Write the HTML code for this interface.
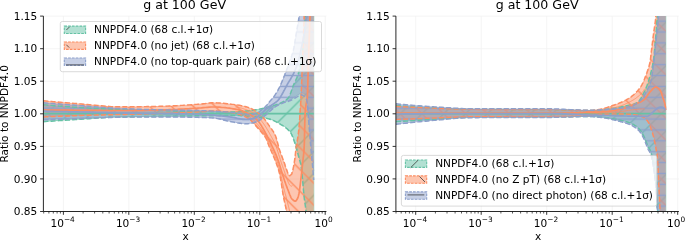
<!DOCTYPE html>
<html><head><meta charset="utf-8"><title>g at 100 GeV</title>
<style>html,body{margin:0;padding:0;background:#fff;}body{width:685px;height:240px;overflow:hidden;}svg{display:block;}text{font-family:"DejaVu Sans","Liberation Sans",sans-serif;fill:#000;}.t{font-size:10.55px;}.s{font-size:7.4px;}.ttl{font-size:12.6px;}</style></head><body>
<svg width="685" height="240" viewBox="0 0 685 240">
<defs>
<pattern id="hgL" patternUnits="userSpaceOnUse" x="0" y="8.52" width="21.76" height="21.76"><path d="M0,21.76 L21.76,0 M-1,1 L1,-1 M20.76,22.76 L22.76,20.76" stroke="#66c2a5" stroke-width="1.4" stroke-opacity="0.95" fill="none"/></pattern>
<pattern id="hoL" patternUnits="userSpaceOnUse" x="0" y="0.10" width="21.76" height="21.76"><path d="M0,0 L21.76,21.76 M20.76,-1 L22.76,1 M-1,20.76 L1,22.76" stroke="#fc8d62" stroke-width="1.4" stroke-opacity="0.95" fill="none"/></pattern>
<pattern id="hgR" patternUnits="userSpaceOnUse" x="0" y="13.56" width="21.76" height="21.76"><path d="M0,21.76 L21.76,0 M-1,1 L1,-1 M20.76,22.76 L22.76,20.76" stroke="#66c2a5" stroke-width="1.4" stroke-opacity="0.95" fill="none"/></pattern>
<pattern id="hoR" patternUnits="userSpaceOnUse" x="0" y="18.26" width="21.76" height="21.76"><path d="M0,0 L21.76,21.76 M20.76,-1 L22.76,1 M-1,20.76 L1,22.76" stroke="#fc8d62" stroke-width="1.4" stroke-opacity="0.95" fill="none"/></pattern>
<pattern id="hb" patternUnits="userSpaceOnUse" x="0" y="91.86" width="10.88" height="10.88"><path d="M0,5.44 L10.88,5.44" stroke="#8da0cb" stroke-width="1.4" stroke-opacity="0.95" fill="none"/></pattern>
<clipPath id="cl"><rect x="43.4" y="16.1" width="283.0" height="195.4"/></clipPath>
<clipPath id="cr"><rect x="395.9" y="16.1" width="283.0" height="195.4"/></clipPath>
<filter id="sb" x="-5%" y="-5%" width="110%" height="110%"><feGaussianBlur stdDeviation="0.5"/></filter>
</defs>
<rect width="685" height="240" fill="#fff"/>
<path d="M63.4,16.1 V211.5 M128.8,16.1 V211.5 M194.3,16.1 V211.5 M259.8,16.1 V211.5 M325.2,16.1 V211.5 M43.4,211.5 H326.4 M43.4,178.9 H326.4 M43.4,146.4 H326.4 M43.4,113.8 H326.4 M43.4,81.2 H326.4 M43.4,48.7 H326.4 M43.4,16.1 H326.4" stroke="#f1f1f1" stroke-width="0.8" fill="none"/>
<g clip-path="url(#cl)"><g filter="url(#sb)">
<path d="M43.4,105.0 L45.4,105.1 L47.4,105.3 L49.4,105.5 L51.4,105.6 L53.4,105.8 L55.4,106.0 L57.4,106.1 L59.4,106.3 L61.4,106.4 L63.4,106.6 L65.4,106.7 L67.4,106.9 L69.4,107.0 L71.4,107.1 L73.4,107.3 L75.4,107.4 L77.4,107.5 L79.4,107.6 L81.4,107.8 L83.4,107.9 L85.4,108.0 L87.4,108.1 L89.4,108.2 L91.4,108.3 L93.4,108.4 L95.4,108.5 L97.4,108.7 L99.4,108.8 L101.4,108.9 L103.4,109.0 L105.4,109.0 L107.4,109.1 L109.4,109.2 L111.4,109.3 L113.4,109.4 L115.4,109.5 L117.4,109.5 L119.4,109.6 L121.4,109.7 L123.4,109.7 L125.4,109.8 L127.4,109.8 L129.4,109.9 L131.4,109.9 L133.4,110.0 L135.4,110.0 L137.4,110.1 L139.4,110.1 L141.4,110.2 L143.4,110.2 L145.4,110.3 L147.4,110.3 L149.4,110.4 L151.4,110.4 L153.4,110.4 L155.4,110.5 L157.4,110.5 L159.4,110.6 L161.4,110.6 L163.4,110.7 L165.4,110.7 L167.4,110.8 L169.4,110.8 L171.4,110.9 L173.4,110.9 L175.4,111.0 L177.4,111.1 L179.4,111.1 L181.4,111.2 L183.4,111.2 L185.4,111.3 L187.4,111.3 L189.4,111.4 L191.4,111.4 L193.4,111.4 L195.4,111.5 L197.4,111.5 L199.4,111.6 L201.4,111.6 L203.4,111.6 L205.4,111.6 L207.4,111.7 L209.4,111.7 L211.4,111.7 L213.4,111.8 L215.4,111.8 L217.4,111.8 L219.4,111.8 L221.4,111.9 L223.4,111.9 L225.4,111.9 L227.4,111.9 L229.4,111.9 L231.4,111.9 L233.4,111.9 L235.4,111.9 L237.4,111.9 L238.7,111.8 L239.2,111.8 L239.7,111.7 L240.2,111.7 L240.7,111.7 L241.2,111.6 L241.7,111.6 L242.2,111.5 L242.7,111.5 L243.2,111.4 L243.7,111.4 L244.2,111.3 L244.7,111.2 L245.2,111.2 L245.7,111.1 L246.2,111.1 L246.7,111.0 L247.2,110.9 L247.7,110.9 L248.2,110.8 L248.7,110.7 L249.2,110.7 L249.7,110.6 L250.2,110.6 L250.7,110.5 L251.2,110.5 L251.7,110.4 L252.2,110.3 L252.7,110.3 L253.2,110.2 L253.7,110.1 L254.2,110.1 L254.7,110.0 L255.2,109.9 L255.7,109.8 L256.2,109.8 L256.7,109.7 L257.2,109.6 L257.7,109.5 L258.2,109.5 L258.7,109.4 L259.2,109.3 L259.7,109.2 L260.2,109.1 L260.7,109.0 L261.2,108.9 L261.7,108.8 L262.2,108.7 L262.7,108.6 L263.2,108.5 L263.7,108.4 L264.2,108.2 L264.7,108.1 L265.2,108.0 L265.7,107.9 L266.2,107.7 L266.7,107.6 L267.2,107.5 L267.7,107.3 L268.2,107.2 L268.7,107.1 L269.2,106.9 L269.7,106.8 L270.2,106.7 L270.7,106.5 L271.2,106.4 L271.7,106.2 L272.2,106.1 L272.7,106.0 L273.2,105.8 L273.7,105.7 L274.2,105.5 L274.7,105.4 L275.2,105.2 L275.7,105.1 L276.2,104.9 L276.7,104.7 L277.2,104.6 L277.7,104.4 L278.2,104.2 L278.7,104.0 L279.2,103.8 L279.7,103.6 L280.2,103.4 L280.7,103.2 L281.2,103.0 L281.7,102.7 L282.2,102.5 L282.7,102.3 L283.2,102.0 L283.7,101.8 L284.0,101.6 L284.3,101.5 L284.6,101.3 L284.9,101.1 L285.2,100.9 L285.5,100.7 L285.8,100.5 L286.1,100.3 L286.4,100.1 L286.7,99.8 L287.0,99.6 L287.3,99.3 L287.6,99.1 L287.9,98.8 L288.2,98.5 L288.5,98.1 L288.8,97.7 L289.1,97.2 L289.4,96.6 L289.7,95.9 L290.0,95.2 L290.3,94.5 L290.6,93.7 L290.9,92.9 L291.2,92.1 L291.5,91.2 L291.8,90.4 L292.1,89.6 L292.4,88.7 L292.7,87.9 L293.0,87.1 L293.3,86.3 L293.6,85.6 L293.9,84.9 L294.2,84.3 L294.5,83.6 L294.8,83.0 L295.1,82.4 L295.4,81.8 L295.7,81.2 L296.0,80.5 L296.3,79.9 L296.6,79.2 L296.9,78.5 L297.2,77.8 L297.5,77.1 L297.8,76.3 L298.1,75.4 L298.4,74.5 L298.7,73.5 L299.0,72.5 L299.3,71.4 L299.6,70.1 L299.9,68.8 L300.2,67.4 L300.5,65.8 L300.8,64.2 L301.1,62.5 L301.4,60.7 L301.7,58.8 L302.0,56.8 L302.3,54.5 L302.6,51.9 L302.9,49.1 L303.2,46.0 L303.5,42.8 L303.8,39.5 L304.1,36.3 L304.4,32.9 L304.7,29.4 L305.0,25.6 L305.3,21.7 L305.6,17.5 L305.9,13.0 L306.2,8.2 L306.5,3.1 L306.8,-2.4 L307.1,-8.3 L307.4,-14.4 L307.7,-20.7 L308.0,-27.2 L308.3,-33.8 L308.6,-40.0 L308.9,-40.0 L309.2,-40.0 L309.5,-40.0 L309.8,-40.0 L310.1,-40.0 L310.4,-40.0 L310.7,-40.0 L311.0,-40.0 L311.3,-40.0 L311.6,-40.0 L311.9,-40.0 L312.2,-40.0 L312.5,-40.0 L312.8,-40.0 L313.1,-40.0 L313.4,-40.0 L313.7,-40.0 L313.7,280.0 L313.4,280.0 L313.1,280.0 L312.8,280.0 L312.5,280.0 L312.2,280.0 L311.9,280.0 L311.6,280.0 L311.3,280.0 L311.0,280.0 L310.7,280.0 L310.4,274.5 L310.1,266.7 L309.8,259.4 L309.5,252.6 L309.2,246.3 L308.9,240.6 L308.6,235.3 L308.3,230.7 L308.0,226.5 L307.7,222.9 L307.4,219.8 L307.1,217.0 L306.8,214.4 L306.5,212.0 L306.2,209.7 L305.9,207.3 L305.6,205.0 L305.3,203.0 L305.0,201.0 L304.7,198.9 L304.4,196.8 L304.1,194.4 L303.8,191.7 L303.5,188.5 L303.2,185.0 L302.9,181.5 L302.6,178.1 L302.3,175.1 L302.0,172.3 L301.7,169.6 L301.4,167.1 L301.1,164.9 L300.8,163.2 L300.5,161.9 L300.2,160.7 L299.9,159.7 L299.6,158.7 L299.3,157.7 L299.0,156.7 L298.7,155.5 L298.4,154.4 L298.1,153.3 L297.8,152.2 L297.5,151.1 L297.2,150.0 L296.9,148.9 L296.6,147.9 L296.3,146.8 L296.0,145.8 L295.7,144.8 L295.4,143.8 L295.1,142.9 L294.8,142.0 L294.5,141.2 L294.2,140.3 L293.9,139.5 L293.6,138.7 L293.3,137.9 L293.0,137.1 L292.7,136.3 L292.4,135.6 L292.1,134.9 L291.8,134.3 L291.5,133.6 L291.2,133.1 L290.9,132.6 L290.6,132.2 L290.3,131.8 L290.0,131.4 L289.7,131.1 L289.4,130.7 L289.1,130.4 L288.8,130.1 L288.5,129.7 L288.2,129.4 L287.9,129.2 L287.6,128.9 L287.3,128.6 L287.0,128.3 L286.7,128.1 L286.4,127.8 L286.1,127.6 L285.8,127.4 L285.5,127.2 L285.2,126.9 L284.9,126.7 L284.6,126.5 L284.3,126.3 L284.0,126.1 L283.7,125.9 L283.2,125.6 L282.7,125.3 L282.2,125.0 L281.7,124.7 L281.2,124.4 L280.7,124.1 L280.2,123.8 L279.7,123.6 L279.2,123.3 L278.7,123.0 L278.2,122.7 L277.7,122.5 L277.2,122.2 L276.7,121.9 L276.2,121.7 L275.7,121.4 L275.2,121.2 L274.7,120.9 L274.2,120.7 L273.7,120.5 L273.2,120.3 L272.7,120.1 L272.2,119.9 L271.7,119.7 L271.2,119.5 L270.7,119.3 L270.2,119.2 L269.7,119.0 L269.2,118.9 L268.7,118.7 L268.2,118.6 L267.7,118.5 L267.2,118.4 L266.7,118.3 L266.2,118.2 L265.7,118.1 L265.2,118.0 L264.7,117.9 L264.2,117.8 L263.7,117.7 L263.2,117.6 L262.7,117.6 L262.2,117.5 L261.7,117.4 L261.2,117.3 L260.7,117.3 L260.2,117.2 L259.7,117.2 L259.2,117.1 L258.7,117.0 L258.2,117.0 L257.7,116.9 L257.2,116.9 L256.7,116.8 L256.2,116.8 L255.7,116.7 L255.2,116.7 L254.7,116.6 L254.2,116.6 L253.7,116.5 L253.2,116.5 L252.7,116.4 L252.2,116.4 L251.7,116.3 L251.2,116.3 L250.7,116.3 L250.2,116.2 L249.7,116.2 L249.2,116.2 L248.7,116.1 L248.2,116.1 L247.7,116.1 L247.2,116.0 L246.7,116.0 L246.2,115.9 L245.7,115.9 L245.2,115.9 L244.7,115.8 L244.2,115.8 L243.7,115.8 L243.2,115.7 L242.7,115.7 L242.2,115.7 L241.7,115.7 L241.2,115.6 L240.7,115.6 L240.2,115.6 L239.7,115.6 L239.2,115.5 L238.7,115.5 L237.4,115.5 L235.4,115.4 L233.4,115.4 L231.4,115.4 L229.4,115.5 L227.4,115.5 L225.4,115.5 L223.4,115.5 L221.4,115.5 L219.4,115.5 L217.4,115.5 L215.4,115.6 L213.4,115.6 L211.4,115.6 L209.4,115.6 L207.4,115.7 L205.4,115.7 L203.4,115.7 L201.4,115.7 L199.4,115.7 L197.4,115.8 L195.4,115.8 L193.4,115.8 L191.4,115.8 L189.4,115.8 L187.4,115.9 L185.4,115.9 L183.4,115.9 L181.4,115.9 L179.4,116.0 L177.4,116.0 L175.4,116.0 L173.4,116.0 L171.4,116.1 L169.4,116.1 L167.4,116.1 L165.4,116.1 L163.4,116.2 L161.4,116.2 L159.4,116.2 L157.4,116.3 L155.4,116.3 L153.4,116.3 L151.4,116.3 L149.4,116.4 L147.4,116.4 L145.4,116.4 L143.4,116.4 L141.4,116.5 L139.4,116.5 L137.4,116.5 L135.4,116.6 L133.4,116.6 L131.4,116.6 L129.4,116.7 L127.4,116.7 L125.4,116.8 L123.4,116.8 L121.4,116.9 L119.4,116.9 L117.4,117.0 L115.4,117.0 L113.4,117.1 L111.4,117.2 L109.4,117.3 L107.4,117.4 L105.4,117.5 L103.4,117.6 L101.4,117.8 L99.4,117.9 L97.4,118.0 L95.4,118.1 L93.4,118.3 L91.4,118.4 L89.4,118.5 L87.4,118.7 L85.4,118.8 L83.4,118.9 L81.4,119.0 L79.4,119.2 L77.4,119.3 L75.4,119.4 L73.4,119.5 L71.4,119.6 L69.4,119.8 L67.4,119.9 L65.4,120.0 L63.4,120.1 L61.4,120.3 L59.4,120.4 L57.4,120.5 L55.4,120.7 L53.4,120.8 L51.4,120.9 L49.4,121.1 L47.4,121.2 L45.4,121.3 L43.4,121.5Z" fill="#66c2a5" fill-opacity="0.5" stroke="none"/>
<path d="M43.4,105.0 L45.4,105.1 L47.4,105.3 L49.4,105.5 L51.4,105.6 L53.4,105.8 L55.4,106.0 L57.4,106.1 L59.4,106.3 L61.4,106.4 L63.4,106.6 L65.4,106.7 L67.4,106.9 L69.4,107.0 L71.4,107.1 L73.4,107.3 L75.4,107.4 L77.4,107.5 L79.4,107.6 L81.4,107.8 L83.4,107.9 L85.4,108.0 L87.4,108.1 L89.4,108.2 L91.4,108.3 L93.4,108.4 L95.4,108.5 L97.4,108.7 L99.4,108.8 L101.4,108.9 L103.4,109.0 L105.4,109.0 L107.4,109.1 L109.4,109.2 L111.4,109.3 L113.4,109.4 L115.4,109.5 L117.4,109.5 L119.4,109.6 L121.4,109.7 L123.4,109.7 L125.4,109.8 L127.4,109.8 L129.4,109.9 L131.4,109.9 L133.4,110.0 L135.4,110.0 L137.4,110.1 L139.4,110.1 L141.4,110.2 L143.4,110.2 L145.4,110.3 L147.4,110.3 L149.4,110.4 L151.4,110.4 L153.4,110.4 L155.4,110.5 L157.4,110.5 L159.4,110.6 L161.4,110.6 L163.4,110.7 L165.4,110.7 L167.4,110.8 L169.4,110.8 L171.4,110.9 L173.4,110.9 L175.4,111.0 L177.4,111.1 L179.4,111.1 L181.4,111.2 L183.4,111.2 L185.4,111.3 L187.4,111.3 L189.4,111.4 L191.4,111.4 L193.4,111.4 L195.4,111.5 L197.4,111.5 L199.4,111.6 L201.4,111.6 L203.4,111.6 L205.4,111.6 L207.4,111.7 L209.4,111.7 L211.4,111.7 L213.4,111.8 L215.4,111.8 L217.4,111.8 L219.4,111.8 L221.4,111.9 L223.4,111.9 L225.4,111.9 L227.4,111.9 L229.4,111.9 L231.4,111.9 L233.4,111.9 L235.4,111.9 L237.4,111.9 L238.7,111.8 L239.2,111.8 L239.7,111.7 L240.2,111.7 L240.7,111.7 L241.2,111.6 L241.7,111.6 L242.2,111.5 L242.7,111.5 L243.2,111.4 L243.7,111.4 L244.2,111.3 L244.7,111.2 L245.2,111.2 L245.7,111.1 L246.2,111.1 L246.7,111.0 L247.2,110.9 L247.7,110.9 L248.2,110.8 L248.7,110.7 L249.2,110.7 L249.7,110.6 L250.2,110.6 L250.7,110.5 L251.2,110.5 L251.7,110.4 L252.2,110.3 L252.7,110.3 L253.2,110.2 L253.7,110.1 L254.2,110.1 L254.7,110.0 L255.2,109.9 L255.7,109.8 L256.2,109.8 L256.7,109.7 L257.2,109.6 L257.7,109.5 L258.2,109.5 L258.7,109.4 L259.2,109.3 L259.7,109.2 L260.2,109.1 L260.7,109.0 L261.2,108.9 L261.7,108.8 L262.2,108.7 L262.7,108.6 L263.2,108.5 L263.7,108.4 L264.2,108.2 L264.7,108.1 L265.2,108.0 L265.7,107.9 L266.2,107.7 L266.7,107.6 L267.2,107.5 L267.7,107.3 L268.2,107.2 L268.7,107.1 L269.2,106.9 L269.7,106.8 L270.2,106.7 L270.7,106.5 L271.2,106.4 L271.7,106.2 L272.2,106.1 L272.7,106.0 L273.2,105.8 L273.7,105.7 L274.2,105.5 L274.7,105.4 L275.2,105.2 L275.7,105.1 L276.2,104.9 L276.7,104.7 L277.2,104.6 L277.7,104.4 L278.2,104.2 L278.7,104.0 L279.2,103.8 L279.7,103.6 L280.2,103.4 L280.7,103.2 L281.2,103.0 L281.7,102.7 L282.2,102.5 L282.7,102.3 L283.2,102.0 L283.7,101.8 L284.0,101.6 L284.3,101.5 L284.6,101.3 L284.9,101.1 L285.2,100.9 L285.5,100.7 L285.8,100.5 L286.1,100.3 L286.4,100.1 L286.7,99.8 L287.0,99.6 L287.3,99.3 L287.6,99.1 L287.9,98.8 L288.2,98.5 L288.5,98.1 L288.8,97.7 L289.1,97.2 L289.4,96.6 L289.7,95.9 L290.0,95.2 L290.3,94.5 L290.6,93.7 L290.9,92.9 L291.2,92.1 L291.5,91.2 L291.8,90.4 L292.1,89.6 L292.4,88.7 L292.7,87.9 L293.0,87.1 L293.3,86.3 L293.6,85.6 L293.9,84.9 L294.2,84.3 L294.5,83.6 L294.8,83.0 L295.1,82.4 L295.4,81.8 L295.7,81.2 L296.0,80.5 L296.3,79.9 L296.6,79.2 L296.9,78.5 L297.2,77.8 L297.5,77.1 L297.8,76.3 L298.1,75.4 L298.4,74.5 L298.7,73.5 L299.0,72.5 L299.3,71.4 L299.6,70.1 L299.9,68.8 L300.2,67.4 L300.5,65.8 L300.8,64.2 L301.1,62.5 L301.4,60.7 L301.7,58.8 L302.0,56.8 L302.3,54.5 L302.6,51.9 L302.9,49.1 L303.2,46.0 L303.5,42.8 L303.8,39.5 L304.1,36.3 L304.4,32.9 L304.7,29.4 L305.0,25.6 L305.3,21.7 L305.6,17.5 L305.9,13.0 L306.2,8.2 L306.5,3.1 L306.8,-2.4 L307.1,-8.3 L307.4,-14.4 L307.7,-20.7 L308.0,-27.2 L308.3,-33.8 L308.6,-40.0 L308.9,-40.0 L309.2,-40.0 L309.5,-40.0 L309.8,-40.0 L310.1,-40.0 L310.4,-40.0 L310.7,-40.0 L311.0,-40.0 L311.3,-40.0 L311.6,-40.0 L311.9,-40.0 L312.2,-40.0 L312.5,-40.0 L312.8,-40.0 L313.1,-40.0 L313.4,-40.0 L313.7,-40.0 L313.7,280.0 L313.4,280.0 L313.1,280.0 L312.8,280.0 L312.5,280.0 L312.2,280.0 L311.9,280.0 L311.6,280.0 L311.3,280.0 L311.0,280.0 L310.7,280.0 L310.4,274.5 L310.1,266.7 L309.8,259.4 L309.5,252.6 L309.2,246.3 L308.9,240.6 L308.6,235.3 L308.3,230.7 L308.0,226.5 L307.7,222.9 L307.4,219.8 L307.1,217.0 L306.8,214.4 L306.5,212.0 L306.2,209.7 L305.9,207.3 L305.6,205.0 L305.3,203.0 L305.0,201.0 L304.7,198.9 L304.4,196.8 L304.1,194.4 L303.8,191.7 L303.5,188.5 L303.2,185.0 L302.9,181.5 L302.6,178.1 L302.3,175.1 L302.0,172.3 L301.7,169.6 L301.4,167.1 L301.1,164.9 L300.8,163.2 L300.5,161.9 L300.2,160.7 L299.9,159.7 L299.6,158.7 L299.3,157.7 L299.0,156.7 L298.7,155.5 L298.4,154.4 L298.1,153.3 L297.8,152.2 L297.5,151.1 L297.2,150.0 L296.9,148.9 L296.6,147.9 L296.3,146.8 L296.0,145.8 L295.7,144.8 L295.4,143.8 L295.1,142.9 L294.8,142.0 L294.5,141.2 L294.2,140.3 L293.9,139.5 L293.6,138.7 L293.3,137.9 L293.0,137.1 L292.7,136.3 L292.4,135.6 L292.1,134.9 L291.8,134.3 L291.5,133.6 L291.2,133.1 L290.9,132.6 L290.6,132.2 L290.3,131.8 L290.0,131.4 L289.7,131.1 L289.4,130.7 L289.1,130.4 L288.8,130.1 L288.5,129.7 L288.2,129.4 L287.9,129.2 L287.6,128.9 L287.3,128.6 L287.0,128.3 L286.7,128.1 L286.4,127.8 L286.1,127.6 L285.8,127.4 L285.5,127.2 L285.2,126.9 L284.9,126.7 L284.6,126.5 L284.3,126.3 L284.0,126.1 L283.7,125.9 L283.2,125.6 L282.7,125.3 L282.2,125.0 L281.7,124.7 L281.2,124.4 L280.7,124.1 L280.2,123.8 L279.7,123.6 L279.2,123.3 L278.7,123.0 L278.2,122.7 L277.7,122.5 L277.2,122.2 L276.7,121.9 L276.2,121.7 L275.7,121.4 L275.2,121.2 L274.7,120.9 L274.2,120.7 L273.7,120.5 L273.2,120.3 L272.7,120.1 L272.2,119.9 L271.7,119.7 L271.2,119.5 L270.7,119.3 L270.2,119.2 L269.7,119.0 L269.2,118.9 L268.7,118.7 L268.2,118.6 L267.7,118.5 L267.2,118.4 L266.7,118.3 L266.2,118.2 L265.7,118.1 L265.2,118.0 L264.7,117.9 L264.2,117.8 L263.7,117.7 L263.2,117.6 L262.7,117.6 L262.2,117.5 L261.7,117.4 L261.2,117.3 L260.7,117.3 L260.2,117.2 L259.7,117.2 L259.2,117.1 L258.7,117.0 L258.2,117.0 L257.7,116.9 L257.2,116.9 L256.7,116.8 L256.2,116.8 L255.7,116.7 L255.2,116.7 L254.7,116.6 L254.2,116.6 L253.7,116.5 L253.2,116.5 L252.7,116.4 L252.2,116.4 L251.7,116.3 L251.2,116.3 L250.7,116.3 L250.2,116.2 L249.7,116.2 L249.2,116.2 L248.7,116.1 L248.2,116.1 L247.7,116.1 L247.2,116.0 L246.7,116.0 L246.2,115.9 L245.7,115.9 L245.2,115.9 L244.7,115.8 L244.2,115.8 L243.7,115.8 L243.2,115.7 L242.7,115.7 L242.2,115.7 L241.7,115.7 L241.2,115.6 L240.7,115.6 L240.2,115.6 L239.7,115.6 L239.2,115.5 L238.7,115.5 L237.4,115.5 L235.4,115.4 L233.4,115.4 L231.4,115.4 L229.4,115.5 L227.4,115.5 L225.4,115.5 L223.4,115.5 L221.4,115.5 L219.4,115.5 L217.4,115.5 L215.4,115.6 L213.4,115.6 L211.4,115.6 L209.4,115.6 L207.4,115.7 L205.4,115.7 L203.4,115.7 L201.4,115.7 L199.4,115.7 L197.4,115.8 L195.4,115.8 L193.4,115.8 L191.4,115.8 L189.4,115.8 L187.4,115.9 L185.4,115.9 L183.4,115.9 L181.4,115.9 L179.4,116.0 L177.4,116.0 L175.4,116.0 L173.4,116.0 L171.4,116.1 L169.4,116.1 L167.4,116.1 L165.4,116.1 L163.4,116.2 L161.4,116.2 L159.4,116.2 L157.4,116.3 L155.4,116.3 L153.4,116.3 L151.4,116.3 L149.4,116.4 L147.4,116.4 L145.4,116.4 L143.4,116.4 L141.4,116.5 L139.4,116.5 L137.4,116.5 L135.4,116.6 L133.4,116.6 L131.4,116.6 L129.4,116.7 L127.4,116.7 L125.4,116.8 L123.4,116.8 L121.4,116.9 L119.4,116.9 L117.4,117.0 L115.4,117.0 L113.4,117.1 L111.4,117.2 L109.4,117.3 L107.4,117.4 L105.4,117.5 L103.4,117.6 L101.4,117.8 L99.4,117.9 L97.4,118.0 L95.4,118.1 L93.4,118.3 L91.4,118.4 L89.4,118.5 L87.4,118.7 L85.4,118.8 L83.4,118.9 L81.4,119.0 L79.4,119.2 L77.4,119.3 L75.4,119.4 L73.4,119.5 L71.4,119.6 L69.4,119.8 L67.4,119.9 L65.4,120.0 L63.4,120.1 L61.4,120.3 L59.4,120.4 L57.4,120.5 L55.4,120.7 L53.4,120.8 L51.4,120.9 L49.4,121.1 L47.4,121.2 L45.4,121.3 L43.4,121.5Z" fill="url(#hgL)" stroke="none"/>
<path d="M43.4,105.0 L45.4,105.1 L47.4,105.3 L49.4,105.5 L51.4,105.6 L53.4,105.8 L55.4,106.0 L57.4,106.1 L59.4,106.3 L61.4,106.4 L63.4,106.6 L65.4,106.7 L67.4,106.9 L69.4,107.0 L71.4,107.1 L73.4,107.3 L75.4,107.4 L77.4,107.5 L79.4,107.6 L81.4,107.8 L83.4,107.9 L85.4,108.0 L87.4,108.1 L89.4,108.2 L91.4,108.3 L93.4,108.4 L95.4,108.5 L97.4,108.7 L99.4,108.8 L101.4,108.9 L103.4,109.0 L105.4,109.0 L107.4,109.1 L109.4,109.2 L111.4,109.3 L113.4,109.4 L115.4,109.5 L117.4,109.5 L119.4,109.6 L121.4,109.7 L123.4,109.7 L125.4,109.8 L127.4,109.8 L129.4,109.9 L131.4,109.9 L133.4,110.0 L135.4,110.0 L137.4,110.1 L139.4,110.1 L141.4,110.2 L143.4,110.2 L145.4,110.3 L147.4,110.3 L149.4,110.4 L151.4,110.4 L153.4,110.4 L155.4,110.5 L157.4,110.5 L159.4,110.6 L161.4,110.6 L163.4,110.7 L165.4,110.7 L167.4,110.8 L169.4,110.8 L171.4,110.9 L173.4,110.9 L175.4,111.0 L177.4,111.1 L179.4,111.1 L181.4,111.2 L183.4,111.2 L185.4,111.3 L187.4,111.3 L189.4,111.4 L191.4,111.4 L193.4,111.4 L195.4,111.5 L197.4,111.5 L199.4,111.6 L201.4,111.6 L203.4,111.6 L205.4,111.6 L207.4,111.7 L209.4,111.7 L211.4,111.7 L213.4,111.8 L215.4,111.8 L217.4,111.8 L219.4,111.8 L221.4,111.9 L223.4,111.9 L225.4,111.9 L227.4,111.9 L229.4,111.9 L231.4,111.9 L233.4,111.9 L235.4,111.9 L237.4,111.9 L238.7,111.8 L239.2,111.8 L239.7,111.7 L240.2,111.7 L240.7,111.7 L241.2,111.6 L241.7,111.6 L242.2,111.5 L242.7,111.5 L243.2,111.4 L243.7,111.4 L244.2,111.3 L244.7,111.2 L245.2,111.2 L245.7,111.1 L246.2,111.1 L246.7,111.0 L247.2,110.9 L247.7,110.9 L248.2,110.8 L248.7,110.7 L249.2,110.7 L249.7,110.6 L250.2,110.6 L250.7,110.5 L251.2,110.5 L251.7,110.4 L252.2,110.3 L252.7,110.3 L253.2,110.2 L253.7,110.1 L254.2,110.1 L254.7,110.0 L255.2,109.9 L255.7,109.8 L256.2,109.8 L256.7,109.7 L257.2,109.6 L257.7,109.5 L258.2,109.5 L258.7,109.4 L259.2,109.3 L259.7,109.2 L260.2,109.1 L260.7,109.0 L261.2,108.9 L261.7,108.8 L262.2,108.7 L262.7,108.6 L263.2,108.5 L263.7,108.4 L264.2,108.2 L264.7,108.1 L265.2,108.0 L265.7,107.9 L266.2,107.7 L266.7,107.6 L267.2,107.5 L267.7,107.3 L268.2,107.2 L268.7,107.1 L269.2,106.9 L269.7,106.8 L270.2,106.7 L270.7,106.5 L271.2,106.4 L271.7,106.2 L272.2,106.1 L272.7,106.0 L273.2,105.8 L273.7,105.7 L274.2,105.5 L274.7,105.4 L275.2,105.2 L275.7,105.1 L276.2,104.9 L276.7,104.7 L277.2,104.6 L277.7,104.4 L278.2,104.2 L278.7,104.0 L279.2,103.8 L279.7,103.6 L280.2,103.4 L280.7,103.2 L281.2,103.0 L281.7,102.7 L282.2,102.5 L282.7,102.3 L283.2,102.0 L283.7,101.8 L284.0,101.6 L284.3,101.5 L284.6,101.3 L284.9,101.1 L285.2,100.9 L285.5,100.7 L285.8,100.5 L286.1,100.3 L286.4,100.1 L286.7,99.8 L287.0,99.6 L287.3,99.3 L287.6,99.1 L287.9,98.8 L288.2,98.5 L288.5,98.1 L288.8,97.7 L289.1,97.2 L289.4,96.6 L289.7,95.9 L290.0,95.2 L290.3,94.5 L290.6,93.7 L290.9,92.9 L291.2,92.1 L291.5,91.2 L291.8,90.4 L292.1,89.6 L292.4,88.7 L292.7,87.9 L293.0,87.1 L293.3,86.3 L293.6,85.6 L293.9,84.9 L294.2,84.3 L294.5,83.6 L294.8,83.0 L295.1,82.4 L295.4,81.8 L295.7,81.2 L296.0,80.5 L296.3,79.9 L296.6,79.2 L296.9,78.5 L297.2,77.8 L297.5,77.1 L297.8,76.3 L298.1,75.4 L298.4,74.5 L298.7,73.5 L299.0,72.5 L299.3,71.4 L299.6,70.1 L299.9,68.8 L300.2,67.4 L300.5,65.8 L300.8,64.2 L301.1,62.5 L301.4,60.7 L301.7,58.8 L302.0,56.8 L302.3,54.5 L302.6,51.9 L302.9,49.1 L303.2,46.0 L303.5,42.8 L303.8,39.5 L304.1,36.3 L304.4,32.9 L304.7,29.4 L305.0,25.6 L305.3,21.7 L305.6,17.5 L305.9,13.0 L306.2,8.2 L306.5,3.1 L306.8,-2.4 L307.1,-8.3 L307.4,-14.4 L307.7,-20.7 L308.0,-27.2 L308.3,-33.8 L308.6,-40.0 L308.9,-40.0 L309.2,-40.0 L309.5,-40.0 L309.8,-40.0 L310.1,-40.0 L310.4,-40.0 L310.7,-40.0 L311.0,-40.0 L311.3,-40.0 L311.6,-40.0 L311.9,-40.0 L312.2,-40.0 L312.5,-40.0 L312.8,-40.0 L313.1,-40.0 L313.4,-40.0 L313.7,-40.0 M43.4,121.5 L45.4,121.3 L47.4,121.2 L49.4,121.1 L51.4,120.9 L53.4,120.8 L55.4,120.7 L57.4,120.5 L59.4,120.4 L61.4,120.3 L63.4,120.1 L65.4,120.0 L67.4,119.9 L69.4,119.8 L71.4,119.6 L73.4,119.5 L75.4,119.4 L77.4,119.3 L79.4,119.2 L81.4,119.0 L83.4,118.9 L85.4,118.8 L87.4,118.7 L89.4,118.5 L91.4,118.4 L93.4,118.3 L95.4,118.1 L97.4,118.0 L99.4,117.9 L101.4,117.8 L103.4,117.6 L105.4,117.5 L107.4,117.4 L109.4,117.3 L111.4,117.2 L113.4,117.1 L115.4,117.0 L117.4,117.0 L119.4,116.9 L121.4,116.9 L123.4,116.8 L125.4,116.8 L127.4,116.7 L129.4,116.7 L131.4,116.6 L133.4,116.6 L135.4,116.6 L137.4,116.5 L139.4,116.5 L141.4,116.5 L143.4,116.4 L145.4,116.4 L147.4,116.4 L149.4,116.4 L151.4,116.3 L153.4,116.3 L155.4,116.3 L157.4,116.3 L159.4,116.2 L161.4,116.2 L163.4,116.2 L165.4,116.1 L167.4,116.1 L169.4,116.1 L171.4,116.1 L173.4,116.0 L175.4,116.0 L177.4,116.0 L179.4,116.0 L181.4,115.9 L183.4,115.9 L185.4,115.9 L187.4,115.9 L189.4,115.8 L191.4,115.8 L193.4,115.8 L195.4,115.8 L197.4,115.8 L199.4,115.7 L201.4,115.7 L203.4,115.7 L205.4,115.7 L207.4,115.7 L209.4,115.6 L211.4,115.6 L213.4,115.6 L215.4,115.6 L217.4,115.5 L219.4,115.5 L221.4,115.5 L223.4,115.5 L225.4,115.5 L227.4,115.5 L229.4,115.5 L231.4,115.4 L233.4,115.4 L235.4,115.4 L237.4,115.5 L238.7,115.5 L239.2,115.5 L239.7,115.6 L240.2,115.6 L240.7,115.6 L241.2,115.6 L241.7,115.7 L242.2,115.7 L242.7,115.7 L243.2,115.7 L243.7,115.8 L244.2,115.8 L244.7,115.8 L245.2,115.9 L245.7,115.9 L246.2,115.9 L246.7,116.0 L247.2,116.0 L247.7,116.1 L248.2,116.1 L248.7,116.1 L249.2,116.2 L249.7,116.2 L250.2,116.2 L250.7,116.3 L251.2,116.3 L251.7,116.3 L252.2,116.4 L252.7,116.4 L253.2,116.5 L253.7,116.5 L254.2,116.6 L254.7,116.6 L255.2,116.7 L255.7,116.7 L256.2,116.8 L256.7,116.8 L257.2,116.9 L257.7,116.9 L258.2,117.0 L258.7,117.0 L259.2,117.1 L259.7,117.2 L260.2,117.2 L260.7,117.3 L261.2,117.3 L261.7,117.4 L262.2,117.5 L262.7,117.6 L263.2,117.6 L263.7,117.7 L264.2,117.8 L264.7,117.9 L265.2,118.0 L265.7,118.1 L266.2,118.2 L266.7,118.3 L267.2,118.4 L267.7,118.5 L268.2,118.6 L268.7,118.7 L269.2,118.9 L269.7,119.0 L270.2,119.2 L270.7,119.3 L271.2,119.5 L271.7,119.7 L272.2,119.9 L272.7,120.1 L273.2,120.3 L273.7,120.5 L274.2,120.7 L274.7,120.9 L275.2,121.2 L275.7,121.4 L276.2,121.7 L276.7,121.9 L277.2,122.2 L277.7,122.5 L278.2,122.7 L278.7,123.0 L279.2,123.3 L279.7,123.6 L280.2,123.8 L280.7,124.1 L281.2,124.4 L281.7,124.7 L282.2,125.0 L282.7,125.3 L283.2,125.6 L283.7,125.9 L284.0,126.1 L284.3,126.3 L284.6,126.5 L284.9,126.7 L285.2,126.9 L285.5,127.2 L285.8,127.4 L286.1,127.6 L286.4,127.8 L286.7,128.1 L287.0,128.3 L287.3,128.6 L287.6,128.9 L287.9,129.2 L288.2,129.4 L288.5,129.7 L288.8,130.1 L289.1,130.4 L289.4,130.7 L289.7,131.1 L290.0,131.4 L290.3,131.8 L290.6,132.2 L290.9,132.6 L291.2,133.1 L291.5,133.6 L291.8,134.3 L292.1,134.9 L292.4,135.6 L292.7,136.3 L293.0,137.1 L293.3,137.9 L293.6,138.7 L293.9,139.5 L294.2,140.3 L294.5,141.2 L294.8,142.0 L295.1,142.9 L295.4,143.8 L295.7,144.8 L296.0,145.8 L296.3,146.8 L296.6,147.9 L296.9,148.9 L297.2,150.0 L297.5,151.1 L297.8,152.2 L298.1,153.3 L298.4,154.4 L298.7,155.5 L299.0,156.7 L299.3,157.7 L299.6,158.7 L299.9,159.7 L300.2,160.7 L300.5,161.9 L300.8,163.2 L301.1,164.9 L301.4,167.1 L301.7,169.6 L302.0,172.3 L302.3,175.1 L302.6,178.1 L302.9,181.5 L303.2,185.0 L303.5,188.5 L303.8,191.7 L304.1,194.4 L304.4,196.8 L304.7,198.9 L305.0,201.0 L305.3,203.0 L305.6,205.0 L305.9,207.3 L306.2,209.7 L306.5,212.0 L306.8,214.4 L307.1,217.0 L307.4,219.8 L307.7,222.9 L308.0,226.5 L308.3,230.7 L308.6,235.3 L308.9,240.6 L309.2,246.3 L309.5,252.6 L309.8,259.4 L310.1,266.7 L310.4,274.5 L310.7,280.0 L311.0,280.0 L311.3,280.0 L311.6,280.0 L311.9,280.0 L312.2,280.0 L312.5,280.0 L312.8,280.0 L313.1,280.0 L313.4,280.0 L313.7,280.0" fill="none" stroke="#66c2a5" stroke-opacity="0.75" stroke-width="0.9" stroke-linejoin="round"/>
<path d="M313.9,-10 V250" fill="none" stroke="#66c2a5" stroke-opacity="0.6" stroke-width="0.8"/>
<path d="M43.4,101.1 L45.4,101.2 L47.4,101.4 L49.4,101.6 L51.4,101.8 L53.4,101.9 L55.4,102.1 L57.4,102.3 L59.4,102.4 L61.4,102.6 L63.4,102.7 L65.4,102.9 L67.4,103.1 L69.4,103.2 L71.4,103.4 L73.4,103.5 L75.4,103.7 L77.4,103.9 L79.4,104.0 L81.4,104.2 L83.4,104.3 L85.4,104.5 L87.4,104.7 L89.4,104.9 L91.4,105.1 L93.4,105.3 L95.4,105.5 L97.4,105.6 L99.4,105.8 L101.4,106.0 L103.4,106.2 L105.4,106.3 L107.4,106.5 L109.4,106.6 L111.4,106.7 L113.4,106.8 L115.4,106.9 L117.4,106.9 L119.4,106.9 L121.4,106.9 L123.4,106.9 L125.4,106.9 L127.4,106.9 L129.4,106.9 L131.4,106.9 L133.4,106.9 L135.4,106.9 L137.4,106.8 L139.4,106.8 L141.4,106.8 L143.4,106.8 L145.4,106.7 L147.4,106.7 L149.4,106.7 L151.4,106.6 L153.4,106.6 L155.4,106.5 L157.4,106.5 L159.4,106.5 L161.4,106.4 L163.4,106.4 L165.4,106.3 L167.4,106.2 L169.4,106.2 L171.4,106.1 L173.4,106.0 L175.4,105.9 L177.4,105.8 L179.4,105.7 L181.4,105.5 L183.4,105.4 L185.4,105.3 L187.4,105.2 L189.4,105.0 L191.4,104.9 L193.4,104.7 L195.4,104.6 L197.4,104.4 L199.4,104.3 L201.4,104.1 L203.4,103.9 L205.4,103.6 L207.4,103.4 L209.4,103.2 L211.4,103.0 L213.4,103.0 L215.4,103.0 L217.4,103.1 L219.4,103.2 L221.4,103.3 L223.4,103.5 L225.4,103.7 L227.4,103.9 L229.4,104.1 L231.4,104.3 L233.4,104.6 L235.4,104.8 L237.4,105.1 L238.7,105.3 L239.2,105.4 L239.7,105.5 L240.2,105.6 L240.7,105.7 L241.2,105.8 L241.7,105.9 L242.2,106.0 L242.7,106.1 L243.2,106.2 L243.7,106.4 L244.2,106.5 L244.7,106.6 L245.2,106.8 L245.7,106.9 L246.2,107.0 L246.7,107.2 L247.2,107.3 L247.7,107.5 L248.2,107.6 L248.7,107.8 L249.2,108.0 L249.7,108.2 L250.2,108.3 L250.7,108.5 L251.2,108.8 L251.7,109.0 L252.2,109.3 L252.7,109.5 L253.2,109.8 L253.7,110.2 L254.2,110.5 L254.7,110.8 L255.2,111.2 L255.7,111.5 L256.2,111.9 L256.7,112.3 L257.2,112.7 L257.7,113.0 L258.2,113.4 L258.7,113.8 L259.2,114.2 L259.7,114.7 L260.2,115.1 L260.7,115.5 L261.2,116.0 L261.7,116.5 L262.2,117.0 L262.7,117.5 L263.2,118.1 L263.7,118.6 L264.2,119.2 L264.7,119.8 L265.2,120.4 L265.7,121.1 L266.2,121.7 L266.7,122.4 L267.2,123.2 L267.7,123.9 L268.2,124.7 L268.7,125.4 L269.2,126.2 L269.7,126.9 L270.2,127.7 L270.7,128.4 L271.2,129.1 L271.7,129.8 L272.2,130.5 L272.7,131.3 L273.2,132.0 L273.7,132.9 L274.2,133.7 L274.7,134.7 L275.2,135.7 L275.7,137.0 L276.2,138.4 L276.7,140.1 L277.2,141.9 L277.7,143.8 L278.2,145.7 L278.7,147.6 L279.2,149.3 L279.7,150.9 L280.2,152.4 L280.7,153.8 L281.2,155.1 L281.7,156.5 L282.2,157.8 L282.7,159.1 L283.2,160.4 L283.7,161.7 L284.0,162.6 L284.3,163.4 L284.6,164.3 L284.9,165.2 L285.2,166.1 L285.5,167.1 L285.8,168.0 L286.1,168.9 L286.4,169.7 L286.7,170.5 L287.0,171.3 L287.3,172.1 L287.6,173.0 L287.9,173.8 L288.2,174.5 L288.5,175.1 L288.8,175.6 L289.1,176.0 L289.4,176.2 L289.7,176.2 L290.0,176.2 L290.3,176.0 L290.6,175.8 L290.9,175.6 L291.2,175.3 L291.5,175.0 L291.8,174.5 L292.1,173.7 L292.4,172.7 L292.7,171.5 L293.0,170.3 L293.3,169.0 L293.6,167.6 L293.9,166.0 L294.2,164.2 L294.5,162.2 L294.8,160.2 L295.1,158.0 L295.4,155.5 L295.7,152.8 L296.0,150.3 L296.3,148.2 L296.6,146.5 L296.9,145.0 L297.2,143.3 L297.5,141.5 L297.8,139.6 L298.1,137.6 L298.4,135.4 L298.7,132.8 L299.0,129.9 L299.3,126.5 L299.6,122.8 L299.9,118.1 L300.2,113.0 L300.5,108.1 L300.8,103.0 L301.1,97.6 L301.4,91.8 L301.7,85.3 L302.0,77.6 L302.3,69.4 L302.6,61.7 L302.9,54.4 L303.2,47.2 L303.5,39.8 L303.8,32.2 L304.1,24.1 L304.4,15.1 L304.7,5.1 L305.0,-5.0 L305.3,-14.6 L305.6,-24.2 L305.9,-33.7 L306.2,-40.0 L306.5,-40.0 L306.8,-40.0 L307.1,-40.0 L307.4,-40.0 L307.7,-40.0 L308.0,-40.0 L308.3,-40.0 L308.6,-40.0 L308.9,-40.0 L309.2,-40.0 L309.5,-40.0 L309.8,-40.0 L310.1,-40.0 L310.4,-40.0 L310.7,-40.0 L311.0,-40.0 L311.3,-40.0 L311.6,-40.0 L311.9,-40.0 L312.2,-40.0 L312.5,-40.0 L312.8,-40.0 L313.1,-40.0 L313.4,-40.0 L313.7,-40.0 L313.7,280.0 L313.4,280.0 L313.1,280.0 L312.8,280.0 L312.5,280.0 L312.2,280.0 L311.9,280.0 L311.6,280.0 L311.3,280.0 L311.0,280.0 L310.7,280.0 L310.4,280.0 L310.1,280.0 L309.8,280.0 L309.5,280.0 L309.2,280.0 L308.9,280.0 L308.6,280.0 L308.3,280.0 L308.0,280.0 L307.7,280.0 L307.4,280.0 L307.1,280.0 L306.8,280.0 L306.5,280.0 L306.2,280.0 L305.9,280.0 L305.6,280.0 L305.3,280.0 L305.0,280.0 L304.7,280.0 L304.4,280.0 L304.1,280.0 L303.8,280.0 L303.5,280.0 L303.2,280.0 L302.9,280.0 L302.6,280.0 L302.3,280.0 L302.0,280.0 L301.7,280.0 L301.4,280.0 L301.1,280.0 L300.8,280.0 L300.5,280.0 L300.2,280.0 L299.9,280.0 L299.6,280.0 L299.3,280.0 L299.0,280.0 L298.7,280.0 L298.4,280.0 L298.1,280.0 L297.8,277.8 L297.5,275.6 L297.2,273.4 L296.9,271.3 L296.6,269.2 L296.3,267.1 L296.0,265.1 L295.7,263.1 L295.4,261.1 L295.1,259.1 L294.8,257.2 L294.5,255.3 L294.2,253.4 L293.9,251.6 L293.6,249.8 L293.3,247.9 L293.0,246.2 L292.7,244.4 L292.4,242.6 L292.1,240.8 L291.8,239.1 L291.5,237.3 L291.2,235.6 L290.9,233.9 L290.6,232.1 L290.3,230.4 L290.0,228.6 L289.7,226.9 L289.4,225.2 L289.1,223.5 L288.8,221.8 L288.5,220.2 L288.2,218.6 L287.9,217.1 L287.6,215.5 L287.3,214.0 L287.0,212.5 L286.7,211.0 L286.4,209.5 L286.1,208.1 L285.8,206.7 L285.5,205.4 L285.2,204.1 L284.9,202.8 L284.6,201.4 L284.3,200.1 L284.0,198.7 L283.7,197.2 L283.2,194.5 L282.7,191.6 L282.2,188.5 L281.7,185.3 L281.2,182.1 L280.7,179.1 L280.2,176.4 L279.7,174.0 L279.2,172.0 L278.7,170.1 L278.2,168.5 L277.7,166.9 L277.2,165.5 L276.7,164.1 L276.2,162.7 L275.7,161.4 L275.2,160.1 L274.7,158.8 L274.2,157.6 L273.7,156.4 L273.2,155.3 L272.7,154.2 L272.2,153.0 L271.7,151.9 L271.2,150.7 L270.7,149.6 L270.2,148.5 L269.7,147.4 L269.2,146.2 L268.7,145.0 L268.2,143.7 L267.7,142.3 L267.2,141.0 L266.7,139.7 L266.2,138.6 L265.7,137.6 L265.2,136.8 L264.7,136.1 L264.2,135.4 L263.7,134.8 L263.2,134.2 L262.7,133.6 L262.2,133.0 L261.7,132.4 L261.2,131.8 L260.7,131.2 L260.2,130.6 L259.7,130.0 L259.2,129.4 L258.7,128.8 L258.2,128.3 L257.7,127.7 L257.2,127.2 L256.7,126.6 L256.2,126.0 L255.7,125.4 L255.2,124.8 L254.7,124.2 L254.2,123.6 L253.7,123.0 L253.2,122.5 L252.7,121.9 L252.2,121.5 L251.7,121.0 L251.2,120.6 L250.7,120.1 L250.2,119.7 L249.7,119.3 L249.2,118.9 L248.7,118.6 L248.2,118.2 L247.7,117.9 L247.2,117.6 L246.7,117.3 L246.2,117.1 L245.7,116.8 L245.2,116.6 L244.7,116.3 L244.2,116.1 L243.7,115.9 L243.2,115.6 L242.7,115.4 L242.2,115.2 L241.7,115.0 L241.2,114.8 L240.7,114.6 L240.2,114.4 L239.7,114.2 L239.2,114.1 L238.7,113.9 L237.4,113.5 L235.4,113.1 L233.4,112.8 L231.4,112.5 L229.4,112.2 L227.4,111.9 L225.4,111.6 L223.4,111.4 L221.4,111.2 L219.4,111.1 L217.4,111.0 L215.4,110.9 L213.4,110.8 L211.4,110.9 L209.4,111.0 L207.4,111.1 L205.4,111.3 L203.4,111.5 L201.4,111.7 L199.4,111.8 L197.4,111.9 L195.4,112.0 L193.4,112.1 L191.4,112.2 L189.4,112.3 L187.4,112.4 L185.4,112.4 L183.4,112.5 L181.4,112.6 L179.4,112.7 L177.4,112.8 L175.4,112.8 L173.4,112.9 L171.4,113.0 L169.4,113.1 L167.4,113.1 L165.4,113.2 L163.4,113.3 L161.4,113.3 L159.4,113.4 L157.4,113.4 L155.4,113.5 L153.4,113.5 L151.4,113.6 L149.4,113.7 L147.4,113.7 L145.4,113.8 L143.4,113.8 L141.4,113.8 L139.4,113.9 L137.4,113.9 L135.4,114.0 L133.4,114.0 L131.4,114.1 L129.4,114.1 L127.4,114.2 L125.4,114.2 L123.4,114.3 L121.4,114.3 L119.4,114.4 L117.4,114.4 L115.4,114.4 L113.4,114.5 L111.4,114.5 L109.4,114.6 L107.4,114.6 L105.4,114.7 L103.4,114.7 L101.4,114.8 L99.4,114.8 L97.4,114.8 L95.4,114.9 L93.4,114.9 L91.4,115.0 L89.4,115.0 L87.4,115.1 L85.4,115.1 L83.4,115.2 L81.4,115.3 L79.4,115.3 L77.4,115.4 L75.4,115.4 L73.4,115.5 L71.4,115.6 L69.4,115.6 L67.4,115.7 L65.4,115.8 L63.4,115.9 L61.4,115.9 L59.4,116.0 L57.4,116.1 L55.4,116.2 L53.4,116.3 L51.4,116.4 L49.4,116.4 L47.4,116.5 L45.4,116.6 L43.4,116.7Z" fill="#fc8d62" fill-opacity="0.5" stroke="none"/>
<path d="M43.4,101.1 L45.4,101.2 L47.4,101.4 L49.4,101.6 L51.4,101.8 L53.4,101.9 L55.4,102.1 L57.4,102.3 L59.4,102.4 L61.4,102.6 L63.4,102.7 L65.4,102.9 L67.4,103.1 L69.4,103.2 L71.4,103.4 L73.4,103.5 L75.4,103.7 L77.4,103.9 L79.4,104.0 L81.4,104.2 L83.4,104.3 L85.4,104.5 L87.4,104.7 L89.4,104.9 L91.4,105.1 L93.4,105.3 L95.4,105.5 L97.4,105.6 L99.4,105.8 L101.4,106.0 L103.4,106.2 L105.4,106.3 L107.4,106.5 L109.4,106.6 L111.4,106.7 L113.4,106.8 L115.4,106.9 L117.4,106.9 L119.4,106.9 L121.4,106.9 L123.4,106.9 L125.4,106.9 L127.4,106.9 L129.4,106.9 L131.4,106.9 L133.4,106.9 L135.4,106.9 L137.4,106.8 L139.4,106.8 L141.4,106.8 L143.4,106.8 L145.4,106.7 L147.4,106.7 L149.4,106.7 L151.4,106.6 L153.4,106.6 L155.4,106.5 L157.4,106.5 L159.4,106.5 L161.4,106.4 L163.4,106.4 L165.4,106.3 L167.4,106.2 L169.4,106.2 L171.4,106.1 L173.4,106.0 L175.4,105.9 L177.4,105.8 L179.4,105.7 L181.4,105.5 L183.4,105.4 L185.4,105.3 L187.4,105.2 L189.4,105.0 L191.4,104.9 L193.4,104.7 L195.4,104.6 L197.4,104.4 L199.4,104.3 L201.4,104.1 L203.4,103.9 L205.4,103.6 L207.4,103.4 L209.4,103.2 L211.4,103.0 L213.4,103.0 L215.4,103.0 L217.4,103.1 L219.4,103.2 L221.4,103.3 L223.4,103.5 L225.4,103.7 L227.4,103.9 L229.4,104.1 L231.4,104.3 L233.4,104.6 L235.4,104.8 L237.4,105.1 L238.7,105.3 L239.2,105.4 L239.7,105.5 L240.2,105.6 L240.7,105.7 L241.2,105.8 L241.7,105.9 L242.2,106.0 L242.7,106.1 L243.2,106.2 L243.7,106.4 L244.2,106.5 L244.7,106.6 L245.2,106.8 L245.7,106.9 L246.2,107.0 L246.7,107.2 L247.2,107.3 L247.7,107.5 L248.2,107.6 L248.7,107.8 L249.2,108.0 L249.7,108.2 L250.2,108.3 L250.7,108.5 L251.2,108.8 L251.7,109.0 L252.2,109.3 L252.7,109.5 L253.2,109.8 L253.7,110.2 L254.2,110.5 L254.7,110.8 L255.2,111.2 L255.7,111.5 L256.2,111.9 L256.7,112.3 L257.2,112.7 L257.7,113.0 L258.2,113.4 L258.7,113.8 L259.2,114.2 L259.7,114.7 L260.2,115.1 L260.7,115.5 L261.2,116.0 L261.7,116.5 L262.2,117.0 L262.7,117.5 L263.2,118.1 L263.7,118.6 L264.2,119.2 L264.7,119.8 L265.2,120.4 L265.7,121.1 L266.2,121.7 L266.7,122.4 L267.2,123.2 L267.7,123.9 L268.2,124.7 L268.7,125.4 L269.2,126.2 L269.7,126.9 L270.2,127.7 L270.7,128.4 L271.2,129.1 L271.7,129.8 L272.2,130.5 L272.7,131.3 L273.2,132.0 L273.7,132.9 L274.2,133.7 L274.7,134.7 L275.2,135.7 L275.7,137.0 L276.2,138.4 L276.7,140.1 L277.2,141.9 L277.7,143.8 L278.2,145.7 L278.7,147.6 L279.2,149.3 L279.7,150.9 L280.2,152.4 L280.7,153.8 L281.2,155.1 L281.7,156.5 L282.2,157.8 L282.7,159.1 L283.2,160.4 L283.7,161.7 L284.0,162.6 L284.3,163.4 L284.6,164.3 L284.9,165.2 L285.2,166.1 L285.5,167.1 L285.8,168.0 L286.1,168.9 L286.4,169.7 L286.7,170.5 L287.0,171.3 L287.3,172.1 L287.6,173.0 L287.9,173.8 L288.2,174.5 L288.5,175.1 L288.8,175.6 L289.1,176.0 L289.4,176.2 L289.7,176.2 L290.0,176.2 L290.3,176.0 L290.6,175.8 L290.9,175.6 L291.2,175.3 L291.5,175.0 L291.8,174.5 L292.1,173.7 L292.4,172.7 L292.7,171.5 L293.0,170.3 L293.3,169.0 L293.6,167.6 L293.9,166.0 L294.2,164.2 L294.5,162.2 L294.8,160.2 L295.1,158.0 L295.4,155.5 L295.7,152.8 L296.0,150.3 L296.3,148.2 L296.6,146.5 L296.9,145.0 L297.2,143.3 L297.5,141.5 L297.8,139.6 L298.1,137.6 L298.4,135.4 L298.7,132.8 L299.0,129.9 L299.3,126.5 L299.6,122.8 L299.9,118.1 L300.2,113.0 L300.5,108.1 L300.8,103.0 L301.1,97.6 L301.4,91.8 L301.7,85.3 L302.0,77.6 L302.3,69.4 L302.6,61.7 L302.9,54.4 L303.2,47.2 L303.5,39.8 L303.8,32.2 L304.1,24.1 L304.4,15.1 L304.7,5.1 L305.0,-5.0 L305.3,-14.6 L305.6,-24.2 L305.9,-33.7 L306.2,-40.0 L306.5,-40.0 L306.8,-40.0 L307.1,-40.0 L307.4,-40.0 L307.7,-40.0 L308.0,-40.0 L308.3,-40.0 L308.6,-40.0 L308.9,-40.0 L309.2,-40.0 L309.5,-40.0 L309.8,-40.0 L310.1,-40.0 L310.4,-40.0 L310.7,-40.0 L311.0,-40.0 L311.3,-40.0 L311.6,-40.0 L311.9,-40.0 L312.2,-40.0 L312.5,-40.0 L312.8,-40.0 L313.1,-40.0 L313.4,-40.0 L313.7,-40.0 L313.7,280.0 L313.4,280.0 L313.1,280.0 L312.8,280.0 L312.5,280.0 L312.2,280.0 L311.9,280.0 L311.6,280.0 L311.3,280.0 L311.0,280.0 L310.7,280.0 L310.4,280.0 L310.1,280.0 L309.8,280.0 L309.5,280.0 L309.2,280.0 L308.9,280.0 L308.6,280.0 L308.3,280.0 L308.0,280.0 L307.7,280.0 L307.4,280.0 L307.1,280.0 L306.8,280.0 L306.5,280.0 L306.2,280.0 L305.9,280.0 L305.6,280.0 L305.3,280.0 L305.0,280.0 L304.7,280.0 L304.4,280.0 L304.1,280.0 L303.8,280.0 L303.5,280.0 L303.2,280.0 L302.9,280.0 L302.6,280.0 L302.3,280.0 L302.0,280.0 L301.7,280.0 L301.4,280.0 L301.1,280.0 L300.8,280.0 L300.5,280.0 L300.2,280.0 L299.9,280.0 L299.6,280.0 L299.3,280.0 L299.0,280.0 L298.7,280.0 L298.4,280.0 L298.1,280.0 L297.8,277.8 L297.5,275.6 L297.2,273.4 L296.9,271.3 L296.6,269.2 L296.3,267.1 L296.0,265.1 L295.7,263.1 L295.4,261.1 L295.1,259.1 L294.8,257.2 L294.5,255.3 L294.2,253.4 L293.9,251.6 L293.6,249.8 L293.3,247.9 L293.0,246.2 L292.7,244.4 L292.4,242.6 L292.1,240.8 L291.8,239.1 L291.5,237.3 L291.2,235.6 L290.9,233.9 L290.6,232.1 L290.3,230.4 L290.0,228.6 L289.7,226.9 L289.4,225.2 L289.1,223.5 L288.8,221.8 L288.5,220.2 L288.2,218.6 L287.9,217.1 L287.6,215.5 L287.3,214.0 L287.0,212.5 L286.7,211.0 L286.4,209.5 L286.1,208.1 L285.8,206.7 L285.5,205.4 L285.2,204.1 L284.9,202.8 L284.6,201.4 L284.3,200.1 L284.0,198.7 L283.7,197.2 L283.2,194.5 L282.7,191.6 L282.2,188.5 L281.7,185.3 L281.2,182.1 L280.7,179.1 L280.2,176.4 L279.7,174.0 L279.2,172.0 L278.7,170.1 L278.2,168.5 L277.7,166.9 L277.2,165.5 L276.7,164.1 L276.2,162.7 L275.7,161.4 L275.2,160.1 L274.7,158.8 L274.2,157.6 L273.7,156.4 L273.2,155.3 L272.7,154.2 L272.2,153.0 L271.7,151.9 L271.2,150.7 L270.7,149.6 L270.2,148.5 L269.7,147.4 L269.2,146.2 L268.7,145.0 L268.2,143.7 L267.7,142.3 L267.2,141.0 L266.7,139.7 L266.2,138.6 L265.7,137.6 L265.2,136.8 L264.7,136.1 L264.2,135.4 L263.7,134.8 L263.2,134.2 L262.7,133.6 L262.2,133.0 L261.7,132.4 L261.2,131.8 L260.7,131.2 L260.2,130.6 L259.7,130.0 L259.2,129.4 L258.7,128.8 L258.2,128.3 L257.7,127.7 L257.2,127.2 L256.7,126.6 L256.2,126.0 L255.7,125.4 L255.2,124.8 L254.7,124.2 L254.2,123.6 L253.7,123.0 L253.2,122.5 L252.7,121.9 L252.2,121.5 L251.7,121.0 L251.2,120.6 L250.7,120.1 L250.2,119.7 L249.7,119.3 L249.2,118.9 L248.7,118.6 L248.2,118.2 L247.7,117.9 L247.2,117.6 L246.7,117.3 L246.2,117.1 L245.7,116.8 L245.2,116.6 L244.7,116.3 L244.2,116.1 L243.7,115.9 L243.2,115.6 L242.7,115.4 L242.2,115.2 L241.7,115.0 L241.2,114.8 L240.7,114.6 L240.2,114.4 L239.7,114.2 L239.2,114.1 L238.7,113.9 L237.4,113.5 L235.4,113.1 L233.4,112.8 L231.4,112.5 L229.4,112.2 L227.4,111.9 L225.4,111.6 L223.4,111.4 L221.4,111.2 L219.4,111.1 L217.4,111.0 L215.4,110.9 L213.4,110.8 L211.4,110.9 L209.4,111.0 L207.4,111.1 L205.4,111.3 L203.4,111.5 L201.4,111.7 L199.4,111.8 L197.4,111.9 L195.4,112.0 L193.4,112.1 L191.4,112.2 L189.4,112.3 L187.4,112.4 L185.4,112.4 L183.4,112.5 L181.4,112.6 L179.4,112.7 L177.4,112.8 L175.4,112.8 L173.4,112.9 L171.4,113.0 L169.4,113.1 L167.4,113.1 L165.4,113.2 L163.4,113.3 L161.4,113.3 L159.4,113.4 L157.4,113.4 L155.4,113.5 L153.4,113.5 L151.4,113.6 L149.4,113.7 L147.4,113.7 L145.4,113.8 L143.4,113.8 L141.4,113.8 L139.4,113.9 L137.4,113.9 L135.4,114.0 L133.4,114.0 L131.4,114.1 L129.4,114.1 L127.4,114.2 L125.4,114.2 L123.4,114.3 L121.4,114.3 L119.4,114.4 L117.4,114.4 L115.4,114.4 L113.4,114.5 L111.4,114.5 L109.4,114.6 L107.4,114.6 L105.4,114.7 L103.4,114.7 L101.4,114.8 L99.4,114.8 L97.4,114.8 L95.4,114.9 L93.4,114.9 L91.4,115.0 L89.4,115.0 L87.4,115.1 L85.4,115.1 L83.4,115.2 L81.4,115.3 L79.4,115.3 L77.4,115.4 L75.4,115.4 L73.4,115.5 L71.4,115.6 L69.4,115.6 L67.4,115.7 L65.4,115.8 L63.4,115.9 L61.4,115.9 L59.4,116.0 L57.4,116.1 L55.4,116.2 L53.4,116.3 L51.4,116.4 L49.4,116.4 L47.4,116.5 L45.4,116.6 L43.4,116.7Z" fill="url(#hoL)" stroke="none"/>
<path d="M43.4,101.1 L45.4,101.2 L47.4,101.4 L49.4,101.6 L51.4,101.8 L53.4,101.9 L55.4,102.1 L57.4,102.3 L59.4,102.4 L61.4,102.6 L63.4,102.7 L65.4,102.9 L67.4,103.1 L69.4,103.2 L71.4,103.4 L73.4,103.5 L75.4,103.7 L77.4,103.9 L79.4,104.0 L81.4,104.2 L83.4,104.3 L85.4,104.5 L87.4,104.7 L89.4,104.9 L91.4,105.1 L93.4,105.3 L95.4,105.5 L97.4,105.6 L99.4,105.8 L101.4,106.0 L103.4,106.2 L105.4,106.3 L107.4,106.5 L109.4,106.6 L111.4,106.7 L113.4,106.8 L115.4,106.9 L117.4,106.9 L119.4,106.9 L121.4,106.9 L123.4,106.9 L125.4,106.9 L127.4,106.9 L129.4,106.9 L131.4,106.9 L133.4,106.9 L135.4,106.9 L137.4,106.8 L139.4,106.8 L141.4,106.8 L143.4,106.8 L145.4,106.7 L147.4,106.7 L149.4,106.7 L151.4,106.6 L153.4,106.6 L155.4,106.5 L157.4,106.5 L159.4,106.5 L161.4,106.4 L163.4,106.4 L165.4,106.3 L167.4,106.2 L169.4,106.2 L171.4,106.1 L173.4,106.0 L175.4,105.9 L177.4,105.8 L179.4,105.7 L181.4,105.5 L183.4,105.4 L185.4,105.3 L187.4,105.2 L189.4,105.0 L191.4,104.9 L193.4,104.7 L195.4,104.6 L197.4,104.4 L199.4,104.3 L201.4,104.1 L203.4,103.9 L205.4,103.6 L207.4,103.4 L209.4,103.2 L211.4,103.0 L213.4,103.0 L215.4,103.0 L217.4,103.1 L219.4,103.2 L221.4,103.3 L223.4,103.5 L225.4,103.7 L227.4,103.9 L229.4,104.1 L231.4,104.3 L233.4,104.6 L235.4,104.8 L237.4,105.1 L238.7,105.3 L239.2,105.4 L239.7,105.5 L240.2,105.6 L240.7,105.7 L241.2,105.8 L241.7,105.9 L242.2,106.0 L242.7,106.1 L243.2,106.2 L243.7,106.4 L244.2,106.5 L244.7,106.6 L245.2,106.8 L245.7,106.9 L246.2,107.0 L246.7,107.2 L247.2,107.3 L247.7,107.5 L248.2,107.6 L248.7,107.8 L249.2,108.0 L249.7,108.2 L250.2,108.3 L250.7,108.5 L251.2,108.8 L251.7,109.0 L252.2,109.3 L252.7,109.5 L253.2,109.8 L253.7,110.2 L254.2,110.5 L254.7,110.8 L255.2,111.2 L255.7,111.5 L256.2,111.9 L256.7,112.3 L257.2,112.7 L257.7,113.0 L258.2,113.4 L258.7,113.8 L259.2,114.2 L259.7,114.7 L260.2,115.1 L260.7,115.5 L261.2,116.0 L261.7,116.5 L262.2,117.0 L262.7,117.5 L263.2,118.1 L263.7,118.6 L264.2,119.2 L264.7,119.8 L265.2,120.4 L265.7,121.1 L266.2,121.7 L266.7,122.4 L267.2,123.2 L267.7,123.9 L268.2,124.7 L268.7,125.4 L269.2,126.2 L269.7,126.9 L270.2,127.7 L270.7,128.4 L271.2,129.1 L271.7,129.8 L272.2,130.5 L272.7,131.3 L273.2,132.0 L273.7,132.9 L274.2,133.7 L274.7,134.7 L275.2,135.7 L275.7,137.0 L276.2,138.4 L276.7,140.1 L277.2,141.9 L277.7,143.8 L278.2,145.7 L278.7,147.6 L279.2,149.3 L279.7,150.9 L280.2,152.4 L280.7,153.8 L281.2,155.1 L281.7,156.5 L282.2,157.8 L282.7,159.1 L283.2,160.4 L283.7,161.7 L284.0,162.6 L284.3,163.4 L284.6,164.3 L284.9,165.2 L285.2,166.1 L285.5,167.1 L285.8,168.0 L286.1,168.9 L286.4,169.7 L286.7,170.5 L287.0,171.3 L287.3,172.1 L287.6,173.0 L287.9,173.8 L288.2,174.5 L288.5,175.1 L288.8,175.6 L289.1,176.0 L289.4,176.2 L289.7,176.2 L290.0,176.2 L290.3,176.0 L290.6,175.8 L290.9,175.6 L291.2,175.3 L291.5,175.0 L291.8,174.5 L292.1,173.7 L292.4,172.7 L292.7,171.5 L293.0,170.3 L293.3,169.0 L293.6,167.6 L293.9,166.0 L294.2,164.2 L294.5,162.2 L294.8,160.2 L295.1,158.0 L295.4,155.5 L295.7,152.8 L296.0,150.3 L296.3,148.2 L296.6,146.5 L296.9,145.0 L297.2,143.3 L297.5,141.5 L297.8,139.6 L298.1,137.6 L298.4,135.4 L298.7,132.8 L299.0,129.9 L299.3,126.5 L299.6,122.8 L299.9,118.1 L300.2,113.0 L300.5,108.1 L300.8,103.0 L301.1,97.6 L301.4,91.8 L301.7,85.3 L302.0,77.6 L302.3,69.4 L302.6,61.7 L302.9,54.4 L303.2,47.2 L303.5,39.8 L303.8,32.2 L304.1,24.1 L304.4,15.1 L304.7,5.1 L305.0,-5.0 L305.3,-14.6 L305.6,-24.2 L305.9,-33.7 L306.2,-40.0 L306.5,-40.0 L306.8,-40.0 L307.1,-40.0 L307.4,-40.0 L307.7,-40.0 L308.0,-40.0 L308.3,-40.0 L308.6,-40.0 L308.9,-40.0 L309.2,-40.0 L309.5,-40.0 L309.8,-40.0 L310.1,-40.0 L310.4,-40.0 L310.7,-40.0 L311.0,-40.0 L311.3,-40.0 L311.6,-40.0 L311.9,-40.0 L312.2,-40.0 L312.5,-40.0 L312.8,-40.0 L313.1,-40.0 L313.4,-40.0 L313.7,-40.0 M43.4,116.7 L45.4,116.6 L47.4,116.5 L49.4,116.4 L51.4,116.4 L53.4,116.3 L55.4,116.2 L57.4,116.1 L59.4,116.0 L61.4,115.9 L63.4,115.9 L65.4,115.8 L67.4,115.7 L69.4,115.6 L71.4,115.6 L73.4,115.5 L75.4,115.4 L77.4,115.4 L79.4,115.3 L81.4,115.3 L83.4,115.2 L85.4,115.1 L87.4,115.1 L89.4,115.0 L91.4,115.0 L93.4,114.9 L95.4,114.9 L97.4,114.8 L99.4,114.8 L101.4,114.8 L103.4,114.7 L105.4,114.7 L107.4,114.6 L109.4,114.6 L111.4,114.5 L113.4,114.5 L115.4,114.4 L117.4,114.4 L119.4,114.4 L121.4,114.3 L123.4,114.3 L125.4,114.2 L127.4,114.2 L129.4,114.1 L131.4,114.1 L133.4,114.0 L135.4,114.0 L137.4,113.9 L139.4,113.9 L141.4,113.8 L143.4,113.8 L145.4,113.8 L147.4,113.7 L149.4,113.7 L151.4,113.6 L153.4,113.5 L155.4,113.5 L157.4,113.4 L159.4,113.4 L161.4,113.3 L163.4,113.3 L165.4,113.2 L167.4,113.1 L169.4,113.1 L171.4,113.0 L173.4,112.9 L175.4,112.8 L177.4,112.8 L179.4,112.7 L181.4,112.6 L183.4,112.5 L185.4,112.4 L187.4,112.4 L189.4,112.3 L191.4,112.2 L193.4,112.1 L195.4,112.0 L197.4,111.9 L199.4,111.8 L201.4,111.7 L203.4,111.5 L205.4,111.3 L207.4,111.1 L209.4,111.0 L211.4,110.9 L213.4,110.8 L215.4,110.9 L217.4,111.0 L219.4,111.1 L221.4,111.2 L223.4,111.4 L225.4,111.6 L227.4,111.9 L229.4,112.2 L231.4,112.5 L233.4,112.8 L235.4,113.1 L237.4,113.5 L238.7,113.9 L239.2,114.1 L239.7,114.2 L240.2,114.4 L240.7,114.6 L241.2,114.8 L241.7,115.0 L242.2,115.2 L242.7,115.4 L243.2,115.6 L243.7,115.9 L244.2,116.1 L244.7,116.3 L245.2,116.6 L245.7,116.8 L246.2,117.1 L246.7,117.3 L247.2,117.6 L247.7,117.9 L248.2,118.2 L248.7,118.6 L249.2,118.9 L249.7,119.3 L250.2,119.7 L250.7,120.1 L251.2,120.6 L251.7,121.0 L252.2,121.5 L252.7,121.9 L253.2,122.5 L253.7,123.0 L254.2,123.6 L254.7,124.2 L255.2,124.8 L255.7,125.4 L256.2,126.0 L256.7,126.6 L257.2,127.2 L257.7,127.7 L258.2,128.3 L258.7,128.8 L259.2,129.4 L259.7,130.0 L260.2,130.6 L260.7,131.2 L261.2,131.8 L261.7,132.4 L262.2,133.0 L262.7,133.6 L263.2,134.2 L263.7,134.8 L264.2,135.4 L264.7,136.1 L265.2,136.8 L265.7,137.6 L266.2,138.6 L266.7,139.7 L267.2,141.0 L267.7,142.3 L268.2,143.7 L268.7,145.0 L269.2,146.2 L269.7,147.4 L270.2,148.5 L270.7,149.6 L271.2,150.7 L271.7,151.9 L272.2,153.0 L272.7,154.2 L273.2,155.3 L273.7,156.4 L274.2,157.6 L274.7,158.8 L275.2,160.1 L275.7,161.4 L276.2,162.7 L276.7,164.1 L277.2,165.5 L277.7,166.9 L278.2,168.5 L278.7,170.1 L279.2,172.0 L279.7,174.0 L280.2,176.4 L280.7,179.1 L281.2,182.1 L281.7,185.3 L282.2,188.5 L282.7,191.6 L283.2,194.5 L283.7,197.2 L284.0,198.7 L284.3,200.1 L284.6,201.4 L284.9,202.8 L285.2,204.1 L285.5,205.4 L285.8,206.7 L286.1,208.1 L286.4,209.5 L286.7,211.0 L287.0,212.5 L287.3,214.0 L287.6,215.5 L287.9,217.1 L288.2,218.6 L288.5,220.2 L288.8,221.8 L289.1,223.5 L289.4,225.2 L289.7,226.9 L290.0,228.6 L290.3,230.4 L290.6,232.1 L290.9,233.9 L291.2,235.6 L291.5,237.3 L291.8,239.1 L292.1,240.8 L292.4,242.6 L292.7,244.4 L293.0,246.2 L293.3,247.9 L293.6,249.8 L293.9,251.6 L294.2,253.4 L294.5,255.3 L294.8,257.2 L295.1,259.1 L295.4,261.1 L295.7,263.1 L296.0,265.1 L296.3,267.1 L296.6,269.2 L296.9,271.3 L297.2,273.4 L297.5,275.6 L297.8,277.8 L298.1,280.0 L298.4,280.0 L298.7,280.0 L299.0,280.0 L299.3,280.0 L299.6,280.0 L299.9,280.0 L300.2,280.0 L300.5,280.0 L300.8,280.0 L301.1,280.0 L301.4,280.0 L301.7,280.0 L302.0,280.0 L302.3,280.0 L302.6,280.0 L302.9,280.0 L303.2,280.0 L303.5,280.0 L303.8,280.0 L304.1,280.0 L304.4,280.0 L304.7,280.0 L305.0,280.0 L305.3,280.0 L305.6,280.0 L305.9,280.0 L306.2,280.0 L306.5,280.0 L306.8,280.0 L307.1,280.0 L307.4,280.0 L307.7,280.0 L308.0,280.0 L308.3,280.0 L308.6,280.0 L308.9,280.0 L309.2,280.0 L309.5,280.0 L309.8,280.0 L310.1,280.0 L310.4,280.0 L310.7,280.0 L311.0,280.0 L311.3,280.0 L311.6,280.0 L311.9,280.0 L312.2,280.0 L312.5,280.0 L312.8,280.0 L313.1,280.0 L313.4,280.0 L313.7,280.0" fill="none" stroke="#fc8d62" stroke-opacity="0.75" stroke-width="0.9" stroke-linejoin="round"/>
<path d="M43.4,103.1 L45.4,103.3 L47.4,103.4 L49.4,103.6 L51.4,103.7 L53.4,103.8 L55.4,104.0 L57.4,104.1 L59.4,104.3 L61.4,104.4 L63.4,104.6 L65.4,104.7 L67.4,104.9 L69.4,105.0 L71.4,105.1 L73.4,105.3 L75.4,105.4 L77.4,105.6 L79.4,105.7 L81.4,105.9 L83.4,106.0 L85.4,106.2 L87.4,106.3 L89.4,106.5 L91.4,106.7 L93.4,106.8 L95.4,107.0 L97.4,107.1 L99.4,107.3 L101.4,107.5 L103.4,107.6 L105.4,107.8 L107.4,107.9 L109.4,108.1 L111.4,108.2 L113.4,108.3 L115.4,108.4 L117.4,108.6 L119.4,108.7 L121.4,108.7 L123.4,108.8 L125.4,108.9 L127.4,109.0 L129.4,109.1 L131.4,109.1 L133.4,109.2 L135.4,109.3 L137.4,109.3 L139.4,109.4 L141.4,109.5 L143.4,109.5 L145.4,109.6 L147.4,109.6 L149.4,109.7 L151.4,109.7 L153.4,109.8 L155.4,109.8 L157.4,109.9 L159.4,109.9 L161.4,110.0 L163.4,110.0 L165.4,110.1 L167.4,110.1 L169.4,110.1 L171.4,110.2 L173.4,110.2 L175.4,110.2 L177.4,110.3 L179.4,110.3 L181.4,110.3 L183.4,110.4 L185.4,110.4 L187.4,110.4 L189.4,110.5 L191.4,110.5 L193.4,110.6 L195.4,110.6 L197.4,110.7 L199.4,110.7 L201.4,110.8 L203.4,110.9 L205.4,110.9 L207.4,111.0 L209.4,111.1 L211.4,111.2 L213.4,111.3 L215.4,111.5 L217.4,111.6 L219.4,111.7 L221.4,111.8 L223.4,112.0 L225.4,112.1 L227.4,112.3 L229.4,112.4 L231.4,112.6 L233.4,112.8 L235.4,112.9 L237.4,113.2 L238.7,113.4 L239.2,113.4 L239.7,113.5 L240.2,113.6 L240.7,113.7 L241.2,113.8 L241.7,113.8 L242.2,113.9 L242.7,114.0 L243.2,114.1 L243.7,114.2 L244.2,114.2 L244.7,114.3 L245.2,114.4 L245.7,114.4 L246.2,114.5 L246.7,114.5 L247.2,114.6 L247.7,114.6 L248.2,114.6 L248.7,114.7 L249.2,114.7 L249.7,114.7 L250.2,114.7 L250.7,114.7 L251.2,114.6 L251.7,114.6 L252.2,114.5 L252.7,114.4 L253.2,114.3 L253.7,114.2 L254.2,114.0 L254.7,113.9 L255.2,113.7 L255.7,113.5 L256.2,113.4 L256.7,113.2 L257.2,113.0 L257.7,112.8 L258.2,112.6 L258.7,112.3 L259.2,112.0 L259.7,111.6 L260.2,111.2 L260.7,110.8 L261.2,110.3 L261.7,109.9 L262.2,109.5 L262.7,109.1 L263.2,108.7 L263.7,108.2 L264.2,107.8 L264.7,107.4 L265.2,106.9 L265.7,106.4 L266.2,106.0 L266.7,105.4 L267.2,104.9 L267.7,104.3 L268.2,103.7 L268.7,103.0 L269.2,102.4 L269.7,101.7 L270.2,101.1 L270.7,100.6 L271.2,100.0 L271.7,99.4 L272.2,98.8 L272.7,98.3 L273.2,97.7 L273.7,97.0 L274.2,96.4 L274.7,95.7 L275.2,95.0 L275.7,94.3 L276.2,93.5 L276.7,92.7 L277.2,91.8 L277.7,91.0 L278.2,90.1 L278.7,89.1 L279.2,88.1 L279.7,87.1 L280.2,86.1 L280.7,85.0 L281.2,83.9 L281.7,82.7 L282.2,81.5 L282.7,80.3 L283.2,79.1 L283.7,77.9 L284.0,77.1 L284.3,76.4 L284.6,75.6 L284.9,74.8 L285.2,74.1 L285.5,73.3 L285.8,72.6 L286.1,71.8 L286.4,71.1 L286.7,70.3 L287.0,69.5 L287.3,68.7 L287.6,67.9 L287.9,67.1 L288.2,66.3 L288.5,65.5 L288.8,64.7 L289.1,63.9 L289.4,63.0 L289.7,62.2 L290.0,61.4 L290.3,60.5 L290.6,59.7 L290.9,58.8 L291.2,58.0 L291.5,57.2 L291.8,56.3 L292.1,55.4 L292.4,54.5 L292.7,53.5 L293.0,52.5 L293.3,51.4 L293.6,50.1 L293.9,48.7 L294.2,47.1 L294.5,45.4 L294.8,43.6 L295.1,41.7 L295.4,39.8 L295.7,38.0 L296.0,36.1 L296.3,34.4 L296.6,32.7 L296.9,31.0 L297.2,29.3 L297.5,27.6 L297.8,25.9 L298.1,24.2 L298.4,22.5 L298.7,20.7 L299.0,18.9 L299.3,17.0 L299.6,15.2 L299.9,13.4 L300.2,11.6 L300.5,9.7 L300.8,7.6 L301.1,5.4 L301.4,2.8 L301.7,-0.0 L302.0,-3.1 L302.3,-6.4 L302.6,-9.9 L302.9,-13.6 L303.2,-17.6 L303.5,-21.7 L303.8,-26.1 L304.1,-30.6 L304.4,-35.4 L304.7,-40.0 L305.0,-40.0 L305.3,-40.0 L305.6,-40.0 L305.9,-40.0 L306.2,-40.0 L306.5,-40.0 L306.8,-40.0 L307.1,-40.0 L307.4,-40.0 L307.7,-40.0 L308.0,-40.0 L308.3,-40.0 L308.6,-40.0 L308.9,-40.0 L309.2,-40.0 L309.5,-40.0 L309.8,-40.0 L310.1,-40.0 L310.4,-40.0 L310.7,-40.0 L311.0,-40.0 L311.3,-40.0 L311.6,-40.0 L311.9,-40.0 L312.2,-40.0 L312.5,-40.0 L312.8,-40.0 L313.1,-40.0 L313.4,-40.0 L313.7,-40.0 L313.7,170.8 L313.4,167.1 L313.1,163.6 L312.8,160.4 L312.5,157.4 L312.2,154.6 L311.9,151.9 L311.6,149.1 L311.3,146.3 L311.0,143.2 L310.7,140.0 L310.4,136.5 L310.1,133.0 L309.8,129.4 L309.5,125.8 L309.2,122.4 L308.9,119.1 L308.6,115.7 L308.3,112.0 L308.0,108.2 L307.7,104.6 L307.4,101.4 L307.1,98.7 L306.8,96.9 L306.5,96.1 L306.2,95.5 L305.9,95.1 L305.6,94.7 L305.3,94.4 L305.0,94.1 L304.7,93.9 L304.4,93.8 L304.1,93.6 L303.8,93.5 L303.5,93.4 L303.2,93.3 L302.9,93.2 L302.6,93.1 L302.3,93.1 L302.0,93.0 L301.7,93.1 L301.4,93.1 L301.1,93.2 L300.8,93.3 L300.5,93.4 L300.2,93.6 L299.9,93.7 L299.6,93.9 L299.3,94.1 L299.0,94.3 L298.7,94.5 L298.4,94.7 L298.1,94.9 L297.8,95.1 L297.5,95.3 L297.2,95.6 L296.9,95.8 L296.6,95.9 L296.3,96.1 L296.0,96.3 L295.7,96.5 L295.4,96.7 L295.1,96.8 L294.8,97.0 L294.5,97.2 L294.2,97.4 L293.9,97.6 L293.6,97.8 L293.3,98.0 L293.0,98.2 L292.7,98.4 L292.4,98.6 L292.1,98.7 L291.8,98.9 L291.5,99.1 L291.2,99.3 L290.9,99.4 L290.6,99.6 L290.3,99.7 L290.0,99.9 L289.7,100.0 L289.4,100.1 L289.1,100.3 L288.8,100.4 L288.5,100.5 L288.2,100.6 L287.9,100.7 L287.6,100.8 L287.3,100.9 L287.0,101.1 L286.7,101.2 L286.4,101.3 L286.1,101.4 L285.8,101.5 L285.5,101.6 L285.2,101.7 L284.9,101.8 L284.6,101.9 L284.3,102.0 L284.0,102.2 L283.7,102.3 L283.2,102.5 L282.7,102.7 L282.2,102.9 L281.7,103.2 L281.2,103.4 L280.7,103.6 L280.2,103.9 L279.7,104.1 L279.2,104.4 L278.7,104.6 L278.2,104.9 L277.7,105.1 L277.2,105.4 L276.7,105.7 L276.2,106.0 L275.7,106.3 L275.2,106.7 L274.7,107.1 L274.2,107.4 L273.7,107.8 L273.2,108.3 L272.7,108.7 L272.2,109.1 L271.7,109.5 L271.2,110.0 L270.7,110.4 L270.2,110.8 L269.7,111.2 L269.2,111.7 L268.7,112.1 L268.2,112.6 L267.7,113.0 L267.2,113.5 L266.7,113.9 L266.2,114.4 L265.7,114.8 L265.2,115.3 L264.7,115.7 L264.2,116.1 L263.7,116.6 L263.2,117.0 L262.7,117.5 L262.2,118.0 L261.7,118.4 L261.2,118.9 L260.7,119.3 L260.2,119.7 L259.7,120.1 L259.2,120.5 L258.7,120.8 L258.2,121.1 L257.7,121.3 L257.2,121.4 L256.7,121.6 L256.2,121.8 L255.7,121.9 L255.2,122.1 L254.7,122.2 L254.2,122.4 L253.7,122.5 L253.2,122.6 L252.7,122.8 L252.2,122.9 L251.7,123.0 L251.2,123.1 L250.7,123.2 L250.2,123.3 L249.7,123.3 L249.2,123.4 L248.7,123.5 L248.2,123.5 L247.7,123.6 L247.2,123.6 L246.7,123.6 L246.2,123.6 L245.7,123.6 L245.2,123.6 L244.7,123.6 L244.2,123.6 L243.7,123.5 L243.2,123.5 L242.7,123.5 L242.2,123.4 L241.7,123.4 L241.2,123.3 L240.7,123.2 L240.2,123.2 L239.7,123.1 L239.2,123.0 L238.7,122.9 L237.4,122.7 L235.4,122.3 L233.4,121.9 L231.4,121.6 L229.4,121.2 L227.4,120.8 L225.4,120.4 L223.4,119.9 L221.4,119.4 L219.4,118.9 L217.4,118.5 L215.4,118.2 L213.4,117.9 L211.4,117.8 L209.4,117.6 L207.4,117.5 L205.4,117.4 L203.4,117.4 L201.4,117.3 L199.4,117.3 L197.4,117.2 L195.4,117.2 L193.4,117.1 L191.4,117.1 L189.4,117.1 L187.4,117.0 L185.4,117.0 L183.4,117.0 L181.4,116.9 L179.4,116.9 L177.4,116.9 L175.4,116.9 L173.4,116.8 L171.4,116.8 L169.4,116.8 L167.4,116.8 L165.4,116.8 L163.4,116.8 L161.4,116.8 L159.4,116.8 L157.4,116.8 L155.4,116.8 L153.4,116.8 L151.4,116.8 L149.4,116.8 L147.4,116.8 L145.4,116.8 L143.4,116.8 L141.4,116.8 L139.4,116.8 L137.4,116.9 L135.4,116.9 L133.4,116.9 L131.4,116.9 L129.4,116.9 L127.4,117.0 L125.4,117.0 L123.4,117.0 L121.4,117.0 L119.4,117.0 L117.4,117.1 L115.4,117.1 L113.4,117.1 L111.4,117.2 L109.4,117.2 L107.4,117.3 L105.4,117.4 L103.4,117.4 L101.4,117.5 L99.4,117.5 L97.4,117.6 L95.4,117.7 L93.4,117.8 L91.4,117.8 L89.4,117.9 L87.4,118.0 L85.4,118.1 L83.4,118.1 L81.4,118.2 L79.4,118.3 L77.4,118.3 L75.4,118.4 L73.4,118.5 L71.4,118.5 L69.4,118.6 L67.4,118.7 L65.4,118.7 L63.4,118.8 L61.4,118.9 L59.4,119.0 L57.4,119.0 L55.4,119.1 L53.4,119.2 L51.4,119.2 L49.4,119.3 L47.4,119.4 L45.4,119.5 L43.4,119.6Z" fill="#8da0cb" fill-opacity="0.5" stroke="none"/>
<path d="M43.4,103.1 L45.4,103.3 L47.4,103.4 L49.4,103.6 L51.4,103.7 L53.4,103.8 L55.4,104.0 L57.4,104.1 L59.4,104.3 L61.4,104.4 L63.4,104.6 L65.4,104.7 L67.4,104.9 L69.4,105.0 L71.4,105.1 L73.4,105.3 L75.4,105.4 L77.4,105.6 L79.4,105.7 L81.4,105.9 L83.4,106.0 L85.4,106.2 L87.4,106.3 L89.4,106.5 L91.4,106.7 L93.4,106.8 L95.4,107.0 L97.4,107.1 L99.4,107.3 L101.4,107.5 L103.4,107.6 L105.4,107.8 L107.4,107.9 L109.4,108.1 L111.4,108.2 L113.4,108.3 L115.4,108.4 L117.4,108.6 L119.4,108.7 L121.4,108.7 L123.4,108.8 L125.4,108.9 L127.4,109.0 L129.4,109.1 L131.4,109.1 L133.4,109.2 L135.4,109.3 L137.4,109.3 L139.4,109.4 L141.4,109.5 L143.4,109.5 L145.4,109.6 L147.4,109.6 L149.4,109.7 L151.4,109.7 L153.4,109.8 L155.4,109.8 L157.4,109.9 L159.4,109.9 L161.4,110.0 L163.4,110.0 L165.4,110.1 L167.4,110.1 L169.4,110.1 L171.4,110.2 L173.4,110.2 L175.4,110.2 L177.4,110.3 L179.4,110.3 L181.4,110.3 L183.4,110.4 L185.4,110.4 L187.4,110.4 L189.4,110.5 L191.4,110.5 L193.4,110.6 L195.4,110.6 L197.4,110.7 L199.4,110.7 L201.4,110.8 L203.4,110.9 L205.4,110.9 L207.4,111.0 L209.4,111.1 L211.4,111.2 L213.4,111.3 L215.4,111.5 L217.4,111.6 L219.4,111.7 L221.4,111.8 L223.4,112.0 L225.4,112.1 L227.4,112.3 L229.4,112.4 L231.4,112.6 L233.4,112.8 L235.4,112.9 L237.4,113.2 L238.7,113.4 L239.2,113.4 L239.7,113.5 L240.2,113.6 L240.7,113.7 L241.2,113.8 L241.7,113.8 L242.2,113.9 L242.7,114.0 L243.2,114.1 L243.7,114.2 L244.2,114.2 L244.7,114.3 L245.2,114.4 L245.7,114.4 L246.2,114.5 L246.7,114.5 L247.2,114.6 L247.7,114.6 L248.2,114.6 L248.7,114.7 L249.2,114.7 L249.7,114.7 L250.2,114.7 L250.7,114.7 L251.2,114.6 L251.7,114.6 L252.2,114.5 L252.7,114.4 L253.2,114.3 L253.7,114.2 L254.2,114.0 L254.7,113.9 L255.2,113.7 L255.7,113.5 L256.2,113.4 L256.7,113.2 L257.2,113.0 L257.7,112.8 L258.2,112.6 L258.7,112.3 L259.2,112.0 L259.7,111.6 L260.2,111.2 L260.7,110.8 L261.2,110.3 L261.7,109.9 L262.2,109.5 L262.7,109.1 L263.2,108.7 L263.7,108.2 L264.2,107.8 L264.7,107.4 L265.2,106.9 L265.7,106.4 L266.2,106.0 L266.7,105.4 L267.2,104.9 L267.7,104.3 L268.2,103.7 L268.7,103.0 L269.2,102.4 L269.7,101.7 L270.2,101.1 L270.7,100.6 L271.2,100.0 L271.7,99.4 L272.2,98.8 L272.7,98.3 L273.2,97.7 L273.7,97.0 L274.2,96.4 L274.7,95.7 L275.2,95.0 L275.7,94.3 L276.2,93.5 L276.7,92.7 L277.2,91.8 L277.7,91.0 L278.2,90.1 L278.7,89.1 L279.2,88.1 L279.7,87.1 L280.2,86.1 L280.7,85.0 L281.2,83.9 L281.7,82.7 L282.2,81.5 L282.7,80.3 L283.2,79.1 L283.7,77.9 L284.0,77.1 L284.3,76.4 L284.6,75.6 L284.9,74.8 L285.2,74.1 L285.5,73.3 L285.8,72.6 L286.1,71.8 L286.4,71.1 L286.7,70.3 L287.0,69.5 L287.3,68.7 L287.6,67.9 L287.9,67.1 L288.2,66.3 L288.5,65.5 L288.8,64.7 L289.1,63.9 L289.4,63.0 L289.7,62.2 L290.0,61.4 L290.3,60.5 L290.6,59.7 L290.9,58.8 L291.2,58.0 L291.5,57.2 L291.8,56.3 L292.1,55.4 L292.4,54.5 L292.7,53.5 L293.0,52.5 L293.3,51.4 L293.6,50.1 L293.9,48.7 L294.2,47.1 L294.5,45.4 L294.8,43.6 L295.1,41.7 L295.4,39.8 L295.7,38.0 L296.0,36.1 L296.3,34.4 L296.6,32.7 L296.9,31.0 L297.2,29.3 L297.5,27.6 L297.8,25.9 L298.1,24.2 L298.4,22.5 L298.7,20.7 L299.0,18.9 L299.3,17.0 L299.6,15.2 L299.9,13.4 L300.2,11.6 L300.5,9.7 L300.8,7.6 L301.1,5.4 L301.4,2.8 L301.7,-0.0 L302.0,-3.1 L302.3,-6.4 L302.6,-9.9 L302.9,-13.6 L303.2,-17.6 L303.5,-21.7 L303.8,-26.1 L304.1,-30.6 L304.4,-35.4 L304.7,-40.0 L305.0,-40.0 L305.3,-40.0 L305.6,-40.0 L305.9,-40.0 L306.2,-40.0 L306.5,-40.0 L306.8,-40.0 L307.1,-40.0 L307.4,-40.0 L307.7,-40.0 L308.0,-40.0 L308.3,-40.0 L308.6,-40.0 L308.9,-40.0 L309.2,-40.0 L309.5,-40.0 L309.8,-40.0 L310.1,-40.0 L310.4,-40.0 L310.7,-40.0 L311.0,-40.0 L311.3,-40.0 L311.6,-40.0 L311.9,-40.0 L312.2,-40.0 L312.5,-40.0 L312.8,-40.0 L313.1,-40.0 L313.4,-40.0 L313.7,-40.0 L313.7,170.8 L313.4,167.1 L313.1,163.6 L312.8,160.4 L312.5,157.4 L312.2,154.6 L311.9,151.9 L311.6,149.1 L311.3,146.3 L311.0,143.2 L310.7,140.0 L310.4,136.5 L310.1,133.0 L309.8,129.4 L309.5,125.8 L309.2,122.4 L308.9,119.1 L308.6,115.7 L308.3,112.0 L308.0,108.2 L307.7,104.6 L307.4,101.4 L307.1,98.7 L306.8,96.9 L306.5,96.1 L306.2,95.5 L305.9,95.1 L305.6,94.7 L305.3,94.4 L305.0,94.1 L304.7,93.9 L304.4,93.8 L304.1,93.6 L303.8,93.5 L303.5,93.4 L303.2,93.3 L302.9,93.2 L302.6,93.1 L302.3,93.1 L302.0,93.0 L301.7,93.1 L301.4,93.1 L301.1,93.2 L300.8,93.3 L300.5,93.4 L300.2,93.6 L299.9,93.7 L299.6,93.9 L299.3,94.1 L299.0,94.3 L298.7,94.5 L298.4,94.7 L298.1,94.9 L297.8,95.1 L297.5,95.3 L297.2,95.6 L296.9,95.8 L296.6,95.9 L296.3,96.1 L296.0,96.3 L295.7,96.5 L295.4,96.7 L295.1,96.8 L294.8,97.0 L294.5,97.2 L294.2,97.4 L293.9,97.6 L293.6,97.8 L293.3,98.0 L293.0,98.2 L292.7,98.4 L292.4,98.6 L292.1,98.7 L291.8,98.9 L291.5,99.1 L291.2,99.3 L290.9,99.4 L290.6,99.6 L290.3,99.7 L290.0,99.9 L289.7,100.0 L289.4,100.1 L289.1,100.3 L288.8,100.4 L288.5,100.5 L288.2,100.6 L287.9,100.7 L287.6,100.8 L287.3,100.9 L287.0,101.1 L286.7,101.2 L286.4,101.3 L286.1,101.4 L285.8,101.5 L285.5,101.6 L285.2,101.7 L284.9,101.8 L284.6,101.9 L284.3,102.0 L284.0,102.2 L283.7,102.3 L283.2,102.5 L282.7,102.7 L282.2,102.9 L281.7,103.2 L281.2,103.4 L280.7,103.6 L280.2,103.9 L279.7,104.1 L279.2,104.4 L278.7,104.6 L278.2,104.9 L277.7,105.1 L277.2,105.4 L276.7,105.7 L276.2,106.0 L275.7,106.3 L275.2,106.7 L274.7,107.1 L274.2,107.4 L273.7,107.8 L273.2,108.3 L272.7,108.7 L272.2,109.1 L271.7,109.5 L271.2,110.0 L270.7,110.4 L270.2,110.8 L269.7,111.2 L269.2,111.7 L268.7,112.1 L268.2,112.6 L267.7,113.0 L267.2,113.5 L266.7,113.9 L266.2,114.4 L265.7,114.8 L265.2,115.3 L264.7,115.7 L264.2,116.1 L263.7,116.6 L263.2,117.0 L262.7,117.5 L262.2,118.0 L261.7,118.4 L261.2,118.9 L260.7,119.3 L260.2,119.7 L259.7,120.1 L259.2,120.5 L258.7,120.8 L258.2,121.1 L257.7,121.3 L257.2,121.4 L256.7,121.6 L256.2,121.8 L255.7,121.9 L255.2,122.1 L254.7,122.2 L254.2,122.4 L253.7,122.5 L253.2,122.6 L252.7,122.8 L252.2,122.9 L251.7,123.0 L251.2,123.1 L250.7,123.2 L250.2,123.3 L249.7,123.3 L249.2,123.4 L248.7,123.5 L248.2,123.5 L247.7,123.6 L247.2,123.6 L246.7,123.6 L246.2,123.6 L245.7,123.6 L245.2,123.6 L244.7,123.6 L244.2,123.6 L243.7,123.5 L243.2,123.5 L242.7,123.5 L242.2,123.4 L241.7,123.4 L241.2,123.3 L240.7,123.2 L240.2,123.2 L239.7,123.1 L239.2,123.0 L238.7,122.9 L237.4,122.7 L235.4,122.3 L233.4,121.9 L231.4,121.6 L229.4,121.2 L227.4,120.8 L225.4,120.4 L223.4,119.9 L221.4,119.4 L219.4,118.9 L217.4,118.5 L215.4,118.2 L213.4,117.9 L211.4,117.8 L209.4,117.6 L207.4,117.5 L205.4,117.4 L203.4,117.4 L201.4,117.3 L199.4,117.3 L197.4,117.2 L195.4,117.2 L193.4,117.1 L191.4,117.1 L189.4,117.1 L187.4,117.0 L185.4,117.0 L183.4,117.0 L181.4,116.9 L179.4,116.9 L177.4,116.9 L175.4,116.9 L173.4,116.8 L171.4,116.8 L169.4,116.8 L167.4,116.8 L165.4,116.8 L163.4,116.8 L161.4,116.8 L159.4,116.8 L157.4,116.8 L155.4,116.8 L153.4,116.8 L151.4,116.8 L149.4,116.8 L147.4,116.8 L145.4,116.8 L143.4,116.8 L141.4,116.8 L139.4,116.8 L137.4,116.9 L135.4,116.9 L133.4,116.9 L131.4,116.9 L129.4,116.9 L127.4,117.0 L125.4,117.0 L123.4,117.0 L121.4,117.0 L119.4,117.0 L117.4,117.1 L115.4,117.1 L113.4,117.1 L111.4,117.2 L109.4,117.2 L107.4,117.3 L105.4,117.4 L103.4,117.4 L101.4,117.5 L99.4,117.5 L97.4,117.6 L95.4,117.7 L93.4,117.8 L91.4,117.8 L89.4,117.9 L87.4,118.0 L85.4,118.1 L83.4,118.1 L81.4,118.2 L79.4,118.3 L77.4,118.3 L75.4,118.4 L73.4,118.5 L71.4,118.5 L69.4,118.6 L67.4,118.7 L65.4,118.7 L63.4,118.8 L61.4,118.9 L59.4,119.0 L57.4,119.0 L55.4,119.1 L53.4,119.2 L51.4,119.2 L49.4,119.3 L47.4,119.4 L45.4,119.5 L43.4,119.6Z" fill="url(#hb)" stroke="none"/>
<path d="M43.4,103.1 L45.4,103.3 L47.4,103.4 L49.4,103.6 L51.4,103.7 L53.4,103.8 L55.4,104.0 L57.4,104.1 L59.4,104.3 L61.4,104.4 L63.4,104.6 L65.4,104.7 L67.4,104.9 L69.4,105.0 L71.4,105.1 L73.4,105.3 L75.4,105.4 L77.4,105.6 L79.4,105.7 L81.4,105.9 L83.4,106.0 L85.4,106.2 L87.4,106.3 L89.4,106.5 L91.4,106.7 L93.4,106.8 L95.4,107.0 L97.4,107.1 L99.4,107.3 L101.4,107.5 L103.4,107.6 L105.4,107.8 L107.4,107.9 L109.4,108.1 L111.4,108.2 L113.4,108.3 L115.4,108.4 L117.4,108.6 L119.4,108.7 L121.4,108.7 L123.4,108.8 L125.4,108.9 L127.4,109.0 L129.4,109.1 L131.4,109.1 L133.4,109.2 L135.4,109.3 L137.4,109.3 L139.4,109.4 L141.4,109.5 L143.4,109.5 L145.4,109.6 L147.4,109.6 L149.4,109.7 L151.4,109.7 L153.4,109.8 L155.4,109.8 L157.4,109.9 L159.4,109.9 L161.4,110.0 L163.4,110.0 L165.4,110.1 L167.4,110.1 L169.4,110.1 L171.4,110.2 L173.4,110.2 L175.4,110.2 L177.4,110.3 L179.4,110.3 L181.4,110.3 L183.4,110.4 L185.4,110.4 L187.4,110.4 L189.4,110.5 L191.4,110.5 L193.4,110.6 L195.4,110.6 L197.4,110.7 L199.4,110.7 L201.4,110.8 L203.4,110.9 L205.4,110.9 L207.4,111.0 L209.4,111.1 L211.4,111.2 L213.4,111.3 L215.4,111.5 L217.4,111.6 L219.4,111.7 L221.4,111.8 L223.4,112.0 L225.4,112.1 L227.4,112.3 L229.4,112.4 L231.4,112.6 L233.4,112.8 L235.4,112.9 L237.4,113.2 L238.7,113.4 L239.2,113.4 L239.7,113.5 L240.2,113.6 L240.7,113.7 L241.2,113.8 L241.7,113.8 L242.2,113.9 L242.7,114.0 L243.2,114.1 L243.7,114.2 L244.2,114.2 L244.7,114.3 L245.2,114.4 L245.7,114.4 L246.2,114.5 L246.7,114.5 L247.2,114.6 L247.7,114.6 L248.2,114.6 L248.7,114.7 L249.2,114.7 L249.7,114.7 L250.2,114.7 L250.7,114.7 L251.2,114.6 L251.7,114.6 L252.2,114.5 L252.7,114.4 L253.2,114.3 L253.7,114.2 L254.2,114.0 L254.7,113.9 L255.2,113.7 L255.7,113.5 L256.2,113.4 L256.7,113.2 L257.2,113.0 L257.7,112.8 L258.2,112.6 L258.7,112.3 L259.2,112.0 L259.7,111.6 L260.2,111.2 L260.7,110.8 L261.2,110.3 L261.7,109.9 L262.2,109.5 L262.7,109.1 L263.2,108.7 L263.7,108.2 L264.2,107.8 L264.7,107.4 L265.2,106.9 L265.7,106.4 L266.2,106.0 L266.7,105.4 L267.2,104.9 L267.7,104.3 L268.2,103.7 L268.7,103.0 L269.2,102.4 L269.7,101.7 L270.2,101.1 L270.7,100.6 L271.2,100.0 L271.7,99.4 L272.2,98.8 L272.7,98.3 L273.2,97.7 L273.7,97.0 L274.2,96.4 L274.7,95.7 L275.2,95.0 L275.7,94.3 L276.2,93.5 L276.7,92.7 L277.2,91.8 L277.7,91.0 L278.2,90.1 L278.7,89.1 L279.2,88.1 L279.7,87.1 L280.2,86.1 L280.7,85.0 L281.2,83.9 L281.7,82.7 L282.2,81.5 L282.7,80.3 L283.2,79.1 L283.7,77.9 L284.0,77.1 L284.3,76.4 L284.6,75.6 L284.9,74.8 L285.2,74.1 L285.5,73.3 L285.8,72.6 L286.1,71.8 L286.4,71.1 L286.7,70.3 L287.0,69.5 L287.3,68.7 L287.6,67.9 L287.9,67.1 L288.2,66.3 L288.5,65.5 L288.8,64.7 L289.1,63.9 L289.4,63.0 L289.7,62.2 L290.0,61.4 L290.3,60.5 L290.6,59.7 L290.9,58.8 L291.2,58.0 L291.5,57.2 L291.8,56.3 L292.1,55.4 L292.4,54.5 L292.7,53.5 L293.0,52.5 L293.3,51.4 L293.6,50.1 L293.9,48.7 L294.2,47.1 L294.5,45.4 L294.8,43.6 L295.1,41.7 L295.4,39.8 L295.7,38.0 L296.0,36.1 L296.3,34.4 L296.6,32.7 L296.9,31.0 L297.2,29.3 L297.5,27.6 L297.8,25.9 L298.1,24.2 L298.4,22.5 L298.7,20.7 L299.0,18.9 L299.3,17.0 L299.6,15.2 L299.9,13.4 L300.2,11.6 L300.5,9.7 L300.8,7.6 L301.1,5.4 L301.4,2.8 L301.7,-0.0 L302.0,-3.1 L302.3,-6.4 L302.6,-9.9 L302.9,-13.6 L303.2,-17.6 L303.5,-21.7 L303.8,-26.1 L304.1,-30.6 L304.4,-35.4 L304.7,-40.0 L305.0,-40.0 L305.3,-40.0 L305.6,-40.0 L305.9,-40.0 L306.2,-40.0 L306.5,-40.0 L306.8,-40.0 L307.1,-40.0 L307.4,-40.0 L307.7,-40.0 L308.0,-40.0 L308.3,-40.0 L308.6,-40.0 L308.9,-40.0 L309.2,-40.0 L309.5,-40.0 L309.8,-40.0 L310.1,-40.0 L310.4,-40.0 L310.7,-40.0 L311.0,-40.0 L311.3,-40.0 L311.6,-40.0 L311.9,-40.0 L312.2,-40.0 L312.5,-40.0 L312.8,-40.0 L313.1,-40.0 L313.4,-40.0 L313.7,-40.0 M43.4,119.6 L45.4,119.5 L47.4,119.4 L49.4,119.3 L51.4,119.2 L53.4,119.2 L55.4,119.1 L57.4,119.0 L59.4,119.0 L61.4,118.9 L63.4,118.8 L65.4,118.7 L67.4,118.7 L69.4,118.6 L71.4,118.5 L73.4,118.5 L75.4,118.4 L77.4,118.3 L79.4,118.3 L81.4,118.2 L83.4,118.1 L85.4,118.1 L87.4,118.0 L89.4,117.9 L91.4,117.8 L93.4,117.8 L95.4,117.7 L97.4,117.6 L99.4,117.5 L101.4,117.5 L103.4,117.4 L105.4,117.4 L107.4,117.3 L109.4,117.2 L111.4,117.2 L113.4,117.1 L115.4,117.1 L117.4,117.1 L119.4,117.0 L121.4,117.0 L123.4,117.0 L125.4,117.0 L127.4,117.0 L129.4,116.9 L131.4,116.9 L133.4,116.9 L135.4,116.9 L137.4,116.9 L139.4,116.8 L141.4,116.8 L143.4,116.8 L145.4,116.8 L147.4,116.8 L149.4,116.8 L151.4,116.8 L153.4,116.8 L155.4,116.8 L157.4,116.8 L159.4,116.8 L161.4,116.8 L163.4,116.8 L165.4,116.8 L167.4,116.8 L169.4,116.8 L171.4,116.8 L173.4,116.8 L175.4,116.9 L177.4,116.9 L179.4,116.9 L181.4,116.9 L183.4,117.0 L185.4,117.0 L187.4,117.0 L189.4,117.1 L191.4,117.1 L193.4,117.1 L195.4,117.2 L197.4,117.2 L199.4,117.3 L201.4,117.3 L203.4,117.4 L205.4,117.4 L207.4,117.5 L209.4,117.6 L211.4,117.8 L213.4,117.9 L215.4,118.2 L217.4,118.5 L219.4,118.9 L221.4,119.4 L223.4,119.9 L225.4,120.4 L227.4,120.8 L229.4,121.2 L231.4,121.6 L233.4,121.9 L235.4,122.3 L237.4,122.7 L238.7,122.9 L239.2,123.0 L239.7,123.1 L240.2,123.2 L240.7,123.2 L241.2,123.3 L241.7,123.4 L242.2,123.4 L242.7,123.5 L243.2,123.5 L243.7,123.5 L244.2,123.6 L244.7,123.6 L245.2,123.6 L245.7,123.6 L246.2,123.6 L246.7,123.6 L247.2,123.6 L247.7,123.6 L248.2,123.5 L248.7,123.5 L249.2,123.4 L249.7,123.3 L250.2,123.3 L250.7,123.2 L251.2,123.1 L251.7,123.0 L252.2,122.9 L252.7,122.8 L253.2,122.6 L253.7,122.5 L254.2,122.4 L254.7,122.2 L255.2,122.1 L255.7,121.9 L256.2,121.8 L256.7,121.6 L257.2,121.4 L257.7,121.3 L258.2,121.1 L258.7,120.8 L259.2,120.5 L259.7,120.1 L260.2,119.7 L260.7,119.3 L261.2,118.9 L261.7,118.4 L262.2,118.0 L262.7,117.5 L263.2,117.0 L263.7,116.6 L264.2,116.1 L264.7,115.7 L265.2,115.3 L265.7,114.8 L266.2,114.4 L266.7,113.9 L267.2,113.5 L267.7,113.0 L268.2,112.6 L268.7,112.1 L269.2,111.7 L269.7,111.2 L270.2,110.8 L270.7,110.4 L271.2,110.0 L271.7,109.5 L272.2,109.1 L272.7,108.7 L273.2,108.3 L273.7,107.8 L274.2,107.4 L274.7,107.1 L275.2,106.7 L275.7,106.3 L276.2,106.0 L276.7,105.7 L277.2,105.4 L277.7,105.1 L278.2,104.9 L278.7,104.6 L279.2,104.4 L279.7,104.1 L280.2,103.9 L280.7,103.6 L281.2,103.4 L281.7,103.2 L282.2,102.9 L282.7,102.7 L283.2,102.5 L283.7,102.3 L284.0,102.2 L284.3,102.0 L284.6,101.9 L284.9,101.8 L285.2,101.7 L285.5,101.6 L285.8,101.5 L286.1,101.4 L286.4,101.3 L286.7,101.2 L287.0,101.1 L287.3,100.9 L287.6,100.8 L287.9,100.7 L288.2,100.6 L288.5,100.5 L288.8,100.4 L289.1,100.3 L289.4,100.1 L289.7,100.0 L290.0,99.9 L290.3,99.7 L290.6,99.6 L290.9,99.4 L291.2,99.3 L291.5,99.1 L291.8,98.9 L292.1,98.7 L292.4,98.6 L292.7,98.4 L293.0,98.2 L293.3,98.0 L293.6,97.8 L293.9,97.6 L294.2,97.4 L294.5,97.2 L294.8,97.0 L295.1,96.8 L295.4,96.7 L295.7,96.5 L296.0,96.3 L296.3,96.1 L296.6,95.9 L296.9,95.8 L297.2,95.6 L297.5,95.3 L297.8,95.1 L298.1,94.9 L298.4,94.7 L298.7,94.5 L299.0,94.3 L299.3,94.1 L299.6,93.9 L299.9,93.7 L300.2,93.6 L300.5,93.4 L300.8,93.3 L301.1,93.2 L301.4,93.1 L301.7,93.1 L302.0,93.0 L302.3,93.1 L302.6,93.1 L302.9,93.2 L303.2,93.3 L303.5,93.4 L303.8,93.5 L304.1,93.6 L304.4,93.8 L304.7,93.9 L305.0,94.1 L305.3,94.4 L305.6,94.7 L305.9,95.1 L306.2,95.5 L306.5,96.1 L306.8,96.9 L307.1,98.7 L307.4,101.4 L307.7,104.6 L308.0,108.2 L308.3,112.0 L308.6,115.7 L308.9,119.1 L309.2,122.4 L309.5,125.8 L309.8,129.4 L310.1,133.0 L310.4,136.5 L310.7,140.0 L311.0,143.2 L311.3,146.3 L311.6,149.1 L311.9,151.9 L312.2,154.6 L312.5,157.4 L312.8,160.4 L313.1,163.6 L313.4,167.1 L313.7,170.8" fill="none" stroke="#8da0cb" stroke-opacity="0.75" stroke-width="0.9" stroke-linejoin="round"/>
<path d="M43.4,113.6 L45.4,113.6 L47.4,113.6 L49.4,113.6 L51.4,113.6 L53.4,113.6 L55.4,113.6 L57.4,113.6 L59.4,113.6 L61.4,113.6 L63.4,113.6 L65.4,113.6 L67.4,113.6 L69.4,113.6 L71.4,113.6 L73.4,113.6 L75.4,113.6 L77.4,113.6 L79.4,113.6 L81.4,113.6 L83.4,113.6 L85.4,113.6 L87.4,113.6 L89.4,113.6 L91.4,113.6 L93.4,113.6 L95.4,113.6 L97.4,113.6 L99.4,113.6 L101.4,113.6 L103.4,113.6 L105.4,113.6 L107.4,113.6 L109.4,113.6 L111.4,113.6 L113.4,113.6 L115.4,113.6 L117.4,113.6 L119.4,113.6 L121.4,113.6 L123.4,113.6 L125.4,113.6 L127.4,113.6 L129.4,113.6 L131.4,113.6 L133.4,113.6 L135.4,113.6 L137.4,113.6 L139.4,113.6 L141.4,113.6 L143.4,113.6 L145.4,113.6 L147.4,113.6 L149.4,113.6 L151.4,113.6 L153.4,113.6 L155.4,113.6 L157.4,113.6 L159.4,113.6 L161.4,113.6 L163.4,113.6 L165.4,113.6 L167.4,113.6 L169.4,113.6 L171.4,113.6 L173.4,113.6 L175.4,113.6 L177.4,113.6 L179.4,113.6 L181.4,113.6 L183.4,113.6 L185.4,113.6 L187.4,113.6 L189.4,113.6 L191.4,113.6 L193.4,113.6 L195.4,113.6 L197.4,113.6 L199.4,113.6 L201.4,113.6 L203.4,113.6 L205.4,113.6 L207.4,113.6 L209.4,113.6 L211.4,113.6 L213.4,113.6 L215.4,113.6 L217.4,113.6 L219.4,113.6 L221.4,113.6 L223.4,113.6 L225.4,113.6 L227.4,113.6 L229.4,113.6 L231.4,113.6 L233.4,113.6 L235.4,113.6 L237.4,113.6 L238.7,113.6 L239.2,113.6 L239.7,113.6 L240.2,113.6 L240.7,113.6 L241.2,113.6 L241.7,113.6 L242.2,113.6 L242.7,113.6 L243.2,113.6 L243.7,113.6 L244.2,113.6 L244.7,113.6 L245.2,113.6 L245.7,113.6 L246.2,113.6 L246.7,113.6 L247.2,113.6 L247.7,113.6 L248.2,113.6 L248.7,113.6 L249.2,113.6 L249.7,113.6 L250.2,113.6 L250.7,113.6 L251.2,113.6 L251.7,113.6 L252.2,113.6 L252.7,113.6 L253.2,113.6 L253.7,113.6 L254.2,113.6 L254.7,113.6 L255.2,113.6 L255.7,113.6 L256.2,113.6 L256.7,113.6 L257.2,113.6 L257.7,113.6 L258.2,113.6 L258.7,113.6 L259.2,113.6 L259.7,113.6 L260.2,113.6 L260.7,113.6 L261.2,113.6 L261.7,113.6 L262.2,113.6 L262.7,113.6 L263.2,113.6 L263.7,113.6 L264.2,113.6 L264.7,113.6 L265.2,113.6 L265.7,113.6 L266.2,113.6 L266.7,113.6 L267.2,113.6 L267.7,113.6 L268.2,113.6 L268.7,113.6 L269.2,113.6 L269.7,113.6 L270.2,113.6 L270.7,113.6 L271.2,113.6 L271.7,113.6 L272.2,113.6 L272.7,113.6 L273.2,113.6 L273.7,113.6 L274.2,113.6 L274.7,113.6 L275.2,113.6 L275.7,113.6 L276.2,113.6 L276.7,113.6 L277.2,113.6 L277.7,113.6 L278.2,113.6 L278.7,113.6 L279.2,113.6 L279.7,113.6 L280.2,113.6 L280.7,113.6 L281.2,113.6 L281.7,113.6 L282.2,113.6 L282.7,113.6 L283.2,113.6 L283.7,113.6 L284.0,113.6 L284.3,113.6 L284.6,113.6 L284.9,113.6 L285.2,113.6 L285.5,113.6 L285.8,113.6 L286.1,113.6 L286.4,113.6 L286.7,113.6 L287.0,113.6 L287.3,113.6 L287.6,113.6 L287.9,113.6 L288.2,113.6 L288.5,113.6 L288.8,113.6 L289.1,113.6 L289.4,113.6 L289.7,113.6 L290.0,113.6 L290.3,113.6 L290.6,113.6 L290.9,113.6 L291.2,113.6 L291.5,113.6 L291.8,113.6 L292.1,113.6 L292.4,113.6 L292.7,113.6 L293.0,113.6 L293.3,113.6 L293.6,113.6 L293.9,113.6 L294.2,113.6 L294.5,113.6 L294.8,113.6 L295.1,113.6 L295.4,113.6 L295.7,113.6 L296.0,113.6 L296.3,113.6 L296.6,113.6 L296.9,113.6 L297.2,113.6 L297.5,113.6 L297.8,113.6 L298.1,113.6 L298.4,113.6 L298.7,113.6 L299.0,113.6 L299.3,113.6 L299.6,113.6 L299.9,113.6 L300.2,113.6 L300.5,113.6 L300.8,113.6 L301.1,113.6 L301.4,113.6 L301.7,113.6 L302.0,113.6 L302.3,113.6 L302.6,113.6 L302.9,113.6 L303.2,113.6 L303.5,113.6 L303.8,113.6 L304.1,113.6 L304.4,113.6 L304.7,113.6 L305.0,113.6 L305.3,113.6 L305.6,113.6 L305.9,113.6 L306.2,113.6 L306.5,113.6 L306.8,113.6 L307.1,113.6 L307.4,113.6 L307.7,113.6 L308.0,113.6 L308.3,113.6 L308.6,113.6 L308.9,113.6 L309.2,113.6 L309.5,113.6 L309.8,113.6 L310.1,113.6 L310.4,113.6 L310.7,113.6 L311.0,113.6 L311.3,113.6 L311.6,113.6 L311.9,113.6 L312.2,113.6 L312.5,113.6 L312.8,113.6 L313.1,113.6 L313.4,113.6 L313.7,113.6" fill="none" stroke="#66c2a5" stroke-width="1.7"/>
<path d="M43.4,104.7 L45.4,104.9 L47.4,105.1 L49.4,105.2 L51.4,105.4 L53.4,105.6 L55.4,105.7 L57.4,105.9 L59.4,106.1 L61.4,106.2 L63.4,106.4 L65.4,106.5 L67.4,106.7 L69.4,106.8 L71.4,106.9 L73.4,107.1 L75.4,107.2 L77.4,107.3 L79.4,107.5 L81.4,107.6 L83.4,107.7 L85.4,107.8 L87.4,107.9 L89.4,108.1 L91.4,108.2 L93.4,108.3 L95.4,108.4 L97.4,108.5 L99.4,108.6 L101.4,108.7 L103.4,108.8 L105.4,108.9 L107.4,109.0 L109.4,109.1 L111.4,109.2 L113.4,109.3 L115.4,109.3 L117.4,109.4 L119.4,109.5 L121.4,109.5 L123.4,109.6 L125.4,109.7 L127.4,109.7 L129.4,109.8 L131.4,109.8 L133.4,109.9 L135.4,109.9 L137.4,110.0 L139.4,110.0 L141.4,110.1 L143.4,110.1 L145.4,110.2 L147.4,110.2 L149.4,110.3 L151.4,110.3 L153.4,110.3 L155.4,110.4 L157.4,110.4 L159.4,110.5 L161.4,110.5 L163.4,110.6 L165.4,110.6 L167.4,110.7 L169.4,110.8 L171.4,110.8 L173.4,110.9 L175.4,110.9 L177.4,111.0 L179.4,111.0 L181.4,111.1 L183.4,111.1 L185.4,111.2 L187.4,111.2 L189.4,111.3 L191.4,111.3 L193.4,111.4 L195.4,111.4 L197.4,111.5 L199.4,111.5 L201.4,111.5 L203.4,111.6 L205.4,111.6 L207.4,111.6 L209.4,111.6 L211.4,111.7 L213.4,111.7 L215.4,111.7 L217.4,111.8 L219.4,111.8 L221.4,111.8 L223.4,111.8 L225.4,111.9 L227.4,111.9 L229.4,111.9 L231.4,111.9 L233.4,111.9 L235.4,111.9 L237.4,111.8 L238.7,111.8 L239.2,111.7 L239.7,111.7 L240.2,111.6 L240.7,111.6 L241.2,111.6 L241.7,111.5 L242.2,111.5 L242.7,111.4 L243.2,111.3 L243.7,111.3 L244.2,111.2 L244.7,111.2 L245.2,111.1 L245.7,111.0 L246.2,111.0 L246.7,110.9 L247.2,110.8 L247.7,110.8 L248.2,110.7 L248.7,110.7 L249.2,110.6 L249.7,110.5 L250.2,110.5 L250.7,110.4 L251.2,110.4 L251.7,110.3 L252.2,110.2 L252.7,110.2 L253.2,110.1 L253.7,110.0 L254.2,110.0 L254.7,109.9 L255.2,109.8 L255.7,109.7 L256.2,109.7 L256.7,109.6 L257.2,109.5 L257.7,109.4 L258.2,109.3 L258.7,109.2 L259.2,109.1 L259.7,109.1 L260.2,109.0 L260.7,108.9 L261.2,108.8 L261.7,108.7 L262.2,108.5 L262.7,108.4 L263.2,108.3 L263.7,108.2 L264.2,108.1 L264.7,108.0 L265.2,107.8 L265.7,107.7 L266.2,107.6 L266.7,107.4 L267.2,107.3 L267.7,107.2 L268.2,107.0 L268.7,106.9 L269.2,106.7 L269.7,106.6 L270.2,106.4 L270.7,106.3 L271.2,106.2 L271.7,106.0 L272.2,105.9 L272.7,105.7 L273.2,105.6 L273.7,105.4 L274.2,105.3 L274.7,105.1 L275.2,105.0 L275.7,104.8 L276.2,104.6 L276.7,104.4 L277.2,104.3 L277.7,104.1 L278.2,103.9 L278.7,103.7 L279.2,103.5 L279.7,103.3 L280.2,103.1 L280.7,102.9 L281.2,102.6 L281.7,102.4 L282.2,102.2 L282.7,101.9 L283.2,101.7 L283.7,101.4 L284.0,101.3 L284.3,101.1 L284.6,100.9 L284.9,100.7 L285.2,100.5 L285.5,100.3 L285.8,100.1 L286.1,99.9 L286.4,99.7 L286.7,99.4 L287.0,99.2 L287.3,98.9 L287.6,98.6 L287.9,98.3 L288.2,98.0 L288.5,97.6 L288.8,97.2 L289.1,96.7 L289.4,96.1 L289.7,95.4 L290.0,94.7 L290.3,93.9 L290.6,93.1 L290.9,92.3 L291.2,91.4 L291.5,90.6 L291.8,89.7 L292.1,88.8 L292.4,87.9 L292.7,87.1 L293.0,86.3 L293.3,85.5 L293.6,84.8 L293.9,84.0 L294.2,83.4 L294.5,82.7 L294.8,82.1 L295.1,81.4 L295.4,80.8 L295.7,80.2 L296.0,79.5 L296.3,78.8 L296.6,78.2 L296.9,77.5 L297.2,76.7 L297.5,75.9 L297.8,75.1 L298.1,74.2 L298.4,73.3 L298.7,72.3 L299.0,71.2 L299.3,70.0 L299.6,68.8 L299.9,67.4 L300.2,65.9 L300.5,64.4 L300.8,62.7 L301.1,60.9 L301.4,59.0 L301.7,57.1 L302.0,55.0 L302.3,52.7 L302.6,50.0 L302.9,47.1 L303.2,43.9 L303.5,40.6 L303.8,37.3 L304.1,33.9 L304.4,30.4 L304.7,26.8 L305.0,22.9 L305.3,18.9 L305.6,14.5 L305.9,9.9 L306.2,5.0 L306.5,-0.3 L306.8,-6.0 L307.1,-12.1 L307.4,-18.4 L307.7,-24.8 L308.0,-31.5 L308.3,-38.4 L308.6,-40.0 L308.9,-40.0 L309.2,-40.0 L309.5,-40.0 L309.8,-40.0 L310.1,-40.0 L310.4,-40.0 L310.7,-40.0 L311.0,-40.0 L311.3,-40.0 L311.6,-40.0 L311.9,-40.0 L312.2,-40.0 L312.5,-40.0 L312.8,-40.0 L313.1,-40.0 L313.4,-40.0 L313.7,-40.0" fill="none" stroke="#66c2a5" stroke-width="1.45" stroke-dasharray="5 2.2"/>
<path d="M43.4,121.7 L45.4,121.6 L47.4,121.4 L49.4,121.3 L51.4,121.2 L53.4,121.0 L55.4,120.9 L57.4,120.7 L59.4,120.6 L61.4,120.5 L63.4,120.4 L65.4,120.2 L67.4,120.1 L69.4,120.0 L71.4,119.8 L73.4,119.7 L75.4,119.6 L77.4,119.5 L79.4,119.3 L81.4,119.2 L83.4,119.1 L85.4,119.0 L87.4,118.8 L89.4,118.7 L91.4,118.6 L93.4,118.4 L95.4,118.3 L97.4,118.1 L99.4,118.0 L101.4,117.9 L103.4,117.8 L105.4,117.6 L107.4,117.5 L109.4,117.4 L111.4,117.3 L113.4,117.2 L115.4,117.2 L117.4,117.1 L119.4,117.0 L121.4,117.0 L123.4,116.9 L125.4,116.9 L127.4,116.8 L129.4,116.8 L131.4,116.7 L133.4,116.7 L135.4,116.7 L137.4,116.6 L139.4,116.6 L141.4,116.6 L143.4,116.5 L145.4,116.5 L147.4,116.5 L149.4,116.4 L151.4,116.4 L153.4,116.4 L155.4,116.4 L157.4,116.3 L159.4,116.3 L161.4,116.3 L163.4,116.3 L165.4,116.2 L167.4,116.2 L169.4,116.2 L171.4,116.1 L173.4,116.1 L175.4,116.1 L177.4,116.1 L179.4,116.0 L181.4,116.0 L183.4,116.0 L185.4,116.0 L187.4,115.9 L189.4,115.9 L191.4,115.9 L193.4,115.9 L195.4,115.8 L197.4,115.8 L199.4,115.8 L201.4,115.8 L203.4,115.8 L205.4,115.7 L207.4,115.7 L209.4,115.7 L211.4,115.7 L213.4,115.7 L215.4,115.6 L217.4,115.6 L219.4,115.6 L221.4,115.6 L223.4,115.6 L225.4,115.5 L227.4,115.5 L229.4,115.5 L231.4,115.5 L233.4,115.5 L235.4,115.5 L237.4,115.5 L238.7,115.6 L239.2,115.6 L239.7,115.6 L240.2,115.6 L240.7,115.7 L241.2,115.7 L241.7,115.7 L242.2,115.7 L242.7,115.8 L243.2,115.8 L243.7,115.8 L244.2,115.9 L244.7,115.9 L245.2,115.9 L245.7,116.0 L246.2,116.0 L246.7,116.1 L247.2,116.1 L247.7,116.1 L248.2,116.2 L248.7,116.2 L249.2,116.2 L249.7,116.3 L250.2,116.3 L250.7,116.4 L251.2,116.4 L251.7,116.4 L252.2,116.5 L252.7,116.5 L253.2,116.6 L253.7,116.6 L254.2,116.6 L254.7,116.7 L255.2,116.7 L255.7,116.8 L256.2,116.9 L256.7,116.9 L257.2,117.0 L257.7,117.0 L258.2,117.1 L258.7,117.1 L259.2,117.2 L259.7,117.3 L260.2,117.3 L260.7,117.4 L261.2,117.5 L261.7,117.5 L262.2,117.6 L262.7,117.7 L263.2,117.8 L263.7,117.8 L264.2,117.9 L264.7,118.0 L265.2,118.1 L265.7,118.2 L266.2,118.3 L266.7,118.4 L267.2,118.5 L267.7,118.6 L268.2,118.8 L268.7,118.9 L269.2,119.0 L269.7,119.2 L270.2,119.3 L270.7,119.5 L271.2,119.7 L271.7,119.9 L272.2,120.1 L272.7,120.3 L273.2,120.5 L273.7,120.7 L274.2,120.9 L274.7,121.2 L275.2,121.4 L275.7,121.7 L276.2,121.9 L276.7,122.2 L277.2,122.5 L277.7,122.7 L278.2,123.0 L278.7,123.3 L279.2,123.6 L279.7,123.9 L280.2,124.2 L280.7,124.5 L281.2,124.8 L281.7,125.1 L282.2,125.4 L282.7,125.7 L283.2,126.0 L283.7,126.3 L284.0,126.5 L284.3,126.7 L284.6,126.9 L284.9,127.1 L285.2,127.3 L285.5,127.6 L285.8,127.8 L286.1,128.0 L286.4,128.3 L286.7,128.5 L287.0,128.8 L287.3,129.1 L287.6,129.4 L287.9,129.6 L288.2,129.9 L288.5,130.2 L288.8,130.6 L289.1,130.9 L289.4,131.2 L289.7,131.6 L290.0,132.0 L290.3,132.3 L290.6,132.7 L290.9,133.2 L291.2,133.7 L291.5,134.3 L291.8,134.9 L292.1,135.6 L292.4,136.3 L292.7,137.0 L293.0,137.8 L293.3,138.6 L293.6,139.5 L293.9,140.3 L294.2,141.2 L294.5,142.0 L294.8,142.9 L295.1,143.8 L295.4,144.7 L295.7,145.7 L296.0,146.8 L296.3,147.8 L296.6,148.9 L296.9,150.0 L297.2,151.1 L297.5,152.2 L297.8,153.4 L298.1,154.5 L298.4,155.7 L298.7,156.8 L299.0,158.0 L299.3,159.1 L299.6,160.1 L299.9,161.1 L300.2,162.2 L300.5,163.4 L300.8,164.8 L301.1,166.5 L301.4,168.7 L301.7,171.3 L302.0,174.1 L302.3,177.0 L302.6,180.1 L302.9,183.6 L303.2,187.2 L303.5,190.8 L303.8,194.1 L304.1,196.9 L304.4,199.3 L304.7,201.6 L305.0,203.7 L305.3,205.7 L305.6,207.9 L305.9,210.2 L306.2,212.7 L306.5,215.1 L306.8,217.5 L307.1,220.2 L307.4,223.0 L307.7,226.3 L308.0,230.0 L308.3,234.3 L308.6,239.1 L308.9,244.5 L309.2,250.4 L309.5,256.9 L309.8,263.9 L310.1,271.4 L310.4,279.5 L310.7,280.0 L311.0,280.0 L311.3,280.0 L311.6,280.0 L311.9,280.0 L312.2,280.0 L312.5,280.0 L312.8,280.0 L313.1,280.0 L313.4,280.0 L313.7,280.0" fill="none" stroke="#66c2a5" stroke-width="1.45" stroke-dasharray="5 2.2"/>
<path d="M235.4,106.9 L237.4,107.2 L238.7,107.5 L239.2,107.6 L239.7,107.7 L240.2,107.8 L240.7,108.0 L241.2,108.1 L241.7,108.2 L242.2,108.4 L242.7,108.5 L243.2,108.7 L243.7,108.8 L244.2,109.0 L244.7,109.2 L245.2,109.3 L245.7,109.5 L246.2,109.7 L246.7,109.9 L247.2,110.1 L247.7,110.3 L248.2,110.5 L248.7,110.7 L249.2,110.9 L249.7,111.1 L250.2,111.3 L250.7,111.6 L251.2,111.8 L251.7,112.1 L252.2,112.4 L252.7,112.7 L253.2,113.1 L253.7,113.4 L254.2,113.8 L254.7,114.2 L255.2,114.6 L255.7,115.0 L256.2,115.4 L256.7,115.8 L257.2,116.3 L257.7,116.7 L258.2,117.2 L258.7,117.7 L259.2,118.2 L259.7,118.7 L260.2,119.3 L260.7,119.9 L261.2,120.5 L261.7,121.2 L262.2,121.8 L262.7,122.5 L263.2,123.2 L263.7,123.9 L264.2,124.6 L264.7,125.4 L265.2,126.1 L265.7,126.9 L266.2,127.7 L266.7,128.5 L267.2,129.4 L267.7,130.2 L268.2,131.1 L268.7,132.0 L269.2,132.8 L269.7,133.7 L270.2,134.6 L270.7,135.5 L271.2,136.4 L271.7,137.3 L272.2,138.2 L272.7,139.1 L273.2,140.0 L273.7,140.9 L274.2,141.9 L274.7,142.9 L275.2,144.0 L275.7,145.2 L276.2,146.6 L276.7,148.0 L277.2,149.6 L277.7,151.2 L278.2,152.8 L278.7,154.5 L279.2,156.1 L279.7,157.7 L280.2,159.3 L280.7,160.8 L281.2,162.3 L281.7,163.8 L282.2,165.3 L282.7,166.7 L283.2,168.1 L283.7,169.5 L284.0,170.4 L284.3,171.2 L284.6,172.1 L284.9,173.0 L285.2,173.9 L285.5,174.8 L285.8,175.7 L286.1,176.6 L286.4,177.4 L286.7,178.2 L287.0,179.0 L287.3,179.8 L287.6,180.6 L287.9,181.4 L288.2,182.2 L288.5,182.9 L288.8,183.5 L289.1,184.1 L289.4,184.6 L289.7,185.0 L290.0,185.3 L290.3,185.6 L290.6,185.8 L290.9,186.0 L291.2,186.1 L291.5,186.2 L291.8,186.1 L292.1,185.9 L292.4,185.5" fill="none" stroke="#fc8d62" stroke-opacity="0.8" stroke-width="1"/>
<path d="M235.4,111.2 L237.4,111.6 L238.7,111.9 L239.2,112.1 L239.7,112.3 L240.2,112.4 L240.7,112.6 L241.2,112.8 L241.7,113.0 L242.2,113.2 L242.7,113.4 L243.2,113.6 L243.7,113.8 L244.2,114.0 L244.7,114.2 L245.2,114.5 L245.7,114.7 L246.2,114.9 L246.7,115.2 L247.2,115.4 L247.7,115.7 L248.2,116.0 L248.7,116.3 L249.2,116.6 L249.7,116.9 L250.2,117.3 L250.7,117.6 L251.2,118.0 L251.7,118.4 L252.2,118.8 L252.7,119.2 L253.2,119.6 L253.7,120.1 L254.2,120.6 L254.7,121.1 L255.2,121.7 L255.7,122.2 L256.2,122.7 L256.7,123.3 L257.2,123.8 L257.7,124.3 L258.2,124.9 L258.7,125.5 L259.2,126.1 L259.7,126.7 L260.2,127.3 L260.7,128.0 L261.2,128.7 L261.7,129.4 L262.2,130.1 L262.7,130.9 L263.2,131.6 L263.7,132.3 L264.2,133.1 L264.7,133.9 L265.2,134.7 L265.7,135.5 L266.2,136.5 L266.7,137.5 L267.2,138.6 L267.7,139.8 L268.2,141.0 L268.7,142.2 L269.2,143.3 L269.7,144.4 L270.2,145.4 L270.7,146.5 L271.2,147.6 L271.7,148.8 L272.2,149.9 L272.7,151.0 L273.2,152.1 L273.7,153.2 L274.2,154.3 L274.7,155.5 L275.2,156.7 L275.7,157.9 L276.2,159.2 L276.7,160.5 L277.2,161.8 L277.7,163.2 L278.2,164.7 L278.7,166.2 L279.2,167.9 L279.7,169.8 L280.2,171.8 L280.7,174.0 L281.2,176.4 L281.7,178.8 L282.2,181.3 L282.7,183.6 L283.2,185.9 L283.7,188.0 L284.0,189.2 L284.3,190.4 L284.6,191.5 L284.9,192.6 L285.2,193.7 L285.5,194.8 L285.8,195.9 L286.1,197.0 L286.4,198.1 L286.7,199.3 L287.0,200.5 L287.3,201.6 L287.6,202.8 L287.9,204.0 L288.2,205.1 L288.5,206.4 L288.8,207.6 L289.1,208.8 L289.4,210.1 L289.7,211.3 L290.0,212.6 L290.3,213.9 L290.6,215.1 L290.9,216.3 L291.2,217.5 L291.5,218.7 L291.8,219.8 L292.1,220.8 L292.4,221.9" fill="none" stroke="#fc8d62" stroke-opacity="0.8" stroke-width="1"/>
<path d="M43.4,110.0 L45.4,110.0 L47.4,110.0 L49.4,110.1 L51.4,110.1 L53.4,110.1 L55.4,110.1 L57.4,110.1 L59.4,110.1 L61.4,110.2 L63.4,110.2 L65.4,110.2 L67.4,110.2 L69.4,110.2 L71.4,110.2 L73.4,110.3 L75.4,110.3 L77.4,110.3 L79.4,110.3 L81.4,110.3 L83.4,110.3 L85.4,110.3 L87.4,110.3 L89.4,110.4 L91.4,110.4 L93.4,110.4 L95.4,110.4 L97.4,110.4 L99.4,110.4 L101.4,110.4 L103.4,110.5 L105.4,110.5 L107.4,110.5 L109.4,110.5 L111.4,110.5 L113.4,110.5 L115.4,110.5 L117.4,110.5 L119.4,110.5 L121.4,110.5 L123.4,110.5 L125.4,110.5 L127.4,110.5 L129.4,110.5 L131.4,110.4 L133.4,110.4 L135.4,110.4 L137.4,110.4 L139.4,110.4 L141.4,110.3 L143.4,110.3 L145.4,110.3 L147.4,110.2 L149.4,110.2 L151.4,110.2 L153.4,110.1 L155.4,110.1 L157.4,110.1 L159.4,110.0 L161.4,110.0 L163.4,109.9 L165.4,109.9 L167.4,109.8 L169.4,109.7 L171.4,109.6 L173.4,109.5 L175.4,109.5 L177.4,109.4 L179.4,109.2 L181.4,109.1 L183.4,109.0 L185.4,108.9 L187.4,108.8 L189.4,108.7 L191.4,108.5 L193.4,108.4 L195.4,108.3 L197.4,108.2 L199.4,108.0 L201.4,107.9 L203.4,107.7 L205.4,107.5 L207.4,107.3 L209.4,107.1 L211.4,107.0 L213.4,107.0 L215.4,107.0 L217.4,107.1 L219.4,107.2 L221.4,107.4 L223.4,107.5 L225.4,107.7 L227.4,108.0 L229.4,108.2 L231.4,108.5 L233.4,108.8 L235.4,109.1 L237.4,109.5 L238.7,109.8 L239.2,109.9 L239.7,110.1 L240.2,110.2 L240.7,110.4 L241.2,110.6 L241.7,110.8 L242.2,110.9 L242.7,111.1 L243.2,111.3 L243.7,111.5 L244.2,111.7 L244.7,111.9 L245.2,112.2 L245.7,112.4 L246.2,112.6 L246.7,112.8 L247.2,113.1 L247.7,113.3 L248.2,113.6 L248.7,113.8 L249.2,114.1 L249.7,114.3 L250.2,114.6 L250.7,114.9 L251.2,115.2 L251.7,115.5 L252.2,115.8 L252.7,116.2 L253.2,116.6 L253.7,117.0 L254.2,117.4 L254.7,117.8 L255.2,118.2 L255.7,118.7 L256.2,119.2 L256.7,119.7 L257.2,120.2 L257.7,120.7 L258.2,121.2 L258.7,121.8 L259.2,122.4 L259.7,123.1 L260.2,123.9 L260.7,124.6 L261.2,125.4 L261.7,126.2 L262.2,127.1 L262.7,127.9 L263.2,128.8 L263.7,129.7 L264.2,130.6 L264.7,131.5 L265.2,132.4 L265.7,133.3 L266.2,134.2 L266.7,135.1 L267.2,136.1 L267.7,137.1 L268.2,138.0 L268.7,139.1 L269.2,140.1 L269.7,141.1 L270.2,142.2 L270.7,143.2 L271.2,144.3 L271.7,145.4 L272.2,146.4 L272.7,147.5 L273.2,148.6 L273.7,149.7 L274.2,150.8 L274.7,151.9 L275.2,153.0 L275.7,154.2 L276.2,155.4 L276.7,156.6 L277.2,157.9 L277.7,159.2 L278.2,160.6 L278.7,162.0 L279.2,163.6 L279.7,165.2 L280.2,166.8 L280.7,168.5 L281.2,170.2 L281.7,171.8 L282.2,173.5 L282.7,175.0 L283.2,176.5 L283.7,178.0 L284.0,178.9 L284.3,179.8 L284.6,180.7 L284.9,181.5 L285.2,182.4 L285.5,183.3 L285.8,184.1 L286.1,185.0 L286.4,185.8 L286.7,186.6 L287.0,187.4 L287.3,188.2 L287.6,189.0 L287.9,189.7 L288.2,190.5 L288.5,191.3 L288.8,192.1 L289.1,192.9 L289.4,193.7 L289.7,194.5 L290.0,195.2 L290.3,196.0 L290.6,196.6 L290.9,197.3 L291.2,197.9 L291.5,198.4 L291.8,198.8 L292.1,199.1 L292.4,199.4 L292.7,199.7 L293.0,200.0 L293.3,200.3 L293.6,200.5 L293.9,200.7 L294.2,200.9 L294.5,201.1 L294.8,201.2 L295.1,201.2 L295.4,201.2 L295.7,201.0 L296.0,200.8 L296.3,200.4 L296.6,200.0 L296.9,199.5 L297.2,199.0 L297.5,198.5 L297.8,197.9 L298.1,197.0 L298.4,196.0 L298.7,194.8 L299.0,193.5 L299.3,192.0 L299.6,190.0 L299.9,187.6 L300.2,185.0 L300.5,182.5 L300.8,180.0 L301.1,177.4 L301.4,174.8 L301.7,172.1 L302.0,169.4 L302.3,166.6 L302.6,163.8 L302.9,161.0 L303.2,158.2 L303.5,155.6 L303.8,152.6 L304.1,148.4 L304.4,141.9 L304.7,127.1 L305.0,115.5 L305.3,111.0 L305.6,108.1 L305.9,105.8 L306.2,103.6 L306.5,102.2 L306.8,101.1 L307.1,99.6 L307.4,97.2 L307.7,88.5 L308.0,76.8 L308.3,66.7 L308.6,57.2 L308.9,48.0 L309.2,39.2 L309.5,30.7 L309.8,22.2 L310.1,12.7 L310.4,1.9 L310.7,-9.4 L311.0,-20.0 L311.3,-29.8 L311.6,-39.5 L311.9,-40.0 L312.2,-40.0 L312.5,-40.0 L312.8,-40.0 L313.1,-40.0 L313.4,-40.0 L313.7,-40.0" fill="none" stroke="#fc8d62" stroke-width="1.7"/>
<path d="M43.4,100.7 L45.4,100.9 L47.4,101.1 L49.4,101.2 L51.4,101.4 L53.4,101.6 L55.4,101.8 L57.4,101.9 L59.4,102.1 L61.4,102.3 L63.4,102.4 L65.4,102.6 L67.4,102.8 L69.4,102.9 L71.4,103.1 L73.4,103.3 L75.4,103.4 L77.4,103.6 L79.4,103.8 L81.4,103.9 L83.4,104.1 L85.4,104.3 L87.4,104.5 L89.4,104.7 L91.4,104.9 L93.4,105.1 L95.4,105.3 L97.4,105.5 L99.4,105.6 L101.4,105.8 L103.4,106.0 L105.4,106.2 L107.4,106.3 L109.4,106.4 L111.4,106.6 L113.4,106.7 L115.4,106.7 L117.4,106.8 L119.4,106.8 L121.4,106.8 L123.4,106.8 L125.4,106.8 L127.4,106.8 L129.4,106.8 L131.4,106.7 L133.4,106.7 L135.4,106.7 L137.4,106.7 L139.4,106.7 L141.4,106.6 L143.4,106.6 L145.4,106.6 L147.4,106.5 L149.4,106.5 L151.4,106.5 L153.4,106.4 L155.4,106.4 L157.4,106.4 L159.4,106.3 L161.4,106.3 L163.4,106.2 L165.4,106.2 L167.4,106.1 L169.4,106.0 L171.4,105.9 L173.4,105.8 L175.4,105.7 L177.4,105.6 L179.4,105.5 L181.4,105.4 L183.4,105.3 L185.4,105.1 L187.4,105.0 L189.4,104.9 L191.4,104.7 L193.4,104.6 L195.4,104.4 L197.4,104.3 L199.4,104.1 L201.4,104.0 L203.4,103.7 L205.4,103.5 L207.4,103.2 L209.4,103.0 L211.4,102.8 L213.4,102.8 L215.4,102.8 L217.4,102.9 L219.4,103.0 L221.4,103.1 L223.4,103.3 L225.4,103.5 L227.4,103.7 L229.4,103.9 L231.4,104.2 L233.4,104.4 L235.4,104.7 L237.4,104.9 L238.7,105.1 L239.2,105.2 L239.7,105.3 L240.2,105.4 L240.7,105.5 L241.2,105.6 L241.7,105.7 L242.2,105.8 L242.7,105.9 L243.2,106.0 L243.7,106.2 L244.2,106.3 L244.7,106.4 L245.2,106.5 L245.7,106.7 L246.2,106.8 L246.7,106.9 L247.2,107.1 L247.7,107.2 L248.2,107.4 L248.7,107.6 L249.2,107.7 L249.7,107.9 L250.2,108.1 L250.7,108.3 L251.2,108.5 L251.7,108.7 L252.2,109.0 L252.7,109.3 L253.2,109.6 L253.7,109.9 L254.2,110.2 L254.7,110.5 L255.2,110.9 L255.7,111.2 L256.2,111.6 L256.7,112.0 L257.2,112.4 L257.7,112.7 L258.2,113.1 L258.7,113.5 L259.2,113.9 L259.7,114.3 L260.2,114.7 L260.7,115.2 L261.2,115.6 L261.7,116.1 L262.2,116.6 L262.7,117.1 L263.2,117.6 L263.7,118.1 L264.2,118.7 L264.7,119.3 L265.2,119.9 L265.7,120.5 L266.2,121.2 L266.7,121.9 L267.2,122.6 L267.7,123.4 L268.2,124.1 L268.7,124.9 L269.2,125.6 L269.7,126.4 L270.2,127.1 L270.7,127.8 L271.2,128.5 L271.7,129.2 L272.2,129.9 L272.7,130.6 L273.2,131.3 L273.7,132.1 L274.2,133.0 L274.7,134.0 L275.2,135.0 L275.7,136.2 L276.2,137.7 L276.7,139.4 L277.2,141.3 L277.7,143.2 L278.2,145.1 L278.7,147.0 L279.2,148.7 L279.7,150.3 L280.2,151.8 L280.7,153.2 L281.2,154.5 L281.7,155.8 L282.2,157.1 L282.7,158.4 L283.2,159.7 L283.7,161.1 L284.0,161.9 L284.3,162.7 L284.6,163.6 L284.9,164.5 L285.2,165.5 L285.5,166.4 L285.8,167.3 L286.1,168.2 L286.4,169.0 L286.7,169.8 L287.0,170.6 L287.3,171.5 L287.6,172.3 L287.9,173.1 L288.2,173.8 L288.5,174.5 L288.8,175.0 L289.1,175.3 L289.4,175.5 L289.7,175.5 L290.0,175.4 L290.3,175.2 L290.6,175.0 L290.9,174.7 L291.2,174.4 L291.5,174.0 L291.8,173.5 L292.1,172.6 L292.4,171.6 L292.7,170.4 L293.0,169.1 L293.3,167.7 L293.6,166.2 L293.9,164.5 L294.2,162.6 L294.5,160.6 L294.8,158.5 L295.1,156.2 L295.4,153.6 L295.7,150.8 L296.0,148.2 L296.3,146.0 L296.6,144.3 L296.9,142.7 L297.2,141.0 L297.5,139.1 L297.8,137.2 L298.1,135.1 L298.4,132.8 L298.7,130.2 L299.0,127.2 L299.3,123.8 L299.6,120.0 L299.9,115.3 L300.2,110.0 L300.5,105.0 L300.8,99.8 L301.1,94.3 L301.4,88.3 L301.7,81.6 L302.0,73.7 L302.3,65.4 L302.6,57.4 L302.9,50.0 L303.2,42.6 L303.5,35.0 L303.8,27.1 L304.1,18.9 L304.4,9.8 L304.7,-0.0 L305.0,-10.0 L305.3,-19.8 L305.6,-29.7 L305.9,-39.5 L306.2,-40.0 L306.5,-40.0 L306.8,-40.0 L307.1,-40.0 L307.4,-40.0 L307.7,-40.0 L308.0,-40.0 L308.3,-40.0 L308.6,-40.0 L308.9,-40.0 L309.2,-40.0 L309.5,-40.0 L309.8,-40.0 L310.1,-40.0 L310.4,-40.0 L310.7,-40.0 L311.0,-40.0 L311.3,-40.0 L311.6,-40.0 L311.9,-40.0 L312.2,-40.0 L312.5,-40.0 L312.8,-40.0 L313.1,-40.0 L313.4,-40.0 L313.7,-40.0" fill="none" stroke="#fc8d62" stroke-width="1.45" stroke-dasharray="5 2.2"/>
<path d="M43.4,117.0 L45.4,116.9 L47.4,116.8 L49.4,116.7 L51.4,116.6 L53.4,116.5 L55.4,116.4 L57.4,116.4 L59.4,116.3 L61.4,116.2 L63.4,116.1 L65.4,116.0 L67.4,115.9 L69.4,115.9 L71.4,115.8 L73.4,115.7 L75.4,115.7 L77.4,115.6 L79.4,115.5 L81.4,115.5 L83.4,115.4 L85.4,115.3 L87.4,115.3 L89.4,115.2 L91.4,115.2 L93.4,115.1 L95.4,115.1 L97.4,115.0 L99.4,115.0 L101.4,114.9 L103.4,114.9 L105.4,114.8 L107.4,114.8 L109.4,114.8 L111.4,114.7 L113.4,114.7 L115.4,114.6 L117.4,114.6 L119.4,114.5 L121.4,114.5 L123.4,114.4 L125.4,114.4 L127.4,114.3 L129.4,114.3 L131.4,114.2 L133.4,114.2 L135.4,114.1 L137.4,114.1 L139.4,114.0 L141.4,114.0 L143.4,113.9 L145.4,113.9 L147.4,113.8 L149.4,113.8 L151.4,113.7 L153.4,113.7 L155.4,113.6 L157.4,113.6 L159.4,113.5 L161.4,113.5 L163.4,113.4 L165.4,113.3 L167.4,113.3 L169.4,113.2 L171.4,113.1 L173.4,113.1 L175.4,113.0 L177.4,112.9 L179.4,112.8 L181.4,112.8 L183.4,112.7 L185.4,112.6 L187.4,112.5 L189.4,112.4 L191.4,112.3 L193.4,112.2 L195.4,112.1 L197.4,112.0 L199.4,111.9 L201.4,111.8 L203.4,111.6 L205.4,111.5 L207.4,111.3 L209.4,111.1 L211.4,111.0 L213.4,111.0 L215.4,111.0 L217.4,111.1 L219.4,111.2 L221.4,111.4 L223.4,111.6 L225.4,111.8 L227.4,112.1 L229.4,112.3 L231.4,112.6 L233.4,112.9 L235.4,113.3 L237.4,113.7 L238.7,114.1 L239.2,114.3 L239.7,114.4 L240.2,114.6 L240.7,114.8 L241.2,115.0 L241.7,115.2 L242.2,115.4 L242.7,115.6 L243.2,115.8 L243.7,116.0 L244.2,116.3 L244.7,116.5 L245.2,116.7 L245.7,117.0 L246.2,117.2 L246.7,117.5 L247.2,117.8 L247.7,118.1 L248.2,118.4 L248.7,118.8 L249.2,119.1 L249.7,119.5 L250.2,119.9 L250.7,120.3 L251.2,120.8 L251.7,121.2 L252.2,121.7 L252.7,122.2 L253.2,122.7 L253.7,123.3 L254.2,123.9 L254.7,124.5 L255.2,125.1 L255.7,125.7 L256.2,126.3 L256.7,126.9 L257.2,127.5 L257.7,128.0 L258.2,128.6 L258.7,129.1 L259.2,129.7 L259.7,130.3 L260.2,130.8 L260.7,131.4 L261.2,132.0 L261.7,132.6 L262.2,133.2 L262.7,133.8 L263.2,134.4 L263.7,135.0 L264.2,135.6 L264.7,136.3 L265.2,137.0 L265.7,137.8 L266.2,138.8 L266.7,139.9 L267.2,141.2 L267.7,142.6 L268.2,143.9 L268.7,145.3 L269.2,146.5 L269.7,147.6 L270.2,148.7 L270.7,149.9 L271.2,151.0 L271.7,152.2 L272.2,153.3 L272.7,154.4 L273.2,155.6 L273.7,156.7 L274.2,157.9 L274.7,159.1 L275.2,160.4 L275.7,161.6 L276.2,163.0 L276.7,164.4 L277.2,165.8 L277.7,167.3 L278.2,168.8 L278.7,170.5 L279.2,172.3 L279.7,174.4 L280.2,176.8 L280.7,179.6 L281.2,182.6 L281.7,185.8 L282.2,189.1 L282.7,192.3 L283.2,195.3 L283.7,198.0 L284.0,199.5 L284.3,200.9 L284.6,202.3 L284.9,203.7 L285.2,205.0 L285.5,206.3 L285.8,207.7 L286.1,209.1 L286.4,210.5 L286.7,212.0 L287.0,213.5 L287.3,215.1 L287.6,216.6 L287.9,218.2 L288.2,219.8 L288.5,221.4 L288.8,223.1 L289.1,224.8 L289.4,226.5 L289.7,228.2 L290.0,230.0 L290.3,231.8 L290.6,233.6 L290.9,235.4 L291.2,237.2 L291.5,239.0 L291.8,240.8 L292.1,242.6 L292.4,244.4 L292.7,246.2 L293.0,248.1 L293.3,249.9 L293.6,251.8 L293.9,253.7 L294.2,255.6 L294.5,257.6 L294.8,259.5 L295.1,261.5 L295.4,263.6 L295.7,265.6 L296.0,267.7 L296.3,269.9 L296.6,272.0 L296.9,274.2 L297.2,276.5 L297.5,278.8 L297.8,280.0 L298.1,280.0 L298.4,280.0 L298.7,280.0 L299.0,280.0 L299.3,280.0 L299.6,280.0 L299.9,280.0 L300.2,280.0 L300.5,280.0 L300.8,280.0 L301.1,280.0 L301.4,280.0 L301.7,280.0 L302.0,280.0 L302.3,280.0 L302.6,280.0 L302.9,280.0 L303.2,280.0 L303.5,280.0 L303.8,280.0 L304.1,280.0 L304.4,280.0 L304.7,280.0 L305.0,280.0 L305.3,280.0 L305.6,280.0 L305.9,280.0 L306.2,280.0 L306.5,280.0 L306.8,280.0 L307.1,280.0 L307.4,280.0 L307.7,280.0 L308.0,280.0 L308.3,280.0 L308.6,280.0 L308.9,280.0 L309.2,280.0 L309.5,280.0 L309.8,280.0 L310.1,280.0 L310.4,280.0 L310.7,280.0 L311.0,280.0 L311.3,280.0 L311.6,280.0 L311.9,280.0 L312.2,280.0 L312.5,280.0 L312.8,280.0 L313.1,280.0 L313.4,280.0 L313.7,280.0" fill="none" stroke="#fc8d62" stroke-width="1.45" stroke-dasharray="5 2.2"/>
<path d="M43.4,111.2 L45.4,111.2 L47.4,111.3 L49.4,111.3 L51.4,111.4 L53.4,111.4 L55.4,111.5 L57.4,111.5 L59.4,111.5 L61.4,111.6 L63.4,111.6 L65.4,111.7 L67.4,111.7 L69.4,111.8 L71.4,111.8 L73.4,111.8 L75.4,111.9 L77.4,111.9 L79.4,112.0 L81.4,112.0 L83.4,112.1 L85.4,112.1 L87.4,112.2 L89.4,112.2 L91.4,112.3 L93.4,112.3 L95.4,112.4 L97.4,112.5 L99.4,112.5 L101.4,112.6 L103.4,112.6 L105.4,112.7 L107.4,112.7 L109.4,112.8 L111.4,112.8 L113.4,112.9 L115.4,112.9 L117.4,113.0 L119.4,113.0 L121.4,113.0 L123.4,113.1 L125.4,113.1 L127.4,113.1 L129.4,113.1 L131.4,113.2 L133.4,113.2 L135.4,113.2 L137.4,113.2 L139.4,113.2 L141.4,113.3 L143.4,113.3 L145.4,113.3 L147.4,113.3 L149.4,113.4 L151.4,113.4 L153.4,113.4 L155.4,113.4 L157.4,113.5 L159.4,113.5 L161.4,113.5 L163.4,113.6 L165.4,113.6 L167.4,113.6 L169.4,113.6 L171.4,113.7 L173.4,113.7 L175.4,113.7 L177.4,113.8 L179.4,113.8 L181.4,113.8 L183.4,113.9 L185.4,113.9 L187.4,114.0 L189.4,114.0 L191.4,114.0 L193.4,114.1 L195.4,114.2 L197.4,114.2 L199.4,114.3 L201.4,114.4 L203.4,114.4 L205.4,114.6 L207.4,114.7 L209.4,114.8 L211.4,115.0 L213.4,115.2 L215.4,115.4 L217.4,115.6 L219.4,115.8 L221.4,116.0 L223.4,116.2 L225.4,116.5 L227.4,116.7 L229.4,116.9 L231.4,117.2 L233.4,117.5 L235.4,117.9 L237.4,118.4 L238.7,118.6 L239.2,118.7 L239.7,118.8 L240.2,118.9 L240.7,119.0 L241.2,119.1 L241.7,119.2 L242.2,119.2 L242.7,119.3 L243.2,119.3 L243.7,119.4 L244.2,119.4 L244.7,119.5 L245.2,119.5 L245.7,119.5 L246.2,119.5 L246.7,119.5 L247.2,119.5 L247.7,119.4 L248.2,119.4 L248.7,119.3 L249.2,119.3 L249.7,119.2 L250.2,119.1 L250.7,119.0 L251.2,118.9 L251.7,118.8 L252.2,118.7 L252.7,118.6 L253.2,118.5 L253.7,118.3 L254.2,118.2 L254.7,118.1 L255.2,117.9 L255.7,117.8 L256.2,117.5 L256.7,117.3 L257.2,116.9 L257.7,116.6 L258.2,116.2 L258.7,115.9 L259.2,115.5 L259.7,115.1 L260.2,114.6 L260.7,114.2 L261.2,113.8 L261.7,113.4 L262.2,112.9 L262.7,112.4 L263.2,111.9 L263.7,111.4 L264.2,110.9 L264.7,110.3 L265.2,109.8 L265.7,109.3 L266.2,108.9 L266.7,108.5 L267.2,108.1 L267.7,107.7 L268.2,107.3 L268.7,107.0 L269.2,106.6 L269.7,106.3 L270.2,106.0 L270.7,105.7 L271.2,105.4 L271.7,105.1 L272.2,104.7 L272.7,104.4 L273.2,104.1 L273.7,103.8 L274.2,103.4 L274.7,103.1 L275.2,102.7 L275.7,102.3 L276.2,101.9 L276.7,101.5 L277.2,101.1 L277.7,100.6 L278.2,100.1 L278.7,99.5 L279.2,98.9 L279.7,98.1 L280.2,97.4 L280.7,96.6 L281.2,95.7 L281.7,94.9 L282.2,94.0 L282.7,93.1 L283.2,92.2 L283.7,91.2 L284.0,90.6 L284.3,90.1 L284.6,89.5 L284.9,88.9 L285.2,88.4 L285.5,87.8 L285.8,87.2 L286.1,86.7 L286.4,86.1 L286.7,85.5 L287.0,85.0 L287.3,84.5 L287.6,83.9 L287.9,83.4 L288.2,82.9 L288.5,82.4 L288.8,81.9 L289.1,81.4 L289.4,80.9 L289.7,80.4 L290.0,79.9 L290.3,79.5 L290.6,79.0 L290.9,78.4 L291.2,77.9 L291.5,77.4 L291.8,76.9 L292.1,76.4 L292.4,75.8 L292.7,75.2 L293.0,74.7 L293.3,74.1 L293.6,73.4 L293.9,72.8 L294.2,72.2 L294.5,71.5 L294.8,70.8 L295.1,70.1 L295.4,69.4 L295.7,68.6 L296.0,67.9 L296.3,67.1 L296.6,66.2 L296.9,65.4 L297.2,64.5 L297.5,63.6 L297.8,62.6 L298.1,61.7 L298.4,60.6 L298.7,59.5 L299.0,58.4 L299.3,57.2 L299.6,55.9 L299.9,54.6 L300.2,53.3 L300.5,51.9 L300.8,50.6 L301.1,49.2 L301.4,47.8 L301.7,46.4 L302.0,45.0 L302.3,43.6 L302.6,42.2 L302.9,40.9 L303.2,39.5 L303.5,38.0 L303.8,36.6 L304.1,35.0 L304.4,33.4 L304.7,31.8 L305.0,30.0 L305.3,28.1 L305.6,26.0 L305.9,23.7 L306.2,21.4 L306.5,19.1 L306.8,16.8 L307.1,14.5 L307.4,12.3 L307.7,10.1 L308.0,7.9 L308.3,5.7 L308.6,3.3 L308.9,0.9 L309.2,-1.8 L309.5,-4.4 L309.8,-7.2 L310.1,-10.0 L310.4,-12.9 L310.7,-15.9 L311.0,-19.0 L311.3,-22.1 L311.6,-25.3 L311.9,-28.6 L312.2,-32.0 L312.5,-35.4 L312.8,-38.9 L313.1,-40.0 L313.4,-40.0 L313.7,-40.0" fill="none" stroke="#8da0cb" stroke-width="1.7"/>
<path d="M43.4,102.8 L45.4,102.9 L47.4,103.1 L49.4,103.2 L51.4,103.4 L53.4,103.5 L55.4,103.7 L57.4,103.8 L59.4,104.0 L61.4,104.1 L63.4,104.3 L65.4,104.4 L67.4,104.6 L69.4,104.7 L71.4,104.9 L73.4,105.0 L75.4,105.2 L77.4,105.3 L79.4,105.5 L81.4,105.6 L83.4,105.8 L85.4,105.9 L87.4,106.1 L89.4,106.3 L91.4,106.4 L93.4,106.6 L95.4,106.8 L97.4,106.9 L99.4,107.1 L101.4,107.3 L103.4,107.4 L105.4,107.6 L107.4,107.7 L109.4,107.9 L111.4,108.0 L113.4,108.1 L115.4,108.3 L117.4,108.4 L119.4,108.5 L121.4,108.6 L123.4,108.6 L125.4,108.7 L127.4,108.8 L129.4,108.9 L131.4,109.0 L133.4,109.0 L135.4,109.1 L137.4,109.2 L139.4,109.2 L141.4,109.3 L143.4,109.4 L145.4,109.4 L147.4,109.5 L149.4,109.5 L151.4,109.6 L153.4,109.6 L155.4,109.7 L157.4,109.7 L159.4,109.8 L161.4,109.8 L163.4,109.9 L165.4,109.9 L167.4,110.0 L169.4,110.0 L171.4,110.0 L173.4,110.1 L175.4,110.1 L177.4,110.1 L179.4,110.2 L181.4,110.2 L183.4,110.2 L185.4,110.3 L187.4,110.3 L189.4,110.3 L191.4,110.4 L193.4,110.4 L195.4,110.5 L197.4,110.5 L199.4,110.6 L201.4,110.6 L203.4,110.7 L205.4,110.8 L207.4,110.9 L209.4,111.0 L211.4,111.1 L213.4,111.2 L215.4,111.3 L217.4,111.4 L219.4,111.5 L221.4,111.7 L223.4,111.8 L225.4,111.9 L227.4,112.1 L229.4,112.2 L231.4,112.4 L233.4,112.6 L235.4,112.7 L237.4,113.0 L238.7,113.2 L239.2,113.2 L239.7,113.3 L240.2,113.4 L240.7,113.5 L241.2,113.5 L241.7,113.6 L242.2,113.7 L242.7,113.8 L243.2,113.9 L243.7,113.9 L244.2,114.0 L244.7,114.1 L245.2,114.2 L245.7,114.2 L246.2,114.3 L246.7,114.3 L247.2,114.4 L247.7,114.4 L248.2,114.4 L248.7,114.5 L249.2,114.5 L249.7,114.5 L250.2,114.5 L250.7,114.5 L251.2,114.4 L251.7,114.4 L252.2,114.3 L252.7,114.2 L253.2,114.1 L253.7,114.0 L254.2,113.8 L254.7,113.7 L255.2,113.5 L255.7,113.4 L256.2,113.2 L256.7,113.0 L257.2,112.8 L257.7,112.6 L258.2,112.4 L258.7,112.1 L259.2,111.8 L259.7,111.5 L260.2,111.0 L260.7,110.6 L261.2,110.2 L261.7,109.7 L262.2,109.3 L262.7,108.9 L263.2,108.5 L263.7,108.1 L264.2,107.7 L264.7,107.2 L265.2,106.8 L265.7,106.3 L266.2,105.8 L266.7,105.3 L267.2,104.8 L267.7,104.2 L268.2,103.5 L268.7,102.9 L269.2,102.2 L269.7,101.5 L270.2,100.9 L270.7,100.3 L271.2,99.8 L271.7,99.2 L272.2,98.6 L272.7,98.0 L273.2,97.4 L273.7,96.8 L274.2,96.1 L274.7,95.4 L275.2,94.7 L275.7,93.9 L276.2,93.1 L276.7,92.3 L277.2,91.5 L277.7,90.6 L278.2,89.6 L278.7,88.7 L279.2,87.7 L279.7,86.7 L280.2,85.6 L280.7,84.5 L281.2,83.4 L281.7,82.2 L282.2,81.0 L282.7,79.8 L283.2,78.6 L283.7,77.3 L284.0,76.5 L284.3,75.8 L284.6,75.0 L284.9,74.3 L285.2,73.5 L285.5,72.7 L285.8,72.0 L286.1,71.2 L286.4,70.4 L286.7,69.6 L287.0,68.9 L287.3,68.1 L287.6,67.3 L287.9,66.4 L288.2,65.6 L288.5,64.8 L288.8,64.0 L289.1,63.1 L289.4,62.3 L289.7,61.4 L290.0,60.6 L290.3,59.7 L290.6,58.9 L290.9,58.0 L291.2,57.2 L291.5,56.3 L291.8,55.5 L292.1,54.6 L292.4,53.6 L292.7,52.6 L293.0,51.6 L293.3,50.4 L293.6,49.1 L293.9,47.7 L294.2,46.1 L294.5,44.3 L294.8,42.5 L295.1,40.5 L295.4,38.6 L295.7,36.7 L296.0,34.8 L296.3,33.0 L296.6,31.3 L296.9,29.5 L297.2,27.8 L297.5,26.1 L297.8,24.4 L298.1,22.7 L298.4,20.9 L298.7,19.1 L299.0,17.3 L299.3,15.4 L299.6,13.5 L299.9,11.7 L300.2,9.9 L300.5,7.9 L300.8,5.9 L301.1,3.5 L301.4,0.9 L301.7,-2.0 L302.0,-5.1 L302.3,-8.5 L302.6,-12.1 L302.9,-15.9 L303.2,-19.9 L303.5,-24.2 L303.8,-28.7 L304.1,-33.4 L304.4,-38.3 L304.7,-40.0 L305.0,-40.0 L305.3,-40.0 L305.6,-40.0 L305.9,-40.0 L306.2,-40.0 L306.5,-40.0 L306.8,-40.0 L307.1,-40.0 L307.4,-40.0 L307.7,-40.0 L308.0,-40.0 L308.3,-40.0 L308.6,-40.0 L308.9,-40.0 L309.2,-40.0 L309.5,-40.0 L309.8,-40.0 L310.1,-40.0 L310.4,-40.0 L310.7,-40.0 L311.0,-40.0 L311.3,-40.0 L311.6,-40.0 L311.9,-40.0 L312.2,-40.0 L312.5,-40.0 L312.8,-40.0 L313.1,-40.0 L313.4,-40.0 L313.7,-40.0" fill="none" stroke="#8da0cb" stroke-width="1.45" stroke-dasharray="5 2.2"/>
<path d="M43.4,119.9 L45.4,119.8 L47.4,119.7 L49.4,119.7 L51.4,119.6 L53.4,119.5 L55.4,119.4 L57.4,119.3 L59.4,119.3 L61.4,119.2 L63.4,119.1 L65.4,119.0 L67.4,119.0 L69.4,118.9 L71.4,118.8 L73.4,118.7 L75.4,118.7 L77.4,118.6 L79.4,118.5 L81.4,118.5 L83.4,118.4 L85.4,118.3 L87.4,118.2 L89.4,118.1 L91.4,118.1 L93.4,118.0 L95.4,117.9 L97.4,117.8 L99.4,117.8 L101.4,117.7 L103.4,117.6 L105.4,117.5 L107.4,117.5 L109.4,117.4 L111.4,117.4 L113.4,117.3 L115.4,117.3 L117.4,117.2 L119.4,117.2 L121.4,117.2 L123.4,117.2 L125.4,117.1 L127.4,117.1 L129.4,117.1 L131.4,117.1 L133.4,117.0 L135.4,117.0 L137.4,117.0 L139.4,117.0 L141.4,117.0 L143.4,117.0 L145.4,116.9 L147.4,116.9 L149.4,116.9 L151.4,116.9 L153.4,116.9 L155.4,116.9 L157.4,116.9 L159.4,116.9 L161.4,116.9 L163.4,116.9 L165.4,116.9 L167.4,116.9 L169.4,116.9 L171.4,116.9 L173.4,117.0 L175.4,117.0 L177.4,117.0 L179.4,117.0 L181.4,117.1 L183.4,117.1 L185.4,117.1 L187.4,117.2 L189.4,117.2 L191.4,117.2 L193.4,117.3 L195.4,117.3 L197.4,117.3 L199.4,117.4 L201.4,117.4 L203.4,117.5 L205.4,117.6 L207.4,117.7 L209.4,117.8 L211.4,117.9 L213.4,118.0 L215.4,118.3 L217.4,118.6 L219.4,119.0 L221.4,119.5 L223.4,120.0 L225.4,120.5 L227.4,121.0 L229.4,121.4 L231.4,121.7 L233.4,122.1 L235.4,122.5 L237.4,122.9 L238.7,123.1 L239.2,123.2 L239.7,123.3 L240.2,123.3 L240.7,123.4 L241.2,123.5 L241.7,123.5 L242.2,123.6 L242.7,123.6 L243.2,123.7 L243.7,123.7 L244.2,123.7 L244.7,123.8 L245.2,123.8 L245.7,123.8 L246.2,123.8 L246.7,123.8 L247.2,123.8 L247.7,123.7 L248.2,123.7 L248.7,123.6 L249.2,123.6 L249.7,123.5 L250.2,123.4 L250.7,123.4 L251.2,123.3 L251.7,123.2 L252.2,123.0 L252.7,122.9 L253.2,122.8 L253.7,122.7 L254.2,122.5 L254.7,122.4 L255.2,122.3 L255.7,122.1 L256.2,122.0 L256.7,121.8 L257.2,121.6 L257.7,121.5 L258.2,121.3 L258.7,121.0 L259.2,120.7 L259.7,120.3 L260.2,120.0 L260.7,119.5 L261.2,119.1 L261.7,118.6 L262.2,118.2 L262.7,117.7 L263.2,117.2 L263.7,116.8 L264.2,116.3 L264.7,115.9 L265.2,115.5 L265.7,115.1 L266.2,114.6 L266.7,114.2 L267.2,113.7 L267.7,113.2 L268.2,112.8 L268.7,112.3 L269.2,111.9 L269.7,111.5 L270.2,111.0 L270.7,110.6 L271.2,110.2 L271.7,109.7 L272.2,109.3 L272.7,108.9 L273.2,108.4 L273.7,108.0 L274.2,107.6 L274.7,107.2 L275.2,106.9 L275.7,106.5 L276.2,106.2 L276.7,105.9 L277.2,105.6 L277.7,105.3 L278.2,105.1 L278.7,104.8 L279.2,104.6 L279.7,104.4 L280.2,104.1 L280.7,103.9 L281.2,103.7 L281.7,103.5 L282.2,103.3 L282.7,103.1 L283.2,102.9 L283.7,102.7 L284.0,102.6 L284.3,102.5 L284.6,102.4 L284.9,102.3 L285.2,102.3 L285.5,102.2 L285.8,102.1 L286.1,102.0 L286.4,101.9 L286.7,101.8 L287.0,101.7 L287.3,101.6 L287.6,101.5 L287.9,101.4 L288.2,101.4 L288.5,101.3 L288.8,101.2 L289.1,101.0 L289.4,100.9 L289.7,100.8 L290.0,100.7 L290.3,100.6 L290.6,100.4 L290.9,100.3 L291.2,100.1 L291.5,100.0 L291.8,99.8 L292.1,99.7 L292.4,99.5 L292.7,99.3 L293.0,99.2 L293.3,99.0 L293.6,98.8 L293.9,98.6 L294.2,98.5 L294.5,98.3 L294.8,98.1 L295.1,98.0 L295.4,97.8 L295.7,97.6 L296.0,97.5 L296.3,97.3 L296.6,97.2 L296.9,97.0 L297.2,96.8 L297.5,96.7 L297.8,96.5 L298.1,96.3 L298.4,96.1 L298.7,96.0 L299.0,95.8 L299.3,95.6 L299.6,95.5 L299.9,95.4 L300.2,95.3 L300.5,95.2 L300.8,95.1 L301.1,95.0 L301.4,95.0 L301.7,95.0 L302.0,95.0 L302.3,95.1 L302.6,95.2 L302.9,95.4 L303.2,95.5 L303.5,95.7 L303.8,95.9 L304.1,96.1 L304.4,96.3 L304.7,96.5 L305.0,96.8 L305.3,97.2 L305.6,97.6 L305.9,98.1 L306.2,98.6 L306.5,99.3 L306.8,100.2 L307.1,102.2 L307.4,105.1 L307.7,108.5 L308.0,112.4 L308.3,116.4 L308.6,120.3 L308.9,124.0 L309.2,127.6 L309.5,131.3 L309.8,135.1 L310.1,139.0 L310.4,142.8 L310.7,146.5 L311.0,150.0 L311.3,153.3 L311.6,156.4 L311.9,159.4 L312.2,162.4 L312.5,165.5 L312.8,168.7 L313.1,172.2 L313.4,176.0 L313.7,180.0" fill="none" stroke="#8da0cb" stroke-width="1.45" stroke-dasharray="5 2.2"/>
</g></g>
<path d="M43.4,16.1 V211.5 H326.4" stroke="#111" stroke-width="0.9" fill="none"/>
<path d="M43.4,211.5 h-3.3 M43.4,178.9 h-3.3 M43.4,146.4 h-3.3 M43.4,113.8 h-3.3 M43.4,81.2 h-3.3 M43.4,48.7 h-3.3 M43.4,16.1 h-3.3 M63.4,211.5 v3.3 M128.8,211.5 v3.3 M194.3,211.5 v3.3 M259.8,211.5 v3.3 M325.2,211.5 v3.3" stroke="#111" stroke-width="0.85" fill="none"/>
<path d="M43.7,211.5 v2 M48.9,211.5 v2 M53.3,211.5 v2 M57.1,211.5 v2 M60.4,211.5 v2 M83.1,211.5 v2 M94.6,211.5 v2 M102.8,211.5 v2 M109.1,211.5 v2 M114.3,211.5 v2 M118.7,211.5 v2 M122.5,211.5 v2 M125.9,211.5 v2 M148.6,211.5 v2 M160.1,211.5 v2 M168.3,211.5 v2 M174.6,211.5 v2 M179.8,211.5 v2 M184.2,211.5 v2 M188.0,211.5 v2 M191.3,211.5 v2 M214.0,211.5 v2 M225.5,211.5 v2 M233.7,211.5 v2 M240.0,211.5 v2 M245.2,211.5 v2 M249.6,211.5 v2 M253.4,211.5 v2 M256.8,211.5 v2 M279.5,211.5 v2 M291.0,211.5 v2 M299.2,211.5 v2 M305.5,211.5 v2 M310.7,211.5 v2 M315.1,211.5 v2 M318.9,211.5 v2 M322.2,211.5 v2" stroke="#111" stroke-width="0.7" fill="none"/>
<text class="t" x="37.2" y="215.1" text-anchor="end">0.85</text>
<text class="t" x="37.2" y="182.5" text-anchor="end">0.90</text>
<text class="t" x="37.2" y="150.0" text-anchor="end">0.95</text>
<text class="t" x="37.2" y="117.4" text-anchor="end">1.00</text>
<text class="t" x="37.2" y="84.8" text-anchor="end">1.05</text>
<text class="t" x="37.2" y="52.3" text-anchor="end">1.10</text>
<text class="t" x="37.2" y="19.7" text-anchor="end">1.15</text>
<text class="t" x="50.5" y="226.8">10<tspan class="s" dy="-4.9">−4</tspan></text>
<text class="t" x="115.9" y="226.8">10<tspan class="s" dy="-4.9">−3</tspan></text>
<text class="t" x="181.4" y="226.8">10<tspan class="s" dy="-4.9">−2</tspan></text>
<text class="t" x="246.8" y="226.8">10<tspan class="s" dy="-4.9">−1</tspan></text>
<text class="t" x="314.5" y="226.8">10<tspan class="s" dy="-4.9">0</tspan></text>
<text class="t" x="185.5" y="240.2" text-anchor="middle">x</text>
<text class="t" transform="translate(8.2,113.8) rotate(-90)" text-anchor="middle">Ratio to NNPDF4.0</text>
<text class="ttl" x="184.6" y="9.2" text-anchor="middle">g at 100 GeV</text>
<rect x="60.3" y="21.5" width="261.2" height="50.2" rx="2" ry="2" fill="#fff" fill-opacity="0.8" stroke="#cccccc" stroke-opacity="0.8" stroke-width="0.9"/>
<rect x="64.3" y="26.1" width="21.3" height="7.4" fill="#66c2a5" fill-opacity="0.5" stroke="#66c2a5" stroke-width="1.1" stroke-dasharray="2.7 1.1"/>
<path d="M66.4,30 L69.6,26.8" stroke="#333" stroke-opacity="0.75" stroke-width="1" fill="none"/>
<text class="t" x="94.05" y="33.30">NNPDF4.0 (68 c.l.+1σ)</text>
<rect x="64.3" y="42.0" width="21.3" height="7.4" fill="#fc8d62" fill-opacity="0.5" stroke="#fc8d62" stroke-width="1.1" stroke-dasharray="2.7 1.1"/>
<path d="M66.3,44.7 L69.2,47.6" stroke="#333" stroke-opacity="0.75" stroke-width="1" fill="none"/>
<text class="t" x="94.05" y="49.25">NNPDF4.0 (no jet) (68 c.l.+1σ)</text>
<rect x="64.3" y="58.0" width="21.3" height="7.4" fill="#8da0cb" fill-opacity="0.5" stroke="#8da0cb" stroke-width="1.1" stroke-dasharray="2.7 1.1"/>
<path d="M66,64.9 H84" stroke="#333" stroke-opacity="0.75" stroke-width="1" fill="none"/>
<text class="t" x="94.05" y="65.20">NNPDF4.0 (no top-quark pair) (68 c.l.+1σ)</text>
<path d="M415.7,16.1 V211.5 M481.2,16.1 V211.5 M546.7,16.1 V211.5 M612.2,16.1 V211.5 M677.7,16.1 V211.5 M395.9,211.5 H678.9 M395.9,178.9 H678.9 M395.9,146.4 H678.9 M395.9,113.8 H678.9 M395.9,81.2 H678.9 M395.9,48.7 H678.9 M395.9,16.1 H678.9" stroke="#f1f1f1" stroke-width="0.8" fill="none"/>
<g clip-path="url(#cr)"><g filter="url(#sb)">
<path d="M395.9,105.8 L397.9,105.9 L399.9,106.1 L401.9,106.2 L403.9,106.4 L405.9,106.5 L407.9,106.6 L409.9,106.8 L411.9,106.9 L413.9,107.0 L415.9,107.1 L417.9,107.3 L419.9,107.4 L421.9,107.5 L423.9,107.6 L425.9,107.7 L427.9,107.8 L429.9,107.9 L431.9,108.0 L433.9,108.1 L435.9,108.1 L437.9,108.2 L439.9,108.3 L441.9,108.4 L443.9,108.5 L445.9,108.6 L447.9,108.7 L449.9,108.8 L451.9,108.8 L453.9,108.9 L455.9,109.0 L457.9,109.0 L459.9,109.1 L461.9,109.2 L463.9,109.2 L465.9,109.2 L467.9,109.3 L469.9,109.3 L471.9,109.3 L473.9,109.3 L475.9,109.4 L477.9,109.4 L479.9,109.4 L481.9,109.4 L483.9,109.4 L485.9,109.4 L487.9,109.4 L489.9,109.4 L491.9,109.4 L493.9,109.4 L495.9,109.4 L497.9,109.5 L499.9,109.5 L501.9,109.5 L503.9,109.5 L505.9,109.5 L507.9,109.5 L509.9,109.5 L511.9,109.5 L513.9,109.5 L515.9,109.5 L517.9,109.5 L519.9,109.5 L521.9,109.5 L523.9,109.5 L525.9,109.5 L527.9,109.5 L529.9,109.5 L531.9,109.5 L533.9,109.5 L535.9,109.6 L537.9,109.6 L539.9,109.6 L541.9,109.6 L543.9,109.6 L545.9,109.6 L547.9,109.6 L549.9,109.6 L551.9,109.7 L553.9,109.7 L555.9,109.7 L557.9,109.8 L559.9,109.9 L561.9,109.9 L563.9,110.0 L565.9,110.0 L567.9,110.1 L569.9,110.2 L571.9,110.2 L573.9,110.3 L575.9,110.4 L577.9,110.4 L579.9,110.5 L581.9,110.5 L583.9,110.5 L585.9,110.6 L587.9,110.6 L589.9,110.6 L590.7,110.6 L591.2,110.6 L591.7,110.6 L592.2,110.6 L592.7,110.5 L593.2,110.5 L593.7,110.5 L594.2,110.5 L594.7,110.5 L595.2,110.4 L595.7,110.4 L596.2,110.4 L596.7,110.3 L597.2,110.3 L597.7,110.3 L598.2,110.2 L598.7,110.2 L599.2,110.1 L599.7,110.1 L600.2,110.0 L600.7,110.0 L601.2,109.9 L601.7,109.9 L602.2,109.8 L602.7,109.8 L603.2,109.7 L603.7,109.7 L604.2,109.6 L604.7,109.6 L605.2,109.5 L605.7,109.4 L606.2,109.4 L606.7,109.3 L607.2,109.3 L607.7,109.2 L608.2,109.1 L608.7,109.1 L609.2,109.0 L609.7,108.9 L610.2,108.9 L610.7,108.8 L611.2,108.8 L611.7,108.7 L612.2,108.6 L612.7,108.6 L613.2,108.5 L613.7,108.4 L614.2,108.3 L614.7,108.3 L615.2,108.2 L615.7,108.1 L616.2,108.0 L616.7,107.9 L617.2,107.8 L617.7,107.7 L618.2,107.7 L618.7,107.6 L619.2,107.5 L619.7,107.4 L620.2,107.3 L620.7,107.1 L621.2,107.0 L621.7,106.9 L622.2,106.8 L622.7,106.7 L623.2,106.6 L623.7,106.5 L624.2,106.4 L624.7,106.3 L625.2,106.2 L625.7,106.1 L626.2,106.0 L626.7,105.9 L627.2,105.8 L627.7,105.7 L628.2,105.6 L628.7,105.5 L629.2,105.4 L629.7,105.3 L630.2,105.2 L630.7,105.1 L631.2,105.0 L631.7,104.9 L632.2,104.8 L632.7,104.6 L633.2,104.5 L633.7,104.3 L634.2,104.2 L634.7,104.0 L635.2,103.8 L635.7,103.6 L636.0,103.5 L636.3,103.4 L636.6,103.3 L636.9,103.1 L637.2,102.9 L637.5,102.7 L637.8,102.5 L638.1,102.2 L638.4,102.0 L638.7,101.6 L639.0,101.3 L639.3,100.9 L639.6,100.6 L639.9,100.2 L640.2,99.7 L640.5,99.3 L640.8,98.8 L641.1,98.3 L641.4,97.8 L641.7,97.3 L642.0,96.8 L642.3,96.3 L642.6,95.7 L642.9,95.2 L643.2,94.6 L643.5,94.0 L643.8,93.4 L644.1,92.9 L644.4,92.3 L644.7,91.7 L645.0,91.1 L645.3,90.5 L645.6,89.8 L645.9,89.1 L646.2,88.4 L646.5,87.7 L646.8,86.9 L647.1,86.1 L647.4,85.3 L647.7,84.4 L648.0,83.6 L648.3,82.7 L648.6,81.7 L648.9,80.8 L649.2,79.8 L649.5,78.8 L649.8,77.8 L650.1,76.7 L650.4,75.6 L650.7,74.6 L651.0,73.4 L651.3,72.3 L651.6,71.1 L651.9,69.9 L652.2,68.6 L652.5,67.2 L652.8,65.7 L653.1,64.1 L653.4,62.3 L653.7,60.2 L654.0,57.6 L654.3,54.6 L654.6,51.4 L654.9,48.1 L655.2,44.9 L655.5,41.7 L655.8,38.4 L656.1,35.1 L656.4,31.6 L656.7,28.0 L657.0,24.2 L657.3,20.3 L657.6,16.2 L657.9,11.9 L658.2,7.4 L658.5,2.6 L658.8,-2.6 L659.1,-8.2 L659.4,-14.1 L659.7,-20.1 L660.0,-26.4 L660.3,-32.9 L660.6,-39.6 L660.9,-40.0 L661.2,-40.0 L661.5,-40.0 L661.8,-40.0 L662.1,-40.0 L662.4,-40.0 L662.7,-40.0 L663.0,-40.0 L663.3,-40.0 L663.6,-40.0 L663.9,-40.0 L664.2,-40.0 L664.5,-40.0 L664.8,-40.0 L665.1,-40.0 L665.4,-40.0 L665.7,-40.0 L665.7,280.0 L665.4,280.0 L665.1,280.0 L664.8,280.0 L664.5,280.0 L664.2,280.0 L663.9,280.0 L663.6,280.0 L663.3,280.0 L663.0,280.0 L662.7,280.0 L662.4,280.0 L662.1,280.0 L661.8,280.0 L661.5,280.0 L661.2,280.0 L660.9,274.9 L660.6,268.5 L660.3,262.3 L660.0,256.1 L659.7,250.0 L659.4,244.1 L659.1,238.2 L658.8,232.4 L658.5,227.0 L658.2,221.7 L657.9,216.6 L657.6,211.5 L657.3,206.3 L657.0,200.6 L656.7,194.9 L656.4,189.6 L656.1,185.1 L655.8,181.6 L655.5,178.6 L655.2,175.8 L654.9,173.3 L654.6,171.1 L654.3,169.0 L654.0,167.0 L653.7,165.1 L653.4,163.2 L653.1,161.4 L652.8,159.7 L652.5,158.0 L652.2,156.4 L651.9,155.0 L651.6,153.6 L651.3,152.5 L651.0,151.4 L650.7,150.6 L650.4,149.9 L650.1,149.2 L649.8,148.6 L649.5,148.1 L649.2,147.6 L648.9,147.1 L648.6,146.6 L648.3,146.1 L648.0,145.5 L647.7,144.9 L647.4,144.2 L647.1,143.5 L646.8,142.7 L646.5,142.0 L646.2,141.2 L645.9,140.4 L645.6,139.7 L645.3,138.9 L645.0,138.2 L644.7,137.5 L644.4,136.8 L644.1,136.2 L643.8,135.6 L643.5,135.1 L643.2,134.5 L642.9,134.0 L642.6,133.4 L642.3,132.9 L642.0,132.4 L641.7,131.9 L641.4,131.4 L641.1,130.9 L640.8,130.5 L640.5,130.0 L640.2,129.6 L639.9,129.2 L639.6,128.9 L639.3,128.5 L639.0,128.2 L638.7,128.0 L638.4,127.7 L638.1,127.4 L637.8,127.2 L637.5,127.0 L637.2,126.7 L636.9,126.5 L636.6,126.3 L636.3,126.0 L636.0,125.8 L635.7,125.6 L635.2,125.3 L634.7,125.0 L634.2,124.7 L633.7,124.4 L633.2,124.1 L632.7,123.9 L632.2,123.6 L631.7,123.4 L631.2,123.2 L630.7,123.0 L630.2,122.8 L629.7,122.6 L629.2,122.4 L628.7,122.2 L628.2,122.0 L627.7,121.9 L627.2,121.7 L626.7,121.5 L626.2,121.4 L625.7,121.3 L625.2,121.1 L624.7,121.0 L624.2,120.9 L623.7,120.7 L623.2,120.6 L622.7,120.5 L622.2,120.4 L621.7,120.3 L621.2,120.2 L620.7,120.1 L620.2,120.0 L619.7,119.9 L619.2,119.8 L618.7,119.7 L618.2,119.6 L617.7,119.5 L617.2,119.4 L616.7,119.3 L616.2,119.2 L615.7,119.1 L615.2,119.0 L614.7,118.9 L614.2,118.8 L613.7,118.7 L613.2,118.6 L612.7,118.5 L612.2,118.4 L611.7,118.4 L611.2,118.3 L610.7,118.2 L610.2,118.1 L609.7,118.0 L609.2,118.0 L608.7,117.9 L608.2,117.8 L607.7,117.7 L607.2,117.7 L606.7,117.6 L606.2,117.5 L605.7,117.5 L605.2,117.4 L604.7,117.3 L604.2,117.3 L603.7,117.2 L603.2,117.2 L602.7,117.1 L602.2,117.1 L601.7,117.0 L601.2,117.0 L600.7,116.9 L600.2,116.9 L599.7,116.9 L599.2,116.8 L598.7,116.8 L598.2,116.8 L597.7,116.7 L597.2,116.7 L596.7,116.7 L596.2,116.6 L595.7,116.6 L595.2,116.6 L594.7,116.6 L594.2,116.5 L593.7,116.5 L593.2,116.5 L592.7,116.5 L592.2,116.4 L591.7,116.4 L591.2,116.4 L590.7,116.4 L589.9,116.4 L587.9,116.4 L585.9,116.4 L583.9,116.4 L581.9,116.5 L579.9,116.5 L577.9,116.5 L575.9,116.5 L573.9,116.5 L571.9,116.6 L569.9,116.6 L567.9,116.6 L565.9,116.7 L563.9,116.7 L561.9,116.7 L559.9,116.8 L557.9,116.8 L555.9,116.8 L553.9,116.8 L551.9,116.9 L549.9,116.9 L547.9,116.9 L545.9,116.9 L543.9,116.9 L541.9,116.9 L539.9,116.9 L537.9,116.9 L535.9,117.0 L533.9,117.0 L531.9,117.0 L529.9,117.0 L527.9,117.0 L525.9,117.0 L523.9,117.0 L521.9,117.0 L519.9,117.0 L517.9,117.0 L515.9,117.0 L513.9,117.0 L511.9,117.0 L509.9,117.0 L507.9,117.0 L505.9,117.0 L503.9,117.0 L501.9,117.0 L499.9,117.1 L497.9,117.1 L495.9,117.1 L493.9,117.1 L491.9,117.1 L489.9,117.1 L487.9,117.1 L485.9,117.1 L483.9,117.1 L481.9,117.1 L479.9,117.1 L477.9,117.1 L475.9,117.2 L473.9,117.2 L471.9,117.2 L469.9,117.2 L467.9,117.3 L465.9,117.3 L463.9,117.4 L461.9,117.5 L459.9,117.5 L457.9,117.6 L455.9,117.8 L453.9,117.9 L451.9,118.0 L449.9,118.1 L447.9,118.2 L445.9,118.4 L443.9,118.5 L441.9,118.7 L439.9,118.8 L437.9,118.9 L435.9,119.1 L433.9,119.2 L431.9,119.3 L429.9,119.4 L427.9,119.5 L425.9,119.7 L423.9,119.8 L421.9,119.9 L419.9,120.0 L417.9,120.1 L415.9,120.3 L413.9,120.4 L411.9,120.5 L409.9,120.6 L407.9,120.8 L405.9,120.9 L403.9,121.0 L401.9,121.1 L399.9,121.3 L397.9,121.4 L395.9,121.5Z" fill="#66c2a5" fill-opacity="0.5" stroke="none"/>
<path d="M395.9,105.8 L397.9,105.9 L399.9,106.1 L401.9,106.2 L403.9,106.4 L405.9,106.5 L407.9,106.6 L409.9,106.8 L411.9,106.9 L413.9,107.0 L415.9,107.1 L417.9,107.3 L419.9,107.4 L421.9,107.5 L423.9,107.6 L425.9,107.7 L427.9,107.8 L429.9,107.9 L431.9,108.0 L433.9,108.1 L435.9,108.1 L437.9,108.2 L439.9,108.3 L441.9,108.4 L443.9,108.5 L445.9,108.6 L447.9,108.7 L449.9,108.8 L451.9,108.8 L453.9,108.9 L455.9,109.0 L457.9,109.0 L459.9,109.1 L461.9,109.2 L463.9,109.2 L465.9,109.2 L467.9,109.3 L469.9,109.3 L471.9,109.3 L473.9,109.3 L475.9,109.4 L477.9,109.4 L479.9,109.4 L481.9,109.4 L483.9,109.4 L485.9,109.4 L487.9,109.4 L489.9,109.4 L491.9,109.4 L493.9,109.4 L495.9,109.4 L497.9,109.5 L499.9,109.5 L501.9,109.5 L503.9,109.5 L505.9,109.5 L507.9,109.5 L509.9,109.5 L511.9,109.5 L513.9,109.5 L515.9,109.5 L517.9,109.5 L519.9,109.5 L521.9,109.5 L523.9,109.5 L525.9,109.5 L527.9,109.5 L529.9,109.5 L531.9,109.5 L533.9,109.5 L535.9,109.6 L537.9,109.6 L539.9,109.6 L541.9,109.6 L543.9,109.6 L545.9,109.6 L547.9,109.6 L549.9,109.6 L551.9,109.7 L553.9,109.7 L555.9,109.7 L557.9,109.8 L559.9,109.9 L561.9,109.9 L563.9,110.0 L565.9,110.0 L567.9,110.1 L569.9,110.2 L571.9,110.2 L573.9,110.3 L575.9,110.4 L577.9,110.4 L579.9,110.5 L581.9,110.5 L583.9,110.5 L585.9,110.6 L587.9,110.6 L589.9,110.6 L590.7,110.6 L591.2,110.6 L591.7,110.6 L592.2,110.6 L592.7,110.5 L593.2,110.5 L593.7,110.5 L594.2,110.5 L594.7,110.5 L595.2,110.4 L595.7,110.4 L596.2,110.4 L596.7,110.3 L597.2,110.3 L597.7,110.3 L598.2,110.2 L598.7,110.2 L599.2,110.1 L599.7,110.1 L600.2,110.0 L600.7,110.0 L601.2,109.9 L601.7,109.9 L602.2,109.8 L602.7,109.8 L603.2,109.7 L603.7,109.7 L604.2,109.6 L604.7,109.6 L605.2,109.5 L605.7,109.4 L606.2,109.4 L606.7,109.3 L607.2,109.3 L607.7,109.2 L608.2,109.1 L608.7,109.1 L609.2,109.0 L609.7,108.9 L610.2,108.9 L610.7,108.8 L611.2,108.8 L611.7,108.7 L612.2,108.6 L612.7,108.6 L613.2,108.5 L613.7,108.4 L614.2,108.3 L614.7,108.3 L615.2,108.2 L615.7,108.1 L616.2,108.0 L616.7,107.9 L617.2,107.8 L617.7,107.7 L618.2,107.7 L618.7,107.6 L619.2,107.5 L619.7,107.4 L620.2,107.3 L620.7,107.1 L621.2,107.0 L621.7,106.9 L622.2,106.8 L622.7,106.7 L623.2,106.6 L623.7,106.5 L624.2,106.4 L624.7,106.3 L625.2,106.2 L625.7,106.1 L626.2,106.0 L626.7,105.9 L627.2,105.8 L627.7,105.7 L628.2,105.6 L628.7,105.5 L629.2,105.4 L629.7,105.3 L630.2,105.2 L630.7,105.1 L631.2,105.0 L631.7,104.9 L632.2,104.8 L632.7,104.6 L633.2,104.5 L633.7,104.3 L634.2,104.2 L634.7,104.0 L635.2,103.8 L635.7,103.6 L636.0,103.5 L636.3,103.4 L636.6,103.3 L636.9,103.1 L637.2,102.9 L637.5,102.7 L637.8,102.5 L638.1,102.2 L638.4,102.0 L638.7,101.6 L639.0,101.3 L639.3,100.9 L639.6,100.6 L639.9,100.2 L640.2,99.7 L640.5,99.3 L640.8,98.8 L641.1,98.3 L641.4,97.8 L641.7,97.3 L642.0,96.8 L642.3,96.3 L642.6,95.7 L642.9,95.2 L643.2,94.6 L643.5,94.0 L643.8,93.4 L644.1,92.9 L644.4,92.3 L644.7,91.7 L645.0,91.1 L645.3,90.5 L645.6,89.8 L645.9,89.1 L646.2,88.4 L646.5,87.7 L646.8,86.9 L647.1,86.1 L647.4,85.3 L647.7,84.4 L648.0,83.6 L648.3,82.7 L648.6,81.7 L648.9,80.8 L649.2,79.8 L649.5,78.8 L649.8,77.8 L650.1,76.7 L650.4,75.6 L650.7,74.6 L651.0,73.4 L651.3,72.3 L651.6,71.1 L651.9,69.9 L652.2,68.6 L652.5,67.2 L652.8,65.7 L653.1,64.1 L653.4,62.3 L653.7,60.2 L654.0,57.6 L654.3,54.6 L654.6,51.4 L654.9,48.1 L655.2,44.9 L655.5,41.7 L655.8,38.4 L656.1,35.1 L656.4,31.6 L656.7,28.0 L657.0,24.2 L657.3,20.3 L657.6,16.2 L657.9,11.9 L658.2,7.4 L658.5,2.6 L658.8,-2.6 L659.1,-8.2 L659.4,-14.1 L659.7,-20.1 L660.0,-26.4 L660.3,-32.9 L660.6,-39.6 L660.9,-40.0 L661.2,-40.0 L661.5,-40.0 L661.8,-40.0 L662.1,-40.0 L662.4,-40.0 L662.7,-40.0 L663.0,-40.0 L663.3,-40.0 L663.6,-40.0 L663.9,-40.0 L664.2,-40.0 L664.5,-40.0 L664.8,-40.0 L665.1,-40.0 L665.4,-40.0 L665.7,-40.0 L665.7,280.0 L665.4,280.0 L665.1,280.0 L664.8,280.0 L664.5,280.0 L664.2,280.0 L663.9,280.0 L663.6,280.0 L663.3,280.0 L663.0,280.0 L662.7,280.0 L662.4,280.0 L662.1,280.0 L661.8,280.0 L661.5,280.0 L661.2,280.0 L660.9,274.9 L660.6,268.5 L660.3,262.3 L660.0,256.1 L659.7,250.0 L659.4,244.1 L659.1,238.2 L658.8,232.4 L658.5,227.0 L658.2,221.7 L657.9,216.6 L657.6,211.5 L657.3,206.3 L657.0,200.6 L656.7,194.9 L656.4,189.6 L656.1,185.1 L655.8,181.6 L655.5,178.6 L655.2,175.8 L654.9,173.3 L654.6,171.1 L654.3,169.0 L654.0,167.0 L653.7,165.1 L653.4,163.2 L653.1,161.4 L652.8,159.7 L652.5,158.0 L652.2,156.4 L651.9,155.0 L651.6,153.6 L651.3,152.5 L651.0,151.4 L650.7,150.6 L650.4,149.9 L650.1,149.2 L649.8,148.6 L649.5,148.1 L649.2,147.6 L648.9,147.1 L648.6,146.6 L648.3,146.1 L648.0,145.5 L647.7,144.9 L647.4,144.2 L647.1,143.5 L646.8,142.7 L646.5,142.0 L646.2,141.2 L645.9,140.4 L645.6,139.7 L645.3,138.9 L645.0,138.2 L644.7,137.5 L644.4,136.8 L644.1,136.2 L643.8,135.6 L643.5,135.1 L643.2,134.5 L642.9,134.0 L642.6,133.4 L642.3,132.9 L642.0,132.4 L641.7,131.9 L641.4,131.4 L641.1,130.9 L640.8,130.5 L640.5,130.0 L640.2,129.6 L639.9,129.2 L639.6,128.9 L639.3,128.5 L639.0,128.2 L638.7,128.0 L638.4,127.7 L638.1,127.4 L637.8,127.2 L637.5,127.0 L637.2,126.7 L636.9,126.5 L636.6,126.3 L636.3,126.0 L636.0,125.8 L635.7,125.6 L635.2,125.3 L634.7,125.0 L634.2,124.7 L633.7,124.4 L633.2,124.1 L632.7,123.9 L632.2,123.6 L631.7,123.4 L631.2,123.2 L630.7,123.0 L630.2,122.8 L629.7,122.6 L629.2,122.4 L628.7,122.2 L628.2,122.0 L627.7,121.9 L627.2,121.7 L626.7,121.5 L626.2,121.4 L625.7,121.3 L625.2,121.1 L624.7,121.0 L624.2,120.9 L623.7,120.7 L623.2,120.6 L622.7,120.5 L622.2,120.4 L621.7,120.3 L621.2,120.2 L620.7,120.1 L620.2,120.0 L619.7,119.9 L619.2,119.8 L618.7,119.7 L618.2,119.6 L617.7,119.5 L617.2,119.4 L616.7,119.3 L616.2,119.2 L615.7,119.1 L615.2,119.0 L614.7,118.9 L614.2,118.8 L613.7,118.7 L613.2,118.6 L612.7,118.5 L612.2,118.4 L611.7,118.4 L611.2,118.3 L610.7,118.2 L610.2,118.1 L609.7,118.0 L609.2,118.0 L608.7,117.9 L608.2,117.8 L607.7,117.7 L607.2,117.7 L606.7,117.6 L606.2,117.5 L605.7,117.5 L605.2,117.4 L604.7,117.3 L604.2,117.3 L603.7,117.2 L603.2,117.2 L602.7,117.1 L602.2,117.1 L601.7,117.0 L601.2,117.0 L600.7,116.9 L600.2,116.9 L599.7,116.9 L599.2,116.8 L598.7,116.8 L598.2,116.8 L597.7,116.7 L597.2,116.7 L596.7,116.7 L596.2,116.6 L595.7,116.6 L595.2,116.6 L594.7,116.6 L594.2,116.5 L593.7,116.5 L593.2,116.5 L592.7,116.5 L592.2,116.4 L591.7,116.4 L591.2,116.4 L590.7,116.4 L589.9,116.4 L587.9,116.4 L585.9,116.4 L583.9,116.4 L581.9,116.5 L579.9,116.5 L577.9,116.5 L575.9,116.5 L573.9,116.5 L571.9,116.6 L569.9,116.6 L567.9,116.6 L565.9,116.7 L563.9,116.7 L561.9,116.7 L559.9,116.8 L557.9,116.8 L555.9,116.8 L553.9,116.8 L551.9,116.9 L549.9,116.9 L547.9,116.9 L545.9,116.9 L543.9,116.9 L541.9,116.9 L539.9,116.9 L537.9,116.9 L535.9,117.0 L533.9,117.0 L531.9,117.0 L529.9,117.0 L527.9,117.0 L525.9,117.0 L523.9,117.0 L521.9,117.0 L519.9,117.0 L517.9,117.0 L515.9,117.0 L513.9,117.0 L511.9,117.0 L509.9,117.0 L507.9,117.0 L505.9,117.0 L503.9,117.0 L501.9,117.0 L499.9,117.1 L497.9,117.1 L495.9,117.1 L493.9,117.1 L491.9,117.1 L489.9,117.1 L487.9,117.1 L485.9,117.1 L483.9,117.1 L481.9,117.1 L479.9,117.1 L477.9,117.1 L475.9,117.2 L473.9,117.2 L471.9,117.2 L469.9,117.2 L467.9,117.3 L465.9,117.3 L463.9,117.4 L461.9,117.5 L459.9,117.5 L457.9,117.6 L455.9,117.8 L453.9,117.9 L451.9,118.0 L449.9,118.1 L447.9,118.2 L445.9,118.4 L443.9,118.5 L441.9,118.7 L439.9,118.8 L437.9,118.9 L435.9,119.1 L433.9,119.2 L431.9,119.3 L429.9,119.4 L427.9,119.5 L425.9,119.7 L423.9,119.8 L421.9,119.9 L419.9,120.0 L417.9,120.1 L415.9,120.3 L413.9,120.4 L411.9,120.5 L409.9,120.6 L407.9,120.8 L405.9,120.9 L403.9,121.0 L401.9,121.1 L399.9,121.3 L397.9,121.4 L395.9,121.5Z" fill="url(#hgR)" stroke="none"/>
<path d="M395.9,105.8 L397.9,105.9 L399.9,106.1 L401.9,106.2 L403.9,106.4 L405.9,106.5 L407.9,106.6 L409.9,106.8 L411.9,106.9 L413.9,107.0 L415.9,107.1 L417.9,107.3 L419.9,107.4 L421.9,107.5 L423.9,107.6 L425.9,107.7 L427.9,107.8 L429.9,107.9 L431.9,108.0 L433.9,108.1 L435.9,108.1 L437.9,108.2 L439.9,108.3 L441.9,108.4 L443.9,108.5 L445.9,108.6 L447.9,108.7 L449.9,108.8 L451.9,108.8 L453.9,108.9 L455.9,109.0 L457.9,109.0 L459.9,109.1 L461.9,109.2 L463.9,109.2 L465.9,109.2 L467.9,109.3 L469.9,109.3 L471.9,109.3 L473.9,109.3 L475.9,109.4 L477.9,109.4 L479.9,109.4 L481.9,109.4 L483.9,109.4 L485.9,109.4 L487.9,109.4 L489.9,109.4 L491.9,109.4 L493.9,109.4 L495.9,109.4 L497.9,109.5 L499.9,109.5 L501.9,109.5 L503.9,109.5 L505.9,109.5 L507.9,109.5 L509.9,109.5 L511.9,109.5 L513.9,109.5 L515.9,109.5 L517.9,109.5 L519.9,109.5 L521.9,109.5 L523.9,109.5 L525.9,109.5 L527.9,109.5 L529.9,109.5 L531.9,109.5 L533.9,109.5 L535.9,109.6 L537.9,109.6 L539.9,109.6 L541.9,109.6 L543.9,109.6 L545.9,109.6 L547.9,109.6 L549.9,109.6 L551.9,109.7 L553.9,109.7 L555.9,109.7 L557.9,109.8 L559.9,109.9 L561.9,109.9 L563.9,110.0 L565.9,110.0 L567.9,110.1 L569.9,110.2 L571.9,110.2 L573.9,110.3 L575.9,110.4 L577.9,110.4 L579.9,110.5 L581.9,110.5 L583.9,110.5 L585.9,110.6 L587.9,110.6 L589.9,110.6 L590.7,110.6 L591.2,110.6 L591.7,110.6 L592.2,110.6 L592.7,110.5 L593.2,110.5 L593.7,110.5 L594.2,110.5 L594.7,110.5 L595.2,110.4 L595.7,110.4 L596.2,110.4 L596.7,110.3 L597.2,110.3 L597.7,110.3 L598.2,110.2 L598.7,110.2 L599.2,110.1 L599.7,110.1 L600.2,110.0 L600.7,110.0 L601.2,109.9 L601.7,109.9 L602.2,109.8 L602.7,109.8 L603.2,109.7 L603.7,109.7 L604.2,109.6 L604.7,109.6 L605.2,109.5 L605.7,109.4 L606.2,109.4 L606.7,109.3 L607.2,109.3 L607.7,109.2 L608.2,109.1 L608.7,109.1 L609.2,109.0 L609.7,108.9 L610.2,108.9 L610.7,108.8 L611.2,108.8 L611.7,108.7 L612.2,108.6 L612.7,108.6 L613.2,108.5 L613.7,108.4 L614.2,108.3 L614.7,108.3 L615.2,108.2 L615.7,108.1 L616.2,108.0 L616.7,107.9 L617.2,107.8 L617.7,107.7 L618.2,107.7 L618.7,107.6 L619.2,107.5 L619.7,107.4 L620.2,107.3 L620.7,107.1 L621.2,107.0 L621.7,106.9 L622.2,106.8 L622.7,106.7 L623.2,106.6 L623.7,106.5 L624.2,106.4 L624.7,106.3 L625.2,106.2 L625.7,106.1 L626.2,106.0 L626.7,105.9 L627.2,105.8 L627.7,105.7 L628.2,105.6 L628.7,105.5 L629.2,105.4 L629.7,105.3 L630.2,105.2 L630.7,105.1 L631.2,105.0 L631.7,104.9 L632.2,104.8 L632.7,104.6 L633.2,104.5 L633.7,104.3 L634.2,104.2 L634.7,104.0 L635.2,103.8 L635.7,103.6 L636.0,103.5 L636.3,103.4 L636.6,103.3 L636.9,103.1 L637.2,102.9 L637.5,102.7 L637.8,102.5 L638.1,102.2 L638.4,102.0 L638.7,101.6 L639.0,101.3 L639.3,100.9 L639.6,100.6 L639.9,100.2 L640.2,99.7 L640.5,99.3 L640.8,98.8 L641.1,98.3 L641.4,97.8 L641.7,97.3 L642.0,96.8 L642.3,96.3 L642.6,95.7 L642.9,95.2 L643.2,94.6 L643.5,94.0 L643.8,93.4 L644.1,92.9 L644.4,92.3 L644.7,91.7 L645.0,91.1 L645.3,90.5 L645.6,89.8 L645.9,89.1 L646.2,88.4 L646.5,87.7 L646.8,86.9 L647.1,86.1 L647.4,85.3 L647.7,84.4 L648.0,83.6 L648.3,82.7 L648.6,81.7 L648.9,80.8 L649.2,79.8 L649.5,78.8 L649.8,77.8 L650.1,76.7 L650.4,75.6 L650.7,74.6 L651.0,73.4 L651.3,72.3 L651.6,71.1 L651.9,69.9 L652.2,68.6 L652.5,67.2 L652.8,65.7 L653.1,64.1 L653.4,62.3 L653.7,60.2 L654.0,57.6 L654.3,54.6 L654.6,51.4 L654.9,48.1 L655.2,44.9 L655.5,41.7 L655.8,38.4 L656.1,35.1 L656.4,31.6 L656.7,28.0 L657.0,24.2 L657.3,20.3 L657.6,16.2 L657.9,11.9 L658.2,7.4 L658.5,2.6 L658.8,-2.6 L659.1,-8.2 L659.4,-14.1 L659.7,-20.1 L660.0,-26.4 L660.3,-32.9 L660.6,-39.6 L660.9,-40.0 L661.2,-40.0 L661.5,-40.0 L661.8,-40.0 L662.1,-40.0 L662.4,-40.0 L662.7,-40.0 L663.0,-40.0 L663.3,-40.0 L663.6,-40.0 L663.9,-40.0 L664.2,-40.0 L664.5,-40.0 L664.8,-40.0 L665.1,-40.0 L665.4,-40.0 L665.7,-40.0 M395.9,121.5 L397.9,121.4 L399.9,121.3 L401.9,121.1 L403.9,121.0 L405.9,120.9 L407.9,120.8 L409.9,120.6 L411.9,120.5 L413.9,120.4 L415.9,120.3 L417.9,120.1 L419.9,120.0 L421.9,119.9 L423.9,119.8 L425.9,119.7 L427.9,119.5 L429.9,119.4 L431.9,119.3 L433.9,119.2 L435.9,119.1 L437.9,118.9 L439.9,118.8 L441.9,118.7 L443.9,118.5 L445.9,118.4 L447.9,118.2 L449.9,118.1 L451.9,118.0 L453.9,117.9 L455.9,117.8 L457.9,117.6 L459.9,117.5 L461.9,117.5 L463.9,117.4 L465.9,117.3 L467.9,117.3 L469.9,117.2 L471.9,117.2 L473.9,117.2 L475.9,117.2 L477.9,117.1 L479.9,117.1 L481.9,117.1 L483.9,117.1 L485.9,117.1 L487.9,117.1 L489.9,117.1 L491.9,117.1 L493.9,117.1 L495.9,117.1 L497.9,117.1 L499.9,117.1 L501.9,117.0 L503.9,117.0 L505.9,117.0 L507.9,117.0 L509.9,117.0 L511.9,117.0 L513.9,117.0 L515.9,117.0 L517.9,117.0 L519.9,117.0 L521.9,117.0 L523.9,117.0 L525.9,117.0 L527.9,117.0 L529.9,117.0 L531.9,117.0 L533.9,117.0 L535.9,117.0 L537.9,116.9 L539.9,116.9 L541.9,116.9 L543.9,116.9 L545.9,116.9 L547.9,116.9 L549.9,116.9 L551.9,116.9 L553.9,116.8 L555.9,116.8 L557.9,116.8 L559.9,116.8 L561.9,116.7 L563.9,116.7 L565.9,116.7 L567.9,116.6 L569.9,116.6 L571.9,116.6 L573.9,116.5 L575.9,116.5 L577.9,116.5 L579.9,116.5 L581.9,116.5 L583.9,116.4 L585.9,116.4 L587.9,116.4 L589.9,116.4 L590.7,116.4 L591.2,116.4 L591.7,116.4 L592.2,116.4 L592.7,116.5 L593.2,116.5 L593.7,116.5 L594.2,116.5 L594.7,116.6 L595.2,116.6 L595.7,116.6 L596.2,116.6 L596.7,116.7 L597.2,116.7 L597.7,116.7 L598.2,116.8 L598.7,116.8 L599.2,116.8 L599.7,116.9 L600.2,116.9 L600.7,116.9 L601.2,117.0 L601.7,117.0 L602.2,117.1 L602.7,117.1 L603.2,117.2 L603.7,117.2 L604.2,117.3 L604.7,117.3 L605.2,117.4 L605.7,117.5 L606.2,117.5 L606.7,117.6 L607.2,117.7 L607.7,117.7 L608.2,117.8 L608.7,117.9 L609.2,118.0 L609.7,118.0 L610.2,118.1 L610.7,118.2 L611.2,118.3 L611.7,118.4 L612.2,118.4 L612.7,118.5 L613.2,118.6 L613.7,118.7 L614.2,118.8 L614.7,118.9 L615.2,119.0 L615.7,119.1 L616.2,119.2 L616.7,119.3 L617.2,119.4 L617.7,119.5 L618.2,119.6 L618.7,119.7 L619.2,119.8 L619.7,119.9 L620.2,120.0 L620.7,120.1 L621.2,120.2 L621.7,120.3 L622.2,120.4 L622.7,120.5 L623.2,120.6 L623.7,120.7 L624.2,120.9 L624.7,121.0 L625.2,121.1 L625.7,121.3 L626.2,121.4 L626.7,121.5 L627.2,121.7 L627.7,121.9 L628.2,122.0 L628.7,122.2 L629.2,122.4 L629.7,122.6 L630.2,122.8 L630.7,123.0 L631.2,123.2 L631.7,123.4 L632.2,123.6 L632.7,123.9 L633.2,124.1 L633.7,124.4 L634.2,124.7 L634.7,125.0 L635.2,125.3 L635.7,125.6 L636.0,125.8 L636.3,126.0 L636.6,126.3 L636.9,126.5 L637.2,126.7 L637.5,127.0 L637.8,127.2 L638.1,127.4 L638.4,127.7 L638.7,128.0 L639.0,128.2 L639.3,128.5 L639.6,128.9 L639.9,129.2 L640.2,129.6 L640.5,130.0 L640.8,130.5 L641.1,130.9 L641.4,131.4 L641.7,131.9 L642.0,132.4 L642.3,132.9 L642.6,133.4 L642.9,134.0 L643.2,134.5 L643.5,135.1 L643.8,135.6 L644.1,136.2 L644.4,136.8 L644.7,137.5 L645.0,138.2 L645.3,138.9 L645.6,139.7 L645.9,140.4 L646.2,141.2 L646.5,142.0 L646.8,142.7 L647.1,143.5 L647.4,144.2 L647.7,144.9 L648.0,145.5 L648.3,146.1 L648.6,146.6 L648.9,147.1 L649.2,147.6 L649.5,148.1 L649.8,148.6 L650.1,149.2 L650.4,149.9 L650.7,150.6 L651.0,151.4 L651.3,152.5 L651.6,153.6 L651.9,155.0 L652.2,156.4 L652.5,158.0 L652.8,159.7 L653.1,161.4 L653.4,163.2 L653.7,165.1 L654.0,167.0 L654.3,169.0 L654.6,171.1 L654.9,173.3 L655.2,175.8 L655.5,178.6 L655.8,181.6 L656.1,185.1 L656.4,189.6 L656.7,194.9 L657.0,200.6 L657.3,206.3 L657.6,211.5 L657.9,216.6 L658.2,221.7 L658.5,227.0 L658.8,232.4 L659.1,238.2 L659.4,244.1 L659.7,250.0 L660.0,256.1 L660.3,262.3 L660.6,268.5 L660.9,274.9 L661.2,280.0 L661.5,280.0 L661.8,280.0 L662.1,280.0 L662.4,280.0 L662.7,280.0 L663.0,280.0 L663.3,280.0 L663.6,280.0 L663.9,280.0 L664.2,280.0 L664.5,280.0 L664.8,280.0 L665.1,280.0 L665.4,280.0 L665.7,280.0" fill="none" stroke="#66c2a5" stroke-opacity="0.75" stroke-width="0.9" stroke-linejoin="round"/>
<path d="M665.9,-10 V250" fill="none" stroke="#66c2a5" stroke-opacity="0.6" stroke-width="0.8"/>
<path d="M395.9,106.7 L397.9,106.8 L399.9,106.9 L401.9,107.0 L403.9,107.1 L405.9,107.2 L407.9,107.3 L409.9,107.4 L411.9,107.5 L413.9,107.6 L415.9,107.6 L417.9,107.7 L419.9,107.8 L421.9,107.9 L423.9,108.0 L425.9,108.1 L427.9,108.1 L429.9,108.2 L431.9,108.3 L433.9,108.4 L435.9,108.4 L437.9,108.5 L439.9,108.6 L441.9,108.7 L443.9,108.7 L445.9,108.8 L447.9,108.9 L449.9,108.9 L451.9,109.0 L453.9,109.1 L455.9,109.1 L457.9,109.2 L459.9,109.2 L461.9,109.3 L463.9,109.3 L465.9,109.4 L467.9,109.4 L469.9,109.4 L471.9,109.5 L473.9,109.5 L475.9,109.5 L477.9,109.5 L479.9,109.5 L481.9,109.5 L483.9,109.5 L485.9,109.6 L487.9,109.6 L489.9,109.6 L491.9,109.6 L493.9,109.6 L495.9,109.6 L497.9,109.6 L499.9,109.6 L501.9,109.6 L503.9,109.6 L505.9,109.6 L507.9,109.6 L509.9,109.6 L511.9,109.6 L513.9,109.6 L515.9,109.6 L517.9,109.6 L519.9,109.6 L521.9,109.6 L523.9,109.6 L525.9,109.6 L527.9,109.6 L529.9,109.6 L531.9,109.6 L533.9,109.6 L535.9,109.6 L537.9,109.6 L539.9,109.6 L541.9,109.6 L543.9,109.6 L545.9,109.6 L547.9,109.6 L549.9,109.7 L551.9,109.7 L553.9,109.7 L555.9,109.7 L557.9,109.8 L559.9,109.8 L561.9,109.9 L563.9,110.0 L565.9,110.0 L567.9,110.1 L569.9,110.1 L571.9,110.2 L573.9,110.3 L575.9,110.3 L577.9,110.4 L579.9,110.4 L581.9,110.5 L583.9,110.5 L585.9,110.6 L587.9,110.6 L589.9,110.6 L590.7,110.6 L591.2,110.5 L591.7,110.5 L592.2,110.5 L592.7,110.5 L593.2,110.4 L593.7,110.4 L594.2,110.3 L594.7,110.2 L595.2,110.2 L595.7,110.1 L596.2,110.0 L596.7,109.9 L597.2,109.9 L597.7,109.8 L598.2,109.7 L598.7,109.6 L599.2,109.5 L599.7,109.5 L600.2,109.4 L600.7,109.3 L601.2,109.2 L601.7,109.1 L602.2,109.0 L602.7,108.9 L603.2,108.7 L603.7,108.6 L604.2,108.5 L604.7,108.3 L605.2,108.2 L605.7,108.1 L606.2,107.9 L606.7,107.7 L607.2,107.6 L607.7,107.4 L608.2,107.3 L608.7,107.1 L609.2,106.9 L609.7,106.8 L610.2,106.6 L610.7,106.4 L611.2,106.3 L611.7,106.1 L612.2,105.9 L612.7,105.7 L613.2,105.6 L613.7,105.4 L614.2,105.2 L614.7,105.0 L615.2,104.9 L615.7,104.7 L616.2,104.5 L616.7,104.3 L617.2,104.1 L617.7,103.9 L618.2,103.7 L618.7,103.6 L619.2,103.4 L619.7,103.2 L620.2,103.0 L620.7,102.7 L621.2,102.5 L621.7,102.3 L622.2,102.1 L622.7,101.9 L623.2,101.6 L623.7,101.4 L624.2,101.2 L624.7,100.9 L625.2,100.7 L625.7,100.4 L626.2,100.1 L626.7,99.9 L627.2,99.6 L627.7,99.3 L628.2,99.0 L628.7,98.7 L629.2,98.4 L629.7,98.1 L630.2,97.7 L630.7,97.4 L631.2,97.1 L631.7,96.7 L632.2,96.3 L632.7,95.9 L633.2,95.5 L633.7,95.1 L634.2,94.7 L634.7,94.2 L635.2,93.7 L635.7,93.2 L636.0,92.9 L636.3,92.6 L636.6,92.3 L636.9,92.0 L637.2,91.7 L637.5,91.3 L637.8,91.0 L638.1,90.6 L638.4,90.3 L638.7,89.9 L639.0,89.5 L639.3,89.1 L639.6,88.7 L639.9,88.3 L640.2,87.9 L640.5,87.5 L640.8,87.1 L641.1,86.7 L641.4,86.2 L641.7,85.7 L642.0,85.2 L642.3,84.6 L642.6,84.0 L642.9,83.4 L643.2,82.7 L643.5,82.1 L643.8,81.4 L644.1,80.7 L644.4,80.0 L644.7,79.2 L645.0,78.5 L645.3,77.7 L645.6,76.9 L645.9,76.1 L646.2,75.3 L646.5,74.5 L646.8,73.7 L647.1,72.9 L647.4,72.1 L647.7,71.3 L648.0,70.4 L648.3,69.6 L648.6,68.6 L648.9,67.7 L649.2,66.6 L649.5,65.4 L649.8,64.1 L650.1,62.7 L650.4,60.7 L650.7,58.4 L651.0,55.8 L651.3,53.2 L651.6,50.8 L651.9,48.5 L652.2,46.2 L652.5,43.8 L652.8,41.5 L653.1,39.2 L653.4,36.9 L653.7,34.7 L654.0,32.7 L654.3,30.8 L654.6,28.9 L654.9,26.9 L655.2,24.8 L655.5,22.5 L655.8,19.8 L656.1,16.7 L656.4,12.7 L656.7,8.3 L657.0,3.5 L657.3,-1.4 L657.6,-6.4 L657.9,-11.5 L658.2,-16.7 L658.5,-22.0 L658.8,-27.4 L659.1,-32.9 L659.4,-38.5 L659.7,-40.0 L660.0,-40.0 L660.3,-40.0 L660.6,-40.0 L660.9,-40.0 L661.2,-40.0 L661.5,-40.0 L661.8,-40.0 L662.1,-40.0 L662.4,-40.0 L662.7,-40.0 L663.0,-40.0 L663.3,-40.0 L663.6,-40.0 L663.9,-40.0 L664.2,-40.0 L664.5,-40.0 L664.8,-40.0 L665.1,-40.0 L665.4,-40.0 L665.7,-40.0 L665.7,280.0 L665.4,280.0 L665.1,280.0 L664.8,280.0 L664.5,280.0 L664.2,280.0 L663.9,280.0 L663.6,280.0 L663.3,280.0 L663.0,280.0 L662.7,280.0 L662.4,276.7 L662.1,267.4 L661.8,258.1 L661.5,249.0 L661.2,240.0 L660.9,231.1 L660.6,222.3 L660.3,213.9 L660.0,206.2 L659.7,199.3 L659.4,193.0 L659.1,187.0 L658.8,180.9 L658.5,174.3 L658.2,167.8 L657.9,161.9 L657.6,156.9 L657.3,153.5 L657.0,151.4 L656.7,149.8 L656.4,148.4 L656.1,147.0 L655.8,145.5 L655.5,143.9 L655.2,142.4 L654.9,140.8 L654.6,139.4 L654.3,138.0 L654.0,136.8 L653.7,135.6 L653.4,134.5 L653.1,133.4 L652.8,132.4 L652.5,131.4 L652.2,130.4 L651.9,129.5 L651.6,128.7 L651.3,127.9 L651.0,127.1 L650.7,126.4 L650.4,125.6 L650.1,124.9 L649.8,124.2 L649.5,123.6 L649.2,122.9 L648.9,122.3 L648.6,121.7 L648.3,121.2 L648.0,120.7 L647.7,120.2 L647.4,119.9 L647.1,119.5 L646.8,119.2 L646.5,119.0 L646.2,118.7 L645.9,118.5 L645.6,118.2 L645.3,118.0 L645.0,117.8 L644.7,117.6 L644.4,117.4 L644.1,117.2 L643.8,117.0 L643.5,116.8 L643.2,116.7 L642.9,116.5 L642.6,116.4 L642.3,116.2 L642.0,116.1 L641.7,116.0 L641.4,115.9 L641.1,115.8 L640.8,115.7 L640.5,115.6 L640.2,115.5 L639.9,115.5 L639.6,115.4 L639.3,115.3 L639.0,115.2 L638.7,115.2 L638.4,115.1 L638.1,115.0 L637.8,115.0 L637.5,114.9 L637.2,114.8 L636.9,114.8 L636.6,114.7 L636.3,114.6 L636.0,114.6 L635.7,114.5 L635.2,114.5 L634.7,114.4 L634.2,114.3 L633.7,114.2 L633.2,114.2 L632.7,114.1 L632.2,114.1 L631.7,114.0 L631.2,114.0 L630.7,114.0 L630.2,113.9 L629.7,113.9 L629.2,113.9 L628.7,113.9 L628.2,113.9 L627.7,113.8 L627.2,113.8 L626.7,113.8 L626.2,113.8 L625.7,113.8 L625.2,113.8 L624.7,113.7 L624.2,113.7 L623.7,113.7 L623.2,113.7 L622.7,113.7 L622.2,113.7 L621.7,113.7 L621.2,113.7 L620.7,113.7 L620.2,113.7 L619.7,113.7 L619.2,113.7 L618.7,113.7 L618.2,113.7 L617.7,113.8 L617.2,113.8 L616.7,113.8 L616.2,113.8 L615.7,113.8 L615.2,113.8 L614.7,113.8 L614.2,113.8 L613.7,113.8 L613.2,113.9 L612.7,113.9 L612.2,113.9 L611.7,113.9 L611.2,113.9 L610.7,113.9 L610.2,113.9 L609.7,114.0 L609.2,114.0 L608.7,114.0 L608.2,114.0 L607.7,114.0 L607.2,114.1 L606.7,114.1 L606.2,114.1 L605.7,114.1 L605.2,114.1 L604.7,114.2 L604.2,114.2 L603.7,114.2 L603.2,114.2 L602.7,114.3 L602.2,114.3 L601.7,114.3 L601.2,114.3 L600.7,114.4 L600.2,114.4 L599.7,114.4 L599.2,114.5 L598.7,114.5 L598.2,114.6 L597.7,114.7 L597.2,114.7 L596.7,114.8 L596.2,114.9 L595.7,115.0 L595.2,115.1 L594.7,115.2 L594.2,115.3 L593.7,115.4 L593.2,115.5 L592.7,115.6 L592.2,115.7 L591.7,115.7 L591.2,115.8 L590.7,115.8 L589.9,115.9 L587.9,115.9 L585.9,116.0 L583.9,116.0 L581.9,116.1 L579.9,116.1 L577.9,116.2 L575.9,116.2 L573.9,116.2 L571.9,116.3 L569.9,116.3 L567.9,116.3 L565.9,116.3 L563.9,116.4 L561.9,116.4 L559.9,116.4 L557.9,116.4 L555.9,116.4 L553.9,116.4 L551.9,116.4 L549.9,116.5 L547.9,116.5 L545.9,116.5 L543.9,116.5 L541.9,116.5 L539.9,116.5 L537.9,116.5 L535.9,116.5 L533.9,116.5 L531.9,116.5 L529.9,116.5 L527.9,116.5 L525.9,116.5 L523.9,116.5 L521.9,116.5 L519.9,116.5 L517.9,116.5 L515.9,116.5 L513.9,116.5 L511.9,116.6 L509.9,116.6 L507.9,116.6 L505.9,116.6 L503.9,116.6 L501.9,116.6 L499.9,116.6 L497.9,116.6 L495.9,116.6 L493.9,116.6 L491.9,116.6 L489.9,116.6 L487.9,116.6 L485.9,116.6 L483.9,116.6 L481.9,116.6 L479.9,116.6 L477.9,116.6 L475.9,116.6 L473.9,116.6 L471.9,116.7 L469.9,116.7 L467.9,116.7 L465.9,116.7 L463.9,116.8 L461.9,116.8 L459.9,116.9 L457.9,116.9 L455.9,117.0 L453.9,117.1 L451.9,117.1 L449.9,117.2 L447.9,117.3 L445.9,117.4 L443.9,117.5 L441.9,117.5 L439.9,117.6 L437.9,117.7 L435.9,117.8 L433.9,117.9 L431.9,117.9 L429.9,118.0 L427.9,118.1 L425.9,118.1 L423.9,118.2 L421.9,118.3 L419.9,118.3 L417.9,118.4 L415.9,118.5 L413.9,118.6 L411.9,118.6 L409.9,118.7 L407.9,118.8 L405.9,118.9 L403.9,118.9 L401.9,119.0 L399.9,119.1 L397.9,119.2 L395.9,119.2Z" fill="#fc8d62" fill-opacity="0.5" stroke="none"/>
<path d="M395.9,106.7 L397.9,106.8 L399.9,106.9 L401.9,107.0 L403.9,107.1 L405.9,107.2 L407.9,107.3 L409.9,107.4 L411.9,107.5 L413.9,107.6 L415.9,107.6 L417.9,107.7 L419.9,107.8 L421.9,107.9 L423.9,108.0 L425.9,108.1 L427.9,108.1 L429.9,108.2 L431.9,108.3 L433.9,108.4 L435.9,108.4 L437.9,108.5 L439.9,108.6 L441.9,108.7 L443.9,108.7 L445.9,108.8 L447.9,108.9 L449.9,108.9 L451.9,109.0 L453.9,109.1 L455.9,109.1 L457.9,109.2 L459.9,109.2 L461.9,109.3 L463.9,109.3 L465.9,109.4 L467.9,109.4 L469.9,109.4 L471.9,109.5 L473.9,109.5 L475.9,109.5 L477.9,109.5 L479.9,109.5 L481.9,109.5 L483.9,109.5 L485.9,109.6 L487.9,109.6 L489.9,109.6 L491.9,109.6 L493.9,109.6 L495.9,109.6 L497.9,109.6 L499.9,109.6 L501.9,109.6 L503.9,109.6 L505.9,109.6 L507.9,109.6 L509.9,109.6 L511.9,109.6 L513.9,109.6 L515.9,109.6 L517.9,109.6 L519.9,109.6 L521.9,109.6 L523.9,109.6 L525.9,109.6 L527.9,109.6 L529.9,109.6 L531.9,109.6 L533.9,109.6 L535.9,109.6 L537.9,109.6 L539.9,109.6 L541.9,109.6 L543.9,109.6 L545.9,109.6 L547.9,109.6 L549.9,109.7 L551.9,109.7 L553.9,109.7 L555.9,109.7 L557.9,109.8 L559.9,109.8 L561.9,109.9 L563.9,110.0 L565.9,110.0 L567.9,110.1 L569.9,110.1 L571.9,110.2 L573.9,110.3 L575.9,110.3 L577.9,110.4 L579.9,110.4 L581.9,110.5 L583.9,110.5 L585.9,110.6 L587.9,110.6 L589.9,110.6 L590.7,110.6 L591.2,110.5 L591.7,110.5 L592.2,110.5 L592.7,110.5 L593.2,110.4 L593.7,110.4 L594.2,110.3 L594.7,110.2 L595.2,110.2 L595.7,110.1 L596.2,110.0 L596.7,109.9 L597.2,109.9 L597.7,109.8 L598.2,109.7 L598.7,109.6 L599.2,109.5 L599.7,109.5 L600.2,109.4 L600.7,109.3 L601.2,109.2 L601.7,109.1 L602.2,109.0 L602.7,108.9 L603.2,108.7 L603.7,108.6 L604.2,108.5 L604.7,108.3 L605.2,108.2 L605.7,108.1 L606.2,107.9 L606.7,107.7 L607.2,107.6 L607.7,107.4 L608.2,107.3 L608.7,107.1 L609.2,106.9 L609.7,106.8 L610.2,106.6 L610.7,106.4 L611.2,106.3 L611.7,106.1 L612.2,105.9 L612.7,105.7 L613.2,105.6 L613.7,105.4 L614.2,105.2 L614.7,105.0 L615.2,104.9 L615.7,104.7 L616.2,104.5 L616.7,104.3 L617.2,104.1 L617.7,103.9 L618.2,103.7 L618.7,103.6 L619.2,103.4 L619.7,103.2 L620.2,103.0 L620.7,102.7 L621.2,102.5 L621.7,102.3 L622.2,102.1 L622.7,101.9 L623.2,101.6 L623.7,101.4 L624.2,101.2 L624.7,100.9 L625.2,100.7 L625.7,100.4 L626.2,100.1 L626.7,99.9 L627.2,99.6 L627.7,99.3 L628.2,99.0 L628.7,98.7 L629.2,98.4 L629.7,98.1 L630.2,97.7 L630.7,97.4 L631.2,97.1 L631.7,96.7 L632.2,96.3 L632.7,95.9 L633.2,95.5 L633.7,95.1 L634.2,94.7 L634.7,94.2 L635.2,93.7 L635.7,93.2 L636.0,92.9 L636.3,92.6 L636.6,92.3 L636.9,92.0 L637.2,91.7 L637.5,91.3 L637.8,91.0 L638.1,90.6 L638.4,90.3 L638.7,89.9 L639.0,89.5 L639.3,89.1 L639.6,88.7 L639.9,88.3 L640.2,87.9 L640.5,87.5 L640.8,87.1 L641.1,86.7 L641.4,86.2 L641.7,85.7 L642.0,85.2 L642.3,84.6 L642.6,84.0 L642.9,83.4 L643.2,82.7 L643.5,82.1 L643.8,81.4 L644.1,80.7 L644.4,80.0 L644.7,79.2 L645.0,78.5 L645.3,77.7 L645.6,76.9 L645.9,76.1 L646.2,75.3 L646.5,74.5 L646.8,73.7 L647.1,72.9 L647.4,72.1 L647.7,71.3 L648.0,70.4 L648.3,69.6 L648.6,68.6 L648.9,67.7 L649.2,66.6 L649.5,65.4 L649.8,64.1 L650.1,62.7 L650.4,60.7 L650.7,58.4 L651.0,55.8 L651.3,53.2 L651.6,50.8 L651.9,48.5 L652.2,46.2 L652.5,43.8 L652.8,41.5 L653.1,39.2 L653.4,36.9 L653.7,34.7 L654.0,32.7 L654.3,30.8 L654.6,28.9 L654.9,26.9 L655.2,24.8 L655.5,22.5 L655.8,19.8 L656.1,16.7 L656.4,12.7 L656.7,8.3 L657.0,3.5 L657.3,-1.4 L657.6,-6.4 L657.9,-11.5 L658.2,-16.7 L658.5,-22.0 L658.8,-27.4 L659.1,-32.9 L659.4,-38.5 L659.7,-40.0 L660.0,-40.0 L660.3,-40.0 L660.6,-40.0 L660.9,-40.0 L661.2,-40.0 L661.5,-40.0 L661.8,-40.0 L662.1,-40.0 L662.4,-40.0 L662.7,-40.0 L663.0,-40.0 L663.3,-40.0 L663.6,-40.0 L663.9,-40.0 L664.2,-40.0 L664.5,-40.0 L664.8,-40.0 L665.1,-40.0 L665.4,-40.0 L665.7,-40.0 L665.7,280.0 L665.4,280.0 L665.1,280.0 L664.8,280.0 L664.5,280.0 L664.2,280.0 L663.9,280.0 L663.6,280.0 L663.3,280.0 L663.0,280.0 L662.7,280.0 L662.4,276.7 L662.1,267.4 L661.8,258.1 L661.5,249.0 L661.2,240.0 L660.9,231.1 L660.6,222.3 L660.3,213.9 L660.0,206.2 L659.7,199.3 L659.4,193.0 L659.1,187.0 L658.8,180.9 L658.5,174.3 L658.2,167.8 L657.9,161.9 L657.6,156.9 L657.3,153.5 L657.0,151.4 L656.7,149.8 L656.4,148.4 L656.1,147.0 L655.8,145.5 L655.5,143.9 L655.2,142.4 L654.9,140.8 L654.6,139.4 L654.3,138.0 L654.0,136.8 L653.7,135.6 L653.4,134.5 L653.1,133.4 L652.8,132.4 L652.5,131.4 L652.2,130.4 L651.9,129.5 L651.6,128.7 L651.3,127.9 L651.0,127.1 L650.7,126.4 L650.4,125.6 L650.1,124.9 L649.8,124.2 L649.5,123.6 L649.2,122.9 L648.9,122.3 L648.6,121.7 L648.3,121.2 L648.0,120.7 L647.7,120.2 L647.4,119.9 L647.1,119.5 L646.8,119.2 L646.5,119.0 L646.2,118.7 L645.9,118.5 L645.6,118.2 L645.3,118.0 L645.0,117.8 L644.7,117.6 L644.4,117.4 L644.1,117.2 L643.8,117.0 L643.5,116.8 L643.2,116.7 L642.9,116.5 L642.6,116.4 L642.3,116.2 L642.0,116.1 L641.7,116.0 L641.4,115.9 L641.1,115.8 L640.8,115.7 L640.5,115.6 L640.2,115.5 L639.9,115.5 L639.6,115.4 L639.3,115.3 L639.0,115.2 L638.7,115.2 L638.4,115.1 L638.1,115.0 L637.8,115.0 L637.5,114.9 L637.2,114.8 L636.9,114.8 L636.6,114.7 L636.3,114.6 L636.0,114.6 L635.7,114.5 L635.2,114.5 L634.7,114.4 L634.2,114.3 L633.7,114.2 L633.2,114.2 L632.7,114.1 L632.2,114.1 L631.7,114.0 L631.2,114.0 L630.7,114.0 L630.2,113.9 L629.7,113.9 L629.2,113.9 L628.7,113.9 L628.2,113.9 L627.7,113.8 L627.2,113.8 L626.7,113.8 L626.2,113.8 L625.7,113.8 L625.2,113.8 L624.7,113.7 L624.2,113.7 L623.7,113.7 L623.2,113.7 L622.7,113.7 L622.2,113.7 L621.7,113.7 L621.2,113.7 L620.7,113.7 L620.2,113.7 L619.7,113.7 L619.2,113.7 L618.7,113.7 L618.2,113.7 L617.7,113.8 L617.2,113.8 L616.7,113.8 L616.2,113.8 L615.7,113.8 L615.2,113.8 L614.7,113.8 L614.2,113.8 L613.7,113.8 L613.2,113.9 L612.7,113.9 L612.2,113.9 L611.7,113.9 L611.2,113.9 L610.7,113.9 L610.2,113.9 L609.7,114.0 L609.2,114.0 L608.7,114.0 L608.2,114.0 L607.7,114.0 L607.2,114.1 L606.7,114.1 L606.2,114.1 L605.7,114.1 L605.2,114.1 L604.7,114.2 L604.2,114.2 L603.7,114.2 L603.2,114.2 L602.7,114.3 L602.2,114.3 L601.7,114.3 L601.2,114.3 L600.7,114.4 L600.2,114.4 L599.7,114.4 L599.2,114.5 L598.7,114.5 L598.2,114.6 L597.7,114.7 L597.2,114.7 L596.7,114.8 L596.2,114.9 L595.7,115.0 L595.2,115.1 L594.7,115.2 L594.2,115.3 L593.7,115.4 L593.2,115.5 L592.7,115.6 L592.2,115.7 L591.7,115.7 L591.2,115.8 L590.7,115.8 L589.9,115.9 L587.9,115.9 L585.9,116.0 L583.9,116.0 L581.9,116.1 L579.9,116.1 L577.9,116.2 L575.9,116.2 L573.9,116.2 L571.9,116.3 L569.9,116.3 L567.9,116.3 L565.9,116.3 L563.9,116.4 L561.9,116.4 L559.9,116.4 L557.9,116.4 L555.9,116.4 L553.9,116.4 L551.9,116.4 L549.9,116.5 L547.9,116.5 L545.9,116.5 L543.9,116.5 L541.9,116.5 L539.9,116.5 L537.9,116.5 L535.9,116.5 L533.9,116.5 L531.9,116.5 L529.9,116.5 L527.9,116.5 L525.9,116.5 L523.9,116.5 L521.9,116.5 L519.9,116.5 L517.9,116.5 L515.9,116.5 L513.9,116.5 L511.9,116.6 L509.9,116.6 L507.9,116.6 L505.9,116.6 L503.9,116.6 L501.9,116.6 L499.9,116.6 L497.9,116.6 L495.9,116.6 L493.9,116.6 L491.9,116.6 L489.9,116.6 L487.9,116.6 L485.9,116.6 L483.9,116.6 L481.9,116.6 L479.9,116.6 L477.9,116.6 L475.9,116.6 L473.9,116.6 L471.9,116.7 L469.9,116.7 L467.9,116.7 L465.9,116.7 L463.9,116.8 L461.9,116.8 L459.9,116.9 L457.9,116.9 L455.9,117.0 L453.9,117.1 L451.9,117.1 L449.9,117.2 L447.9,117.3 L445.9,117.4 L443.9,117.5 L441.9,117.5 L439.9,117.6 L437.9,117.7 L435.9,117.8 L433.9,117.9 L431.9,117.9 L429.9,118.0 L427.9,118.1 L425.9,118.1 L423.9,118.2 L421.9,118.3 L419.9,118.3 L417.9,118.4 L415.9,118.5 L413.9,118.6 L411.9,118.6 L409.9,118.7 L407.9,118.8 L405.9,118.9 L403.9,118.9 L401.9,119.0 L399.9,119.1 L397.9,119.2 L395.9,119.2Z" fill="url(#hoR)" stroke="none"/>
<path d="M395.9,106.7 L397.9,106.8 L399.9,106.9 L401.9,107.0 L403.9,107.1 L405.9,107.2 L407.9,107.3 L409.9,107.4 L411.9,107.5 L413.9,107.6 L415.9,107.6 L417.9,107.7 L419.9,107.8 L421.9,107.9 L423.9,108.0 L425.9,108.1 L427.9,108.1 L429.9,108.2 L431.9,108.3 L433.9,108.4 L435.9,108.4 L437.9,108.5 L439.9,108.6 L441.9,108.7 L443.9,108.7 L445.9,108.8 L447.9,108.9 L449.9,108.9 L451.9,109.0 L453.9,109.1 L455.9,109.1 L457.9,109.2 L459.9,109.2 L461.9,109.3 L463.9,109.3 L465.9,109.4 L467.9,109.4 L469.9,109.4 L471.9,109.5 L473.9,109.5 L475.9,109.5 L477.9,109.5 L479.9,109.5 L481.9,109.5 L483.9,109.5 L485.9,109.6 L487.9,109.6 L489.9,109.6 L491.9,109.6 L493.9,109.6 L495.9,109.6 L497.9,109.6 L499.9,109.6 L501.9,109.6 L503.9,109.6 L505.9,109.6 L507.9,109.6 L509.9,109.6 L511.9,109.6 L513.9,109.6 L515.9,109.6 L517.9,109.6 L519.9,109.6 L521.9,109.6 L523.9,109.6 L525.9,109.6 L527.9,109.6 L529.9,109.6 L531.9,109.6 L533.9,109.6 L535.9,109.6 L537.9,109.6 L539.9,109.6 L541.9,109.6 L543.9,109.6 L545.9,109.6 L547.9,109.6 L549.9,109.7 L551.9,109.7 L553.9,109.7 L555.9,109.7 L557.9,109.8 L559.9,109.8 L561.9,109.9 L563.9,110.0 L565.9,110.0 L567.9,110.1 L569.9,110.1 L571.9,110.2 L573.9,110.3 L575.9,110.3 L577.9,110.4 L579.9,110.4 L581.9,110.5 L583.9,110.5 L585.9,110.6 L587.9,110.6 L589.9,110.6 L590.7,110.6 L591.2,110.5 L591.7,110.5 L592.2,110.5 L592.7,110.5 L593.2,110.4 L593.7,110.4 L594.2,110.3 L594.7,110.2 L595.2,110.2 L595.7,110.1 L596.2,110.0 L596.7,109.9 L597.2,109.9 L597.7,109.8 L598.2,109.7 L598.7,109.6 L599.2,109.5 L599.7,109.5 L600.2,109.4 L600.7,109.3 L601.2,109.2 L601.7,109.1 L602.2,109.0 L602.7,108.9 L603.2,108.7 L603.7,108.6 L604.2,108.5 L604.7,108.3 L605.2,108.2 L605.7,108.1 L606.2,107.9 L606.7,107.7 L607.2,107.6 L607.7,107.4 L608.2,107.3 L608.7,107.1 L609.2,106.9 L609.7,106.8 L610.2,106.6 L610.7,106.4 L611.2,106.3 L611.7,106.1 L612.2,105.9 L612.7,105.7 L613.2,105.6 L613.7,105.4 L614.2,105.2 L614.7,105.0 L615.2,104.9 L615.7,104.7 L616.2,104.5 L616.7,104.3 L617.2,104.1 L617.7,103.9 L618.2,103.7 L618.7,103.6 L619.2,103.4 L619.7,103.2 L620.2,103.0 L620.7,102.7 L621.2,102.5 L621.7,102.3 L622.2,102.1 L622.7,101.9 L623.2,101.6 L623.7,101.4 L624.2,101.2 L624.7,100.9 L625.2,100.7 L625.7,100.4 L626.2,100.1 L626.7,99.9 L627.2,99.6 L627.7,99.3 L628.2,99.0 L628.7,98.7 L629.2,98.4 L629.7,98.1 L630.2,97.7 L630.7,97.4 L631.2,97.1 L631.7,96.7 L632.2,96.3 L632.7,95.9 L633.2,95.5 L633.7,95.1 L634.2,94.7 L634.7,94.2 L635.2,93.7 L635.7,93.2 L636.0,92.9 L636.3,92.6 L636.6,92.3 L636.9,92.0 L637.2,91.7 L637.5,91.3 L637.8,91.0 L638.1,90.6 L638.4,90.3 L638.7,89.9 L639.0,89.5 L639.3,89.1 L639.6,88.7 L639.9,88.3 L640.2,87.9 L640.5,87.5 L640.8,87.1 L641.1,86.7 L641.4,86.2 L641.7,85.7 L642.0,85.2 L642.3,84.6 L642.6,84.0 L642.9,83.4 L643.2,82.7 L643.5,82.1 L643.8,81.4 L644.1,80.7 L644.4,80.0 L644.7,79.2 L645.0,78.5 L645.3,77.7 L645.6,76.9 L645.9,76.1 L646.2,75.3 L646.5,74.5 L646.8,73.7 L647.1,72.9 L647.4,72.1 L647.7,71.3 L648.0,70.4 L648.3,69.6 L648.6,68.6 L648.9,67.7 L649.2,66.6 L649.5,65.4 L649.8,64.1 L650.1,62.7 L650.4,60.7 L650.7,58.4 L651.0,55.8 L651.3,53.2 L651.6,50.8 L651.9,48.5 L652.2,46.2 L652.5,43.8 L652.8,41.5 L653.1,39.2 L653.4,36.9 L653.7,34.7 L654.0,32.7 L654.3,30.8 L654.6,28.9 L654.9,26.9 L655.2,24.8 L655.5,22.5 L655.8,19.8 L656.1,16.7 L656.4,12.7 L656.7,8.3 L657.0,3.5 L657.3,-1.4 L657.6,-6.4 L657.9,-11.5 L658.2,-16.7 L658.5,-22.0 L658.8,-27.4 L659.1,-32.9 L659.4,-38.5 L659.7,-40.0 L660.0,-40.0 L660.3,-40.0 L660.6,-40.0 L660.9,-40.0 L661.2,-40.0 L661.5,-40.0 L661.8,-40.0 L662.1,-40.0 L662.4,-40.0 L662.7,-40.0 L663.0,-40.0 L663.3,-40.0 L663.6,-40.0 L663.9,-40.0 L664.2,-40.0 L664.5,-40.0 L664.8,-40.0 L665.1,-40.0 L665.4,-40.0 L665.7,-40.0 M395.9,119.2 L397.9,119.2 L399.9,119.1 L401.9,119.0 L403.9,118.9 L405.9,118.9 L407.9,118.8 L409.9,118.7 L411.9,118.6 L413.9,118.6 L415.9,118.5 L417.9,118.4 L419.9,118.3 L421.9,118.3 L423.9,118.2 L425.9,118.1 L427.9,118.1 L429.9,118.0 L431.9,117.9 L433.9,117.9 L435.9,117.8 L437.9,117.7 L439.9,117.6 L441.9,117.5 L443.9,117.5 L445.9,117.4 L447.9,117.3 L449.9,117.2 L451.9,117.1 L453.9,117.1 L455.9,117.0 L457.9,116.9 L459.9,116.9 L461.9,116.8 L463.9,116.8 L465.9,116.7 L467.9,116.7 L469.9,116.7 L471.9,116.7 L473.9,116.6 L475.9,116.6 L477.9,116.6 L479.9,116.6 L481.9,116.6 L483.9,116.6 L485.9,116.6 L487.9,116.6 L489.9,116.6 L491.9,116.6 L493.9,116.6 L495.9,116.6 L497.9,116.6 L499.9,116.6 L501.9,116.6 L503.9,116.6 L505.9,116.6 L507.9,116.6 L509.9,116.6 L511.9,116.6 L513.9,116.5 L515.9,116.5 L517.9,116.5 L519.9,116.5 L521.9,116.5 L523.9,116.5 L525.9,116.5 L527.9,116.5 L529.9,116.5 L531.9,116.5 L533.9,116.5 L535.9,116.5 L537.9,116.5 L539.9,116.5 L541.9,116.5 L543.9,116.5 L545.9,116.5 L547.9,116.5 L549.9,116.5 L551.9,116.4 L553.9,116.4 L555.9,116.4 L557.9,116.4 L559.9,116.4 L561.9,116.4 L563.9,116.4 L565.9,116.3 L567.9,116.3 L569.9,116.3 L571.9,116.3 L573.9,116.2 L575.9,116.2 L577.9,116.2 L579.9,116.1 L581.9,116.1 L583.9,116.0 L585.9,116.0 L587.9,115.9 L589.9,115.9 L590.7,115.8 L591.2,115.8 L591.7,115.7 L592.2,115.7 L592.7,115.6 L593.2,115.5 L593.7,115.4 L594.2,115.3 L594.7,115.2 L595.2,115.1 L595.7,115.0 L596.2,114.9 L596.7,114.8 L597.2,114.7 L597.7,114.7 L598.2,114.6 L598.7,114.5 L599.2,114.5 L599.7,114.4 L600.2,114.4 L600.7,114.4 L601.2,114.3 L601.7,114.3 L602.2,114.3 L602.7,114.3 L603.2,114.2 L603.7,114.2 L604.2,114.2 L604.7,114.2 L605.2,114.1 L605.7,114.1 L606.2,114.1 L606.7,114.1 L607.2,114.1 L607.7,114.0 L608.2,114.0 L608.7,114.0 L609.2,114.0 L609.7,114.0 L610.2,113.9 L610.7,113.9 L611.2,113.9 L611.7,113.9 L612.2,113.9 L612.7,113.9 L613.2,113.9 L613.7,113.8 L614.2,113.8 L614.7,113.8 L615.2,113.8 L615.7,113.8 L616.2,113.8 L616.7,113.8 L617.2,113.8 L617.7,113.8 L618.2,113.7 L618.7,113.7 L619.2,113.7 L619.7,113.7 L620.2,113.7 L620.7,113.7 L621.2,113.7 L621.7,113.7 L622.2,113.7 L622.7,113.7 L623.2,113.7 L623.7,113.7 L624.2,113.7 L624.7,113.7 L625.2,113.8 L625.7,113.8 L626.2,113.8 L626.7,113.8 L627.2,113.8 L627.7,113.8 L628.2,113.9 L628.7,113.9 L629.2,113.9 L629.7,113.9 L630.2,113.9 L630.7,114.0 L631.2,114.0 L631.7,114.0 L632.2,114.1 L632.7,114.1 L633.2,114.2 L633.7,114.2 L634.2,114.3 L634.7,114.4 L635.2,114.5 L635.7,114.5 L636.0,114.6 L636.3,114.6 L636.6,114.7 L636.9,114.8 L637.2,114.8 L637.5,114.9 L637.8,115.0 L638.1,115.0 L638.4,115.1 L638.7,115.2 L639.0,115.2 L639.3,115.3 L639.6,115.4 L639.9,115.5 L640.2,115.5 L640.5,115.6 L640.8,115.7 L641.1,115.8 L641.4,115.9 L641.7,116.0 L642.0,116.1 L642.3,116.2 L642.6,116.4 L642.9,116.5 L643.2,116.7 L643.5,116.8 L643.8,117.0 L644.1,117.2 L644.4,117.4 L644.7,117.6 L645.0,117.8 L645.3,118.0 L645.6,118.2 L645.9,118.5 L646.2,118.7 L646.5,119.0 L646.8,119.2 L647.1,119.5 L647.4,119.9 L647.7,120.2 L648.0,120.7 L648.3,121.2 L648.6,121.7 L648.9,122.3 L649.2,122.9 L649.5,123.6 L649.8,124.2 L650.1,124.9 L650.4,125.6 L650.7,126.4 L651.0,127.1 L651.3,127.9 L651.6,128.7 L651.9,129.5 L652.2,130.4 L652.5,131.4 L652.8,132.4 L653.1,133.4 L653.4,134.5 L653.7,135.6 L654.0,136.8 L654.3,138.0 L654.6,139.4 L654.9,140.8 L655.2,142.4 L655.5,143.9 L655.8,145.5 L656.1,147.0 L656.4,148.4 L656.7,149.8 L657.0,151.4 L657.3,153.5 L657.6,156.9 L657.9,161.9 L658.2,167.8 L658.5,174.3 L658.8,180.9 L659.1,187.0 L659.4,193.0 L659.7,199.3 L660.0,206.2 L660.3,213.9 L660.6,222.3 L660.9,231.1 L661.2,240.0 L661.5,249.0 L661.8,258.1 L662.1,267.4 L662.4,276.7 L662.7,280.0 L663.0,280.0 L663.3,280.0 L663.6,280.0 L663.9,280.0 L664.2,280.0 L664.5,280.0 L664.8,280.0 L665.1,280.0 L665.4,280.0 L665.7,280.0" fill="none" stroke="#fc8d62" stroke-opacity="0.75" stroke-width="0.9" stroke-linejoin="round"/>
<path d="M395.9,104.3 L397.9,104.4 L399.9,104.6 L401.9,104.8 L403.9,104.9 L405.9,105.1 L407.9,105.2 L409.9,105.4 L411.9,105.5 L413.9,105.7 L415.9,105.8 L417.9,106.0 L419.9,106.1 L421.9,106.3 L423.9,106.4 L425.9,106.5 L427.9,106.7 L429.9,106.8 L431.9,106.9 L433.9,107.0 L435.9,107.2 L437.9,107.3 L439.9,107.4 L441.9,107.6 L443.9,107.7 L445.9,107.8 L447.9,108.0 L449.9,108.1 L451.9,108.2 L453.9,108.3 L455.9,108.4 L457.9,108.5 L459.9,108.6 L461.9,108.7 L463.9,108.7 L465.9,108.8 L467.9,108.8 L469.9,108.9 L471.9,108.9 L473.9,108.9 L475.9,108.9 L477.9,108.9 L479.9,108.9 L481.9,108.9 L483.9,108.9 L485.9,108.9 L487.9,108.9 L489.9,108.9 L491.9,108.9 L493.9,108.9 L495.9,108.9 L497.9,108.9 L499.9,108.9 L501.9,108.9 L503.9,108.9 L505.9,108.9 L507.9,108.9 L509.9,108.9 L511.9,108.9 L513.9,108.9 L515.9,108.9 L517.9,108.9 L519.9,108.9 L521.9,108.9 L523.9,108.9 L525.9,109.0 L527.9,109.0 L529.9,109.0 L531.9,109.0 L533.9,109.0 L535.9,109.0 L537.9,109.0 L539.9,109.0 L541.9,109.0 L543.9,109.0 L545.9,109.0 L547.9,109.0 L549.9,109.0 L551.9,109.0 L553.9,109.1 L555.9,109.1 L557.9,109.2 L559.9,109.3 L561.9,109.4 L563.9,109.4 L565.9,109.5 L567.9,109.6 L569.9,109.7 L571.9,109.8 L573.9,109.9 L575.9,110.0 L577.9,110.1 L579.9,110.2 L581.9,110.2 L583.9,110.3 L585.9,110.3 L587.9,110.4 L589.9,110.4 L590.7,110.4 L591.2,110.4 L591.7,110.4 L592.2,110.4 L592.7,110.4 L593.2,110.4 L593.7,110.3 L594.2,110.3 L594.7,110.3 L595.2,110.3 L595.7,110.3 L596.2,110.3 L596.7,110.3 L597.2,110.2 L597.7,110.2 L598.2,110.2 L598.7,110.2 L599.2,110.1 L599.7,110.1 L600.2,110.1 L600.7,110.1 L601.2,110.0 L601.7,110.0 L602.2,110.0 L602.7,109.9 L603.2,109.9 L603.7,109.9 L604.2,109.8 L604.7,109.8 L605.2,109.8 L605.7,109.7 L606.2,109.7 L606.7,109.7 L607.2,109.6 L607.7,109.6 L608.2,109.6 L608.7,109.5 L609.2,109.5 L609.7,109.4 L610.2,109.4 L610.7,109.4 L611.2,109.3 L611.7,109.3 L612.2,109.3 L612.7,109.2 L613.2,109.2 L613.7,109.1 L614.2,109.1 L614.7,109.1 L615.2,109.0 L615.7,109.0 L616.2,108.9 L616.7,108.9 L617.2,108.8 L617.7,108.8 L618.2,108.7 L618.7,108.7 L619.2,108.6 L619.7,108.6 L620.2,108.5 L620.7,108.4 L621.2,108.4 L621.7,108.3 L622.2,108.3 L622.7,108.2 L623.2,108.1 L623.7,108.0 L624.2,108.0 L624.7,107.9 L625.2,107.8 L625.7,107.7 L626.2,107.6 L626.7,107.6 L627.2,107.5 L627.7,107.4 L628.2,107.3 L628.7,107.2 L629.2,107.1 L629.7,107.0 L630.2,106.8 L630.7,106.7 L631.2,106.6 L631.7,106.4 L632.2,106.2 L632.7,106.0 L633.2,105.8 L633.7,105.6 L634.2,105.4 L634.7,105.1 L635.2,104.9 L635.7,104.6 L636.0,104.4 L636.3,104.2 L636.6,104.0 L636.9,103.9 L637.2,103.7 L637.5,103.5 L637.8,103.3 L638.1,103.0 L638.4,102.8 L638.7,102.6 L639.0,102.4 L639.3,102.2 L639.6,101.9 L639.9,101.7 L640.2,101.4 L640.5,101.2 L640.8,100.9 L641.1,100.5 L641.4,100.2 L641.7,99.8 L642.0,99.4 L642.3,99.0 L642.6,98.6 L642.9,98.2 L643.2,97.7 L643.5,97.2 L643.8,96.7 L644.1,96.3 L644.4,95.8 L644.7,95.2 L645.0,94.7 L645.3,94.2 L645.6,93.7 L645.9,93.1 L646.2,92.6 L646.5,92.1 L646.8,91.6 L647.1,91.1 L647.4,90.5 L647.7,90.0 L648.0,89.4 L648.3,88.9 L648.6,88.2 L648.9,87.6 L649.2,86.9 L649.5,86.2 L649.8,85.4 L650.1,84.6 L650.4,83.7 L650.7,82.8 L651.0,81.7 L651.3,80.5 L651.6,79.1 L651.9,77.3 L652.2,75.4 L652.5,73.4 L652.8,71.2 L653.1,68.9 L653.4,66.7 L653.7,64.3 L654.0,61.8 L654.3,59.1 L654.6,56.2 L654.9,53.3 L655.2,50.4 L655.5,47.6 L655.8,44.9 L656.1,42.3 L656.4,39.8 L656.7,37.3 L657.0,34.8 L657.3,32.2 L657.6,29.4 L657.9,26.4 L658.2,23.2 L658.5,19.7 L658.8,15.7 L659.1,11.2 L659.4,6.2 L659.7,0.7 L660.0,-5.3 L660.3,-11.7 L660.6,-18.4 L660.9,-25.4 L661.2,-32.8 L661.5,-40.0 L661.8,-40.0 L662.1,-40.0 L662.4,-40.0 L662.7,-40.0 L663.0,-40.0 L663.3,-40.0 L663.6,-40.0 L663.9,-40.0 L664.2,-40.0 L664.5,-40.0 L664.8,-40.0 L665.1,-40.0 L665.4,-40.0 L665.7,-40.0 L665.7,280.0 L665.4,280.0 L665.1,280.0 L664.8,280.0 L664.5,280.0 L664.2,280.0 L663.9,280.0 L663.6,280.0 L663.3,280.0 L663.0,280.0 L662.7,280.0 L662.4,280.0 L662.1,280.0 L661.8,280.0 L661.5,280.0 L661.2,280.0 L660.9,274.1 L660.6,267.7 L660.3,261.3 L660.0,255.1 L659.7,248.9 L659.4,242.8 L659.1,236.7 L658.8,230.7 L658.5,224.8 L658.2,219.1 L657.9,213.6 L657.6,208.5 L657.3,203.7 L657.0,199.1 L656.7,194.6 L656.4,190.6 L656.1,186.9 L655.8,183.7 L655.5,180.8 L655.2,178.0 L654.9,175.5 L654.6,173.1 L654.3,170.9 L654.0,168.9 L653.7,167.0 L653.4,165.1 L653.1,163.2 L652.8,161.5 L652.5,159.8 L652.2,158.2 L651.9,156.8 L651.6,155.4 L651.3,154.3 L651.0,153.3 L650.7,152.4 L650.4,151.7 L650.1,151.1 L649.8,150.6 L649.5,150.1 L649.2,149.7 L648.9,149.2 L648.6,148.8 L648.3,148.3 L648.0,147.7 L647.7,147.0 L647.4,146.4 L647.1,145.7 L646.8,144.9 L646.5,144.1 L646.2,143.4 L645.9,142.6 L645.6,141.8 L645.3,141.0 L645.0,140.3 L644.7,139.6 L644.4,138.9 L644.1,138.3 L643.8,137.7 L643.5,137.1 L643.2,136.6 L642.9,136.0 L642.6,135.5 L642.3,135.0 L642.0,134.4 L641.7,133.9 L641.4,133.4 L641.1,133.0 L640.8,132.5 L640.5,132.1 L640.2,131.6 L639.9,131.3 L639.6,130.9 L639.3,130.5 L639.0,130.2 L638.7,129.9 L638.4,129.7 L638.1,129.4 L637.8,129.1 L637.5,128.9 L637.2,128.6 L636.9,128.4 L636.6,128.1 L636.3,127.9 L636.0,127.7 L635.7,127.5 L635.2,127.1 L634.7,126.8 L634.2,126.5 L633.7,126.2 L633.2,125.9 L632.7,125.6 L632.2,125.4 L631.7,125.1 L631.2,124.9 L630.7,124.6 L630.2,124.4 L629.7,124.2 L629.2,124.0 L628.7,123.8 L628.2,123.6 L627.7,123.4 L627.2,123.3 L626.7,123.1 L626.2,122.9 L625.7,122.8 L625.2,122.6 L624.7,122.5 L624.2,122.4 L623.7,122.2 L623.2,122.1 L622.7,122.0 L622.2,121.8 L621.7,121.7 L621.2,121.6 L620.7,121.4 L620.2,121.3 L619.7,121.2 L619.2,121.1 L618.7,120.9 L618.2,120.8 L617.7,120.7 L617.2,120.6 L616.7,120.5 L616.2,120.3 L615.7,120.2 L615.2,120.1 L614.7,120.0 L614.2,119.8 L613.7,119.7 L613.2,119.6 L612.7,119.5 L612.2,119.4 L611.7,119.3 L611.2,119.2 L610.7,119.0 L610.2,118.9 L609.7,118.8 L609.2,118.7 L608.7,118.6 L608.2,118.5 L607.7,118.4 L607.2,118.3 L606.7,118.2 L606.2,118.1 L605.7,118.0 L605.2,118.0 L604.7,117.9 L604.2,117.8 L603.7,117.7 L603.2,117.6 L602.7,117.6 L602.2,117.5 L601.7,117.4 L601.2,117.4 L600.7,117.3 L600.2,117.2 L599.7,117.2 L599.2,117.1 L598.7,117.1 L598.2,117.0 L597.7,117.0 L597.2,116.9 L596.7,116.9 L596.2,116.8 L595.7,116.8 L595.2,116.7 L594.7,116.7 L594.2,116.6 L593.7,116.6 L593.2,116.6 L592.7,116.5 L592.2,116.5 L591.7,116.5 L591.2,116.5 L590.7,116.4 L589.9,116.4 L587.9,116.4 L585.9,116.5 L583.9,116.5 L581.9,116.5 L579.9,116.5 L577.9,116.6 L575.9,116.6 L573.9,116.7 L571.9,116.7 L569.9,116.8 L567.9,116.8 L565.9,116.9 L563.9,116.9 L561.9,117.0 L559.9,117.0 L557.9,117.1 L555.9,117.1 L553.9,117.2 L551.9,117.2 L549.9,117.2 L547.9,117.2 L545.9,117.3 L543.9,117.3 L541.9,117.3 L539.9,117.3 L537.9,117.3 L535.9,117.3 L533.9,117.3 L531.9,117.3 L529.9,117.3 L527.9,117.3 L525.9,117.3 L523.9,117.3 L521.9,117.4 L519.9,117.4 L517.9,117.4 L515.9,117.4 L513.9,117.4 L511.9,117.4 L509.9,117.4 L507.9,117.4 L505.9,117.4 L503.9,117.4 L501.9,117.4 L499.9,117.4 L497.9,117.4 L495.9,117.4 L493.9,117.4 L491.9,117.4 L489.9,117.4 L487.9,117.4 L485.9,117.4 L483.9,117.5 L481.9,117.5 L479.9,117.5 L477.9,117.5 L475.9,117.5 L473.9,117.5 L471.9,117.5 L469.9,117.6 L467.9,117.6 L465.9,117.7 L463.9,117.8 L461.9,117.9 L459.9,118.0 L457.9,118.1 L455.9,118.2 L453.9,118.4 L451.9,118.6 L449.9,118.7 L447.9,118.9 L445.9,119.1 L443.9,119.3 L441.9,119.4 L439.9,119.6 L437.9,119.8 L435.9,120.0 L433.9,120.2 L431.9,120.4 L429.9,120.5 L427.9,120.7 L425.9,120.9 L423.9,121.0 L421.9,121.2 L419.9,121.4 L417.9,121.6 L415.9,121.8 L413.9,122.0 L411.9,122.2 L409.9,122.4 L407.9,122.6 L405.9,122.8 L403.9,123.0 L401.9,123.3 L399.9,123.5 L397.9,123.7 L395.9,123.9Z" fill="#8da0cb" fill-opacity="0.5" stroke="none"/>
<path d="M395.9,104.3 L397.9,104.4 L399.9,104.6 L401.9,104.8 L403.9,104.9 L405.9,105.1 L407.9,105.2 L409.9,105.4 L411.9,105.5 L413.9,105.7 L415.9,105.8 L417.9,106.0 L419.9,106.1 L421.9,106.3 L423.9,106.4 L425.9,106.5 L427.9,106.7 L429.9,106.8 L431.9,106.9 L433.9,107.0 L435.9,107.2 L437.9,107.3 L439.9,107.4 L441.9,107.6 L443.9,107.7 L445.9,107.8 L447.9,108.0 L449.9,108.1 L451.9,108.2 L453.9,108.3 L455.9,108.4 L457.9,108.5 L459.9,108.6 L461.9,108.7 L463.9,108.7 L465.9,108.8 L467.9,108.8 L469.9,108.9 L471.9,108.9 L473.9,108.9 L475.9,108.9 L477.9,108.9 L479.9,108.9 L481.9,108.9 L483.9,108.9 L485.9,108.9 L487.9,108.9 L489.9,108.9 L491.9,108.9 L493.9,108.9 L495.9,108.9 L497.9,108.9 L499.9,108.9 L501.9,108.9 L503.9,108.9 L505.9,108.9 L507.9,108.9 L509.9,108.9 L511.9,108.9 L513.9,108.9 L515.9,108.9 L517.9,108.9 L519.9,108.9 L521.9,108.9 L523.9,108.9 L525.9,109.0 L527.9,109.0 L529.9,109.0 L531.9,109.0 L533.9,109.0 L535.9,109.0 L537.9,109.0 L539.9,109.0 L541.9,109.0 L543.9,109.0 L545.9,109.0 L547.9,109.0 L549.9,109.0 L551.9,109.0 L553.9,109.1 L555.9,109.1 L557.9,109.2 L559.9,109.3 L561.9,109.4 L563.9,109.4 L565.9,109.5 L567.9,109.6 L569.9,109.7 L571.9,109.8 L573.9,109.9 L575.9,110.0 L577.9,110.1 L579.9,110.2 L581.9,110.2 L583.9,110.3 L585.9,110.3 L587.9,110.4 L589.9,110.4 L590.7,110.4 L591.2,110.4 L591.7,110.4 L592.2,110.4 L592.7,110.4 L593.2,110.4 L593.7,110.3 L594.2,110.3 L594.7,110.3 L595.2,110.3 L595.7,110.3 L596.2,110.3 L596.7,110.3 L597.2,110.2 L597.7,110.2 L598.2,110.2 L598.7,110.2 L599.2,110.1 L599.7,110.1 L600.2,110.1 L600.7,110.1 L601.2,110.0 L601.7,110.0 L602.2,110.0 L602.7,109.9 L603.2,109.9 L603.7,109.9 L604.2,109.8 L604.7,109.8 L605.2,109.8 L605.7,109.7 L606.2,109.7 L606.7,109.7 L607.2,109.6 L607.7,109.6 L608.2,109.6 L608.7,109.5 L609.2,109.5 L609.7,109.4 L610.2,109.4 L610.7,109.4 L611.2,109.3 L611.7,109.3 L612.2,109.3 L612.7,109.2 L613.2,109.2 L613.7,109.1 L614.2,109.1 L614.7,109.1 L615.2,109.0 L615.7,109.0 L616.2,108.9 L616.7,108.9 L617.2,108.8 L617.7,108.8 L618.2,108.7 L618.7,108.7 L619.2,108.6 L619.7,108.6 L620.2,108.5 L620.7,108.4 L621.2,108.4 L621.7,108.3 L622.2,108.3 L622.7,108.2 L623.2,108.1 L623.7,108.0 L624.2,108.0 L624.7,107.9 L625.2,107.8 L625.7,107.7 L626.2,107.6 L626.7,107.6 L627.2,107.5 L627.7,107.4 L628.2,107.3 L628.7,107.2 L629.2,107.1 L629.7,107.0 L630.2,106.8 L630.7,106.7 L631.2,106.6 L631.7,106.4 L632.2,106.2 L632.7,106.0 L633.2,105.8 L633.7,105.6 L634.2,105.4 L634.7,105.1 L635.2,104.9 L635.7,104.6 L636.0,104.4 L636.3,104.2 L636.6,104.0 L636.9,103.9 L637.2,103.7 L637.5,103.5 L637.8,103.3 L638.1,103.0 L638.4,102.8 L638.7,102.6 L639.0,102.4 L639.3,102.2 L639.6,101.9 L639.9,101.7 L640.2,101.4 L640.5,101.2 L640.8,100.9 L641.1,100.5 L641.4,100.2 L641.7,99.8 L642.0,99.4 L642.3,99.0 L642.6,98.6 L642.9,98.2 L643.2,97.7 L643.5,97.2 L643.8,96.7 L644.1,96.3 L644.4,95.8 L644.7,95.2 L645.0,94.7 L645.3,94.2 L645.6,93.7 L645.9,93.1 L646.2,92.6 L646.5,92.1 L646.8,91.6 L647.1,91.1 L647.4,90.5 L647.7,90.0 L648.0,89.4 L648.3,88.9 L648.6,88.2 L648.9,87.6 L649.2,86.9 L649.5,86.2 L649.8,85.4 L650.1,84.6 L650.4,83.7 L650.7,82.8 L651.0,81.7 L651.3,80.5 L651.6,79.1 L651.9,77.3 L652.2,75.4 L652.5,73.4 L652.8,71.2 L653.1,68.9 L653.4,66.7 L653.7,64.3 L654.0,61.8 L654.3,59.1 L654.6,56.2 L654.9,53.3 L655.2,50.4 L655.5,47.6 L655.8,44.9 L656.1,42.3 L656.4,39.8 L656.7,37.3 L657.0,34.8 L657.3,32.2 L657.6,29.4 L657.9,26.4 L658.2,23.2 L658.5,19.7 L658.8,15.7 L659.1,11.2 L659.4,6.2 L659.7,0.7 L660.0,-5.3 L660.3,-11.7 L660.6,-18.4 L660.9,-25.4 L661.2,-32.8 L661.5,-40.0 L661.8,-40.0 L662.1,-40.0 L662.4,-40.0 L662.7,-40.0 L663.0,-40.0 L663.3,-40.0 L663.6,-40.0 L663.9,-40.0 L664.2,-40.0 L664.5,-40.0 L664.8,-40.0 L665.1,-40.0 L665.4,-40.0 L665.7,-40.0 L665.7,280.0 L665.4,280.0 L665.1,280.0 L664.8,280.0 L664.5,280.0 L664.2,280.0 L663.9,280.0 L663.6,280.0 L663.3,280.0 L663.0,280.0 L662.7,280.0 L662.4,280.0 L662.1,280.0 L661.8,280.0 L661.5,280.0 L661.2,280.0 L660.9,274.1 L660.6,267.7 L660.3,261.3 L660.0,255.1 L659.7,248.9 L659.4,242.8 L659.1,236.7 L658.8,230.7 L658.5,224.8 L658.2,219.1 L657.9,213.6 L657.6,208.5 L657.3,203.7 L657.0,199.1 L656.7,194.6 L656.4,190.6 L656.1,186.9 L655.8,183.7 L655.5,180.8 L655.2,178.0 L654.9,175.5 L654.6,173.1 L654.3,170.9 L654.0,168.9 L653.7,167.0 L653.4,165.1 L653.1,163.2 L652.8,161.5 L652.5,159.8 L652.2,158.2 L651.9,156.8 L651.6,155.4 L651.3,154.3 L651.0,153.3 L650.7,152.4 L650.4,151.7 L650.1,151.1 L649.8,150.6 L649.5,150.1 L649.2,149.7 L648.9,149.2 L648.6,148.8 L648.3,148.3 L648.0,147.7 L647.7,147.0 L647.4,146.4 L647.1,145.7 L646.8,144.9 L646.5,144.1 L646.2,143.4 L645.9,142.6 L645.6,141.8 L645.3,141.0 L645.0,140.3 L644.7,139.6 L644.4,138.9 L644.1,138.3 L643.8,137.7 L643.5,137.1 L643.2,136.6 L642.9,136.0 L642.6,135.5 L642.3,135.0 L642.0,134.4 L641.7,133.9 L641.4,133.4 L641.1,133.0 L640.8,132.5 L640.5,132.1 L640.2,131.6 L639.9,131.3 L639.6,130.9 L639.3,130.5 L639.0,130.2 L638.7,129.9 L638.4,129.7 L638.1,129.4 L637.8,129.1 L637.5,128.9 L637.2,128.6 L636.9,128.4 L636.6,128.1 L636.3,127.9 L636.0,127.7 L635.7,127.5 L635.2,127.1 L634.7,126.8 L634.2,126.5 L633.7,126.2 L633.2,125.9 L632.7,125.6 L632.2,125.4 L631.7,125.1 L631.2,124.9 L630.7,124.6 L630.2,124.4 L629.7,124.2 L629.2,124.0 L628.7,123.8 L628.2,123.6 L627.7,123.4 L627.2,123.3 L626.7,123.1 L626.2,122.9 L625.7,122.8 L625.2,122.6 L624.7,122.5 L624.2,122.4 L623.7,122.2 L623.2,122.1 L622.7,122.0 L622.2,121.8 L621.7,121.7 L621.2,121.6 L620.7,121.4 L620.2,121.3 L619.7,121.2 L619.2,121.1 L618.7,120.9 L618.2,120.8 L617.7,120.7 L617.2,120.6 L616.7,120.5 L616.2,120.3 L615.7,120.2 L615.2,120.1 L614.7,120.0 L614.2,119.8 L613.7,119.7 L613.2,119.6 L612.7,119.5 L612.2,119.4 L611.7,119.3 L611.2,119.2 L610.7,119.0 L610.2,118.9 L609.7,118.8 L609.2,118.7 L608.7,118.6 L608.2,118.5 L607.7,118.4 L607.2,118.3 L606.7,118.2 L606.2,118.1 L605.7,118.0 L605.2,118.0 L604.7,117.9 L604.2,117.8 L603.7,117.7 L603.2,117.6 L602.7,117.6 L602.2,117.5 L601.7,117.4 L601.2,117.4 L600.7,117.3 L600.2,117.2 L599.7,117.2 L599.2,117.1 L598.7,117.1 L598.2,117.0 L597.7,117.0 L597.2,116.9 L596.7,116.9 L596.2,116.8 L595.7,116.8 L595.2,116.7 L594.7,116.7 L594.2,116.6 L593.7,116.6 L593.2,116.6 L592.7,116.5 L592.2,116.5 L591.7,116.5 L591.2,116.5 L590.7,116.4 L589.9,116.4 L587.9,116.4 L585.9,116.5 L583.9,116.5 L581.9,116.5 L579.9,116.5 L577.9,116.6 L575.9,116.6 L573.9,116.7 L571.9,116.7 L569.9,116.8 L567.9,116.8 L565.9,116.9 L563.9,116.9 L561.9,117.0 L559.9,117.0 L557.9,117.1 L555.9,117.1 L553.9,117.2 L551.9,117.2 L549.9,117.2 L547.9,117.2 L545.9,117.3 L543.9,117.3 L541.9,117.3 L539.9,117.3 L537.9,117.3 L535.9,117.3 L533.9,117.3 L531.9,117.3 L529.9,117.3 L527.9,117.3 L525.9,117.3 L523.9,117.3 L521.9,117.4 L519.9,117.4 L517.9,117.4 L515.9,117.4 L513.9,117.4 L511.9,117.4 L509.9,117.4 L507.9,117.4 L505.9,117.4 L503.9,117.4 L501.9,117.4 L499.9,117.4 L497.9,117.4 L495.9,117.4 L493.9,117.4 L491.9,117.4 L489.9,117.4 L487.9,117.4 L485.9,117.4 L483.9,117.5 L481.9,117.5 L479.9,117.5 L477.9,117.5 L475.9,117.5 L473.9,117.5 L471.9,117.5 L469.9,117.6 L467.9,117.6 L465.9,117.7 L463.9,117.8 L461.9,117.9 L459.9,118.0 L457.9,118.1 L455.9,118.2 L453.9,118.4 L451.9,118.6 L449.9,118.7 L447.9,118.9 L445.9,119.1 L443.9,119.3 L441.9,119.4 L439.9,119.6 L437.9,119.8 L435.9,120.0 L433.9,120.2 L431.9,120.4 L429.9,120.5 L427.9,120.7 L425.9,120.9 L423.9,121.0 L421.9,121.2 L419.9,121.4 L417.9,121.6 L415.9,121.8 L413.9,122.0 L411.9,122.2 L409.9,122.4 L407.9,122.6 L405.9,122.8 L403.9,123.0 L401.9,123.3 L399.9,123.5 L397.9,123.7 L395.9,123.9Z" fill="url(#hb)" stroke="none"/>
<path d="M395.9,104.3 L397.9,104.4 L399.9,104.6 L401.9,104.8 L403.9,104.9 L405.9,105.1 L407.9,105.2 L409.9,105.4 L411.9,105.5 L413.9,105.7 L415.9,105.8 L417.9,106.0 L419.9,106.1 L421.9,106.3 L423.9,106.4 L425.9,106.5 L427.9,106.7 L429.9,106.8 L431.9,106.9 L433.9,107.0 L435.9,107.2 L437.9,107.3 L439.9,107.4 L441.9,107.6 L443.9,107.7 L445.9,107.8 L447.9,108.0 L449.9,108.1 L451.9,108.2 L453.9,108.3 L455.9,108.4 L457.9,108.5 L459.9,108.6 L461.9,108.7 L463.9,108.7 L465.9,108.8 L467.9,108.8 L469.9,108.9 L471.9,108.9 L473.9,108.9 L475.9,108.9 L477.9,108.9 L479.9,108.9 L481.9,108.9 L483.9,108.9 L485.9,108.9 L487.9,108.9 L489.9,108.9 L491.9,108.9 L493.9,108.9 L495.9,108.9 L497.9,108.9 L499.9,108.9 L501.9,108.9 L503.9,108.9 L505.9,108.9 L507.9,108.9 L509.9,108.9 L511.9,108.9 L513.9,108.9 L515.9,108.9 L517.9,108.9 L519.9,108.9 L521.9,108.9 L523.9,108.9 L525.9,109.0 L527.9,109.0 L529.9,109.0 L531.9,109.0 L533.9,109.0 L535.9,109.0 L537.9,109.0 L539.9,109.0 L541.9,109.0 L543.9,109.0 L545.9,109.0 L547.9,109.0 L549.9,109.0 L551.9,109.0 L553.9,109.1 L555.9,109.1 L557.9,109.2 L559.9,109.3 L561.9,109.4 L563.9,109.4 L565.9,109.5 L567.9,109.6 L569.9,109.7 L571.9,109.8 L573.9,109.9 L575.9,110.0 L577.9,110.1 L579.9,110.2 L581.9,110.2 L583.9,110.3 L585.9,110.3 L587.9,110.4 L589.9,110.4 L590.7,110.4 L591.2,110.4 L591.7,110.4 L592.2,110.4 L592.7,110.4 L593.2,110.4 L593.7,110.3 L594.2,110.3 L594.7,110.3 L595.2,110.3 L595.7,110.3 L596.2,110.3 L596.7,110.3 L597.2,110.2 L597.7,110.2 L598.2,110.2 L598.7,110.2 L599.2,110.1 L599.7,110.1 L600.2,110.1 L600.7,110.1 L601.2,110.0 L601.7,110.0 L602.2,110.0 L602.7,109.9 L603.2,109.9 L603.7,109.9 L604.2,109.8 L604.7,109.8 L605.2,109.8 L605.7,109.7 L606.2,109.7 L606.7,109.7 L607.2,109.6 L607.7,109.6 L608.2,109.6 L608.7,109.5 L609.2,109.5 L609.7,109.4 L610.2,109.4 L610.7,109.4 L611.2,109.3 L611.7,109.3 L612.2,109.3 L612.7,109.2 L613.2,109.2 L613.7,109.1 L614.2,109.1 L614.7,109.1 L615.2,109.0 L615.7,109.0 L616.2,108.9 L616.7,108.9 L617.2,108.8 L617.7,108.8 L618.2,108.7 L618.7,108.7 L619.2,108.6 L619.7,108.6 L620.2,108.5 L620.7,108.4 L621.2,108.4 L621.7,108.3 L622.2,108.3 L622.7,108.2 L623.2,108.1 L623.7,108.0 L624.2,108.0 L624.7,107.9 L625.2,107.8 L625.7,107.7 L626.2,107.6 L626.7,107.6 L627.2,107.5 L627.7,107.4 L628.2,107.3 L628.7,107.2 L629.2,107.1 L629.7,107.0 L630.2,106.8 L630.7,106.7 L631.2,106.6 L631.7,106.4 L632.2,106.2 L632.7,106.0 L633.2,105.8 L633.7,105.6 L634.2,105.4 L634.7,105.1 L635.2,104.9 L635.7,104.6 L636.0,104.4 L636.3,104.2 L636.6,104.0 L636.9,103.9 L637.2,103.7 L637.5,103.5 L637.8,103.3 L638.1,103.0 L638.4,102.8 L638.7,102.6 L639.0,102.4 L639.3,102.2 L639.6,101.9 L639.9,101.7 L640.2,101.4 L640.5,101.2 L640.8,100.9 L641.1,100.5 L641.4,100.2 L641.7,99.8 L642.0,99.4 L642.3,99.0 L642.6,98.6 L642.9,98.2 L643.2,97.7 L643.5,97.2 L643.8,96.7 L644.1,96.3 L644.4,95.8 L644.7,95.2 L645.0,94.7 L645.3,94.2 L645.6,93.7 L645.9,93.1 L646.2,92.6 L646.5,92.1 L646.8,91.6 L647.1,91.1 L647.4,90.5 L647.7,90.0 L648.0,89.4 L648.3,88.9 L648.6,88.2 L648.9,87.6 L649.2,86.9 L649.5,86.2 L649.8,85.4 L650.1,84.6 L650.4,83.7 L650.7,82.8 L651.0,81.7 L651.3,80.5 L651.6,79.1 L651.9,77.3 L652.2,75.4 L652.5,73.4 L652.8,71.2 L653.1,68.9 L653.4,66.7 L653.7,64.3 L654.0,61.8 L654.3,59.1 L654.6,56.2 L654.9,53.3 L655.2,50.4 L655.5,47.6 L655.8,44.9 L656.1,42.3 L656.4,39.8 L656.7,37.3 L657.0,34.8 L657.3,32.2 L657.6,29.4 L657.9,26.4 L658.2,23.2 L658.5,19.7 L658.8,15.7 L659.1,11.2 L659.4,6.2 L659.7,0.7 L660.0,-5.3 L660.3,-11.7 L660.6,-18.4 L660.9,-25.4 L661.2,-32.8 L661.5,-40.0 L661.8,-40.0 L662.1,-40.0 L662.4,-40.0 L662.7,-40.0 L663.0,-40.0 L663.3,-40.0 L663.6,-40.0 L663.9,-40.0 L664.2,-40.0 L664.5,-40.0 L664.8,-40.0 L665.1,-40.0 L665.4,-40.0 L665.7,-40.0 M395.9,123.9 L397.9,123.7 L399.9,123.5 L401.9,123.3 L403.9,123.0 L405.9,122.8 L407.9,122.6 L409.9,122.4 L411.9,122.2 L413.9,122.0 L415.9,121.8 L417.9,121.6 L419.9,121.4 L421.9,121.2 L423.9,121.0 L425.9,120.9 L427.9,120.7 L429.9,120.5 L431.9,120.4 L433.9,120.2 L435.9,120.0 L437.9,119.8 L439.9,119.6 L441.9,119.4 L443.9,119.3 L445.9,119.1 L447.9,118.9 L449.9,118.7 L451.9,118.6 L453.9,118.4 L455.9,118.2 L457.9,118.1 L459.9,118.0 L461.9,117.9 L463.9,117.8 L465.9,117.7 L467.9,117.6 L469.9,117.6 L471.9,117.5 L473.9,117.5 L475.9,117.5 L477.9,117.5 L479.9,117.5 L481.9,117.5 L483.9,117.5 L485.9,117.4 L487.9,117.4 L489.9,117.4 L491.9,117.4 L493.9,117.4 L495.9,117.4 L497.9,117.4 L499.9,117.4 L501.9,117.4 L503.9,117.4 L505.9,117.4 L507.9,117.4 L509.9,117.4 L511.9,117.4 L513.9,117.4 L515.9,117.4 L517.9,117.4 L519.9,117.4 L521.9,117.4 L523.9,117.3 L525.9,117.3 L527.9,117.3 L529.9,117.3 L531.9,117.3 L533.9,117.3 L535.9,117.3 L537.9,117.3 L539.9,117.3 L541.9,117.3 L543.9,117.3 L545.9,117.3 L547.9,117.2 L549.9,117.2 L551.9,117.2 L553.9,117.2 L555.9,117.1 L557.9,117.1 L559.9,117.0 L561.9,117.0 L563.9,116.9 L565.9,116.9 L567.9,116.8 L569.9,116.8 L571.9,116.7 L573.9,116.7 L575.9,116.6 L577.9,116.6 L579.9,116.5 L581.9,116.5 L583.9,116.5 L585.9,116.5 L587.9,116.4 L589.9,116.4 L590.7,116.4 L591.2,116.5 L591.7,116.5 L592.2,116.5 L592.7,116.5 L593.2,116.6 L593.7,116.6 L594.2,116.6 L594.7,116.7 L595.2,116.7 L595.7,116.8 L596.2,116.8 L596.7,116.9 L597.2,116.9 L597.7,117.0 L598.2,117.0 L598.7,117.1 L599.2,117.1 L599.7,117.2 L600.2,117.2 L600.7,117.3 L601.2,117.4 L601.7,117.4 L602.2,117.5 L602.7,117.6 L603.2,117.6 L603.7,117.7 L604.2,117.8 L604.7,117.9 L605.2,118.0 L605.7,118.0 L606.2,118.1 L606.7,118.2 L607.2,118.3 L607.7,118.4 L608.2,118.5 L608.7,118.6 L609.2,118.7 L609.7,118.8 L610.2,118.9 L610.7,119.0 L611.2,119.2 L611.7,119.3 L612.2,119.4 L612.7,119.5 L613.2,119.6 L613.7,119.7 L614.2,119.8 L614.7,120.0 L615.2,120.1 L615.7,120.2 L616.2,120.3 L616.7,120.5 L617.2,120.6 L617.7,120.7 L618.2,120.8 L618.7,120.9 L619.2,121.1 L619.7,121.2 L620.2,121.3 L620.7,121.4 L621.2,121.6 L621.7,121.7 L622.2,121.8 L622.7,122.0 L623.2,122.1 L623.7,122.2 L624.2,122.4 L624.7,122.5 L625.2,122.6 L625.7,122.8 L626.2,122.9 L626.7,123.1 L627.2,123.3 L627.7,123.4 L628.2,123.6 L628.7,123.8 L629.2,124.0 L629.7,124.2 L630.2,124.4 L630.7,124.6 L631.2,124.9 L631.7,125.1 L632.2,125.4 L632.7,125.6 L633.2,125.9 L633.7,126.2 L634.2,126.5 L634.7,126.8 L635.2,127.1 L635.7,127.5 L636.0,127.7 L636.3,127.9 L636.6,128.1 L636.9,128.4 L637.2,128.6 L637.5,128.9 L637.8,129.1 L638.1,129.4 L638.4,129.7 L638.7,129.9 L639.0,130.2 L639.3,130.5 L639.6,130.9 L639.9,131.3 L640.2,131.6 L640.5,132.1 L640.8,132.5 L641.1,133.0 L641.4,133.4 L641.7,133.9 L642.0,134.4 L642.3,135.0 L642.6,135.5 L642.9,136.0 L643.2,136.6 L643.5,137.1 L643.8,137.7 L644.1,138.3 L644.4,138.9 L644.7,139.6 L645.0,140.3 L645.3,141.0 L645.6,141.8 L645.9,142.6 L646.2,143.4 L646.5,144.1 L646.8,144.9 L647.1,145.7 L647.4,146.4 L647.7,147.0 L648.0,147.7 L648.3,148.3 L648.6,148.8 L648.9,149.2 L649.2,149.7 L649.5,150.1 L649.8,150.6 L650.1,151.1 L650.4,151.7 L650.7,152.4 L651.0,153.3 L651.3,154.3 L651.6,155.4 L651.9,156.8 L652.2,158.2 L652.5,159.8 L652.8,161.5 L653.1,163.2 L653.4,165.1 L653.7,167.0 L654.0,168.9 L654.3,170.9 L654.6,173.1 L654.9,175.5 L655.2,178.0 L655.5,180.8 L655.8,183.7 L656.1,186.9 L656.4,190.6 L656.7,194.6 L657.0,199.1 L657.3,203.7 L657.6,208.5 L657.9,213.6 L658.2,219.1 L658.5,224.8 L658.8,230.7 L659.1,236.7 L659.4,242.8 L659.7,248.9 L660.0,255.1 L660.3,261.3 L660.6,267.7 L660.9,274.1 L661.2,280.0 L661.5,280.0 L661.8,280.0 L662.1,280.0 L662.4,280.0 L662.7,280.0 L663.0,280.0 L663.3,280.0 L663.6,280.0 L663.9,280.0 L664.2,280.0 L664.5,280.0 L664.8,280.0 L665.1,280.0 L665.4,280.0 L665.7,280.0" fill="none" stroke="#8da0cb" stroke-opacity="0.75" stroke-width="0.9" stroke-linejoin="round"/>
<path d="M395.9,113.6 L397.9,113.6 L399.9,113.6 L401.9,113.6 L403.9,113.6 L405.9,113.6 L407.9,113.6 L409.9,113.6 L411.9,113.6 L413.9,113.6 L415.9,113.6 L417.9,113.6 L419.9,113.6 L421.9,113.6 L423.9,113.6 L425.9,113.6 L427.9,113.6 L429.9,113.6 L431.9,113.6 L433.9,113.6 L435.9,113.6 L437.9,113.6 L439.9,113.6 L441.9,113.6 L443.9,113.6 L445.9,113.6 L447.9,113.6 L449.9,113.6 L451.9,113.6 L453.9,113.6 L455.9,113.6 L457.9,113.6 L459.9,113.6 L461.9,113.6 L463.9,113.6 L465.9,113.6 L467.9,113.6 L469.9,113.6 L471.9,113.6 L473.9,113.6 L475.9,113.6 L477.9,113.6 L479.9,113.6 L481.9,113.6 L483.9,113.6 L485.9,113.6 L487.9,113.6 L489.9,113.6 L491.9,113.6 L493.9,113.6 L495.9,113.6 L497.9,113.6 L499.9,113.6 L501.9,113.6 L503.9,113.6 L505.9,113.6 L507.9,113.6 L509.9,113.6 L511.9,113.6 L513.9,113.6 L515.9,113.6 L517.9,113.6 L519.9,113.6 L521.9,113.6 L523.9,113.6 L525.9,113.6 L527.9,113.6 L529.9,113.6 L531.9,113.6 L533.9,113.6 L535.9,113.6 L537.9,113.6 L539.9,113.6 L541.9,113.6 L543.9,113.6 L545.9,113.6 L547.9,113.6 L549.9,113.6 L551.9,113.6 L553.9,113.6 L555.9,113.6 L557.9,113.6 L559.9,113.6 L561.9,113.6 L563.9,113.6 L565.9,113.6 L567.9,113.6 L569.9,113.6 L571.9,113.6 L573.9,113.6 L575.9,113.6 L577.9,113.6 L579.9,113.6 L581.9,113.6 L583.9,113.6 L585.9,113.6 L587.9,113.6 L589.9,113.6 L590.7,113.6 L591.2,113.6 L591.7,113.6 L592.2,113.6 L592.7,113.6 L593.2,113.6 L593.7,113.6 L594.2,113.6 L594.7,113.6 L595.2,113.6 L595.7,113.6 L596.2,113.6 L596.7,113.6 L597.2,113.6 L597.7,113.6 L598.2,113.6 L598.7,113.6 L599.2,113.6 L599.7,113.6 L600.2,113.6 L600.7,113.6 L601.2,113.6 L601.7,113.6 L602.2,113.6 L602.7,113.6 L603.2,113.6 L603.7,113.6 L604.2,113.6 L604.7,113.6 L605.2,113.6 L605.7,113.6 L606.2,113.6 L606.7,113.6 L607.2,113.6 L607.7,113.6 L608.2,113.6 L608.7,113.6 L609.2,113.6 L609.7,113.6 L610.2,113.6 L610.7,113.6 L611.2,113.6 L611.7,113.6 L612.2,113.6 L612.7,113.6 L613.2,113.6 L613.7,113.6 L614.2,113.6 L614.7,113.6 L615.2,113.6 L615.7,113.6 L616.2,113.6 L616.7,113.6 L617.2,113.6 L617.7,113.6 L618.2,113.6 L618.7,113.6 L619.2,113.6 L619.7,113.6 L620.2,113.6 L620.7,113.6 L621.2,113.6 L621.7,113.6 L622.2,113.6 L622.7,113.6 L623.2,113.6 L623.7,113.6 L624.2,113.6 L624.7,113.6 L625.2,113.6 L625.7,113.6 L626.2,113.6 L626.7,113.6 L627.2,113.6 L627.7,113.6 L628.2,113.6 L628.7,113.6 L629.2,113.6 L629.7,113.6 L630.2,113.6 L630.7,113.6 L631.2,113.6 L631.7,113.6 L632.2,113.6 L632.7,113.6 L633.2,113.6 L633.7,113.6 L634.2,113.6 L634.7,113.6 L635.2,113.6 L635.7,113.6 L636.0,113.6 L636.3,113.6 L636.6,113.6 L636.9,113.6 L637.2,113.6 L637.5,113.6 L637.8,113.6 L638.1,113.6 L638.4,113.6 L638.7,113.6 L639.0,113.6 L639.3,113.6 L639.6,113.6 L639.9,113.6 L640.2,113.6 L640.5,113.6 L640.8,113.6 L641.1,113.6 L641.4,113.6 L641.7,113.6 L642.0,113.6 L642.3,113.6 L642.6,113.6 L642.9,113.6 L643.2,113.6 L643.5,113.6 L643.8,113.6 L644.1,113.6 L644.4,113.6 L644.7,113.6 L645.0,113.6 L645.3,113.6 L645.6,113.6 L645.9,113.6 L646.2,113.6 L646.5,113.6 L646.8,113.6 L647.1,113.6 L647.4,113.6 L647.7,113.6 L648.0,113.6 L648.3,113.6 L648.6,113.6 L648.9,113.6 L649.2,113.6 L649.5,113.6 L649.8,113.6 L650.1,113.6 L650.4,113.6 L650.7,113.6 L651.0,113.6 L651.3,113.6 L651.6,113.6 L651.9,113.6 L652.2,113.6 L652.5,113.6 L652.8,113.6 L653.1,113.6 L653.4,113.6 L653.7,113.6 L654.0,113.6 L654.3,113.6 L654.6,113.6 L654.9,113.6 L655.2,113.6 L655.5,113.6 L655.8,113.6 L656.1,113.6 L656.4,113.6 L656.7,113.6 L657.0,113.6 L657.3,113.6 L657.6,113.6 L657.9,113.6 L658.2,113.6 L658.5,113.6 L658.8,113.6 L659.1,113.6 L659.4,113.6 L659.7,113.6 L660.0,113.6 L660.3,113.6 L660.6,113.6 L660.9,113.6 L661.2,113.6 L661.5,113.6 L661.8,113.6 L662.1,113.6 L662.4,113.6 L662.7,113.6 L663.0,113.6 L663.3,113.6 L663.6,113.6 L663.9,113.6 L664.2,113.6 L664.5,113.6 L664.8,113.6 L665.1,113.6 L665.4,113.6 L665.7,113.6" fill="none" stroke="#66c2a5" stroke-width="1.7"/>
<path d="M395.9,105.5 L397.9,105.7 L399.9,105.8 L401.9,106.0 L403.9,106.1 L405.9,106.3 L407.9,106.4 L409.9,106.5 L411.9,106.7 L413.9,106.8 L415.9,106.9 L417.9,107.1 L419.9,107.2 L421.9,107.3 L423.9,107.4 L425.9,107.5 L427.9,107.6 L429.9,107.7 L431.9,107.8 L433.9,107.9 L435.9,108.0 L437.9,108.1 L439.9,108.2 L441.9,108.3 L443.9,108.3 L445.9,108.4 L447.9,108.5 L449.9,108.6 L451.9,108.7 L453.9,108.8 L455.9,108.8 L457.9,108.9 L459.9,109.0 L461.9,109.0 L463.9,109.1 L465.9,109.1 L467.9,109.2 L469.9,109.2 L471.9,109.2 L473.9,109.2 L475.9,109.2 L477.9,109.2 L479.9,109.3 L481.9,109.3 L483.9,109.3 L485.9,109.3 L487.9,109.3 L489.9,109.3 L491.9,109.3 L493.9,109.3 L495.9,109.3 L497.9,109.3 L499.9,109.3 L501.9,109.3 L503.9,109.3 L505.9,109.3 L507.9,109.3 L509.9,109.4 L511.9,109.4 L513.9,109.4 L515.9,109.4 L517.9,109.4 L519.9,109.4 L521.9,109.4 L523.9,109.4 L525.9,109.4 L527.9,109.4 L529.9,109.4 L531.9,109.4 L533.9,109.4 L535.9,109.4 L537.9,109.4 L539.9,109.4 L541.9,109.5 L543.9,109.5 L545.9,109.5 L547.9,109.5 L549.9,109.5 L551.9,109.5 L553.9,109.6 L555.9,109.6 L557.9,109.7 L559.9,109.7 L561.9,109.8 L563.9,109.9 L565.9,109.9 L567.9,110.0 L569.9,110.1 L571.9,110.1 L573.9,110.2 L575.9,110.3 L577.9,110.3 L579.9,110.4 L581.9,110.4 L583.9,110.4 L585.9,110.5 L587.9,110.5 L589.9,110.5 L590.7,110.5 L591.2,110.5 L591.7,110.5 L592.2,110.5 L592.7,110.5 L593.2,110.4 L593.7,110.4 L594.2,110.4 L594.7,110.4 L595.2,110.3 L595.7,110.3 L596.2,110.3 L596.7,110.2 L597.2,110.2 L597.7,110.2 L598.2,110.1 L598.7,110.1 L599.2,110.0 L599.7,110.0 L600.2,109.9 L600.7,109.9 L601.2,109.8 L601.7,109.8 L602.2,109.7 L602.7,109.7 L603.2,109.6 L603.7,109.5 L604.2,109.5 L604.7,109.4 L605.2,109.4 L605.7,109.3 L606.2,109.2 L606.7,109.2 L607.2,109.1 L607.7,109.1 L608.2,109.0 L608.7,108.9 L609.2,108.9 L609.7,108.8 L610.2,108.7 L610.7,108.7 L611.2,108.6 L611.7,108.5 L612.2,108.5 L612.7,108.4 L613.2,108.3 L613.7,108.3 L614.2,108.2 L614.7,108.1 L615.2,108.0 L615.7,107.9 L616.2,107.8 L616.7,107.8 L617.2,107.7 L617.7,107.6 L618.2,107.5 L618.7,107.4 L619.2,107.3 L619.7,107.2 L620.2,107.1 L620.7,106.9 L621.2,106.8 L621.7,106.7 L622.2,106.6 L622.7,106.5 L623.2,106.4 L623.7,106.3 L624.2,106.2 L624.7,106.1 L625.2,106.0 L625.7,105.8 L626.2,105.7 L626.7,105.6 L627.2,105.5 L627.7,105.4 L628.2,105.4 L628.7,105.3 L629.2,105.2 L629.7,105.1 L630.2,105.0 L630.7,104.8 L631.2,104.7 L631.7,104.6 L632.2,104.5 L632.7,104.4 L633.2,104.2 L633.7,104.1 L634.2,103.9 L634.7,103.7 L635.2,103.5 L635.7,103.3 L636.0,103.2 L636.3,103.1 L636.6,102.9 L636.9,102.8 L637.2,102.6 L637.5,102.4 L637.8,102.2 L638.1,101.9 L638.4,101.6 L638.7,101.3 L639.0,100.9 L639.3,100.6 L639.6,100.2 L639.9,99.7 L640.2,99.3 L640.5,98.8 L640.8,98.4 L641.1,97.9 L641.4,97.3 L641.7,96.8 L642.0,96.3 L642.3,95.7 L642.6,95.2 L642.9,94.6 L643.2,94.0 L643.5,93.4 L643.8,92.8 L644.1,92.2 L644.4,91.6 L644.7,91.0 L645.0,90.4 L645.3,89.8 L645.6,89.1 L645.9,88.4 L646.2,87.6 L646.5,86.9 L646.8,86.1 L647.1,85.3 L647.4,84.4 L647.7,83.5 L648.0,82.6 L648.3,81.7 L648.6,80.7 L648.9,79.8 L649.2,78.7 L649.5,77.7 L649.8,76.7 L650.1,75.6 L650.4,74.5 L650.7,73.3 L651.0,72.2 L651.3,71.0 L651.6,69.8 L651.9,68.6 L652.2,67.2 L652.5,65.8 L652.8,64.2 L653.1,62.5 L653.4,60.7 L653.7,58.5 L654.0,55.8 L654.3,52.7 L654.6,49.4 L654.9,46.1 L655.2,42.8 L655.5,39.5 L655.8,36.1 L656.1,32.6 L656.4,29.0 L656.7,25.3 L657.0,21.4 L657.3,17.4 L657.6,13.2 L657.9,8.8 L658.2,4.1 L658.5,-0.8 L658.8,-6.2 L659.1,-12.0 L659.4,-18.0 L659.7,-24.3 L660.0,-30.8 L660.3,-37.5 L660.6,-40.0 L660.9,-40.0 L661.2,-40.0 L661.5,-40.0 L661.8,-40.0 L662.1,-40.0 L662.4,-40.0 L662.7,-40.0 L663.0,-40.0 L663.3,-40.0 L663.6,-40.0 L663.9,-40.0 L664.2,-40.0 L664.5,-40.0 L664.8,-40.0 L665.1,-40.0 L665.4,-40.0 L665.7,-40.0" fill="none" stroke="#66c2a5" stroke-width="1.45" stroke-dasharray="5 2.2"/>
<path d="M395.9,121.8 L397.9,121.6 L399.9,121.5 L401.9,121.4 L403.9,121.2 L405.9,121.1 L407.9,121.0 L409.9,120.8 L411.9,120.7 L413.9,120.6 L415.9,120.5 L417.9,120.3 L419.9,120.2 L421.9,120.1 L423.9,120.0 L425.9,119.8 L427.9,119.7 L429.9,119.6 L431.9,119.5 L433.9,119.4 L435.9,119.2 L437.9,119.1 L439.9,119.0 L441.9,118.8 L443.9,118.7 L445.9,118.5 L447.9,118.4 L449.9,118.3 L451.9,118.1 L453.9,118.0 L455.9,117.9 L457.9,117.8 L459.9,117.7 L461.9,117.6 L463.9,117.5 L465.9,117.4 L467.9,117.4 L469.9,117.3 L471.9,117.3 L473.9,117.3 L475.9,117.3 L477.9,117.3 L479.9,117.2 L481.9,117.2 L483.9,117.2 L485.9,117.2 L487.9,117.2 L489.9,117.2 L491.9,117.2 L493.9,117.2 L495.9,117.2 L497.9,117.2 L499.9,117.2 L501.9,117.2 L503.9,117.1 L505.9,117.1 L507.9,117.1 L509.9,117.1 L511.9,117.1 L513.9,117.1 L515.9,117.1 L517.9,117.1 L519.9,117.1 L521.9,117.1 L523.9,117.1 L525.9,117.1 L527.9,117.1 L529.9,117.1 L531.9,117.1 L533.9,117.1 L535.9,117.1 L537.9,117.1 L539.9,117.0 L541.9,117.0 L543.9,117.0 L545.9,117.0 L547.9,117.0 L549.9,117.0 L551.9,117.0 L553.9,116.9 L555.9,116.9 L557.9,116.9 L559.9,116.9 L561.9,116.8 L563.9,116.8 L565.9,116.8 L567.9,116.7 L569.9,116.7 L571.9,116.7 L573.9,116.6 L575.9,116.6 L577.9,116.6 L579.9,116.6 L581.9,116.5 L583.9,116.5 L585.9,116.5 L587.9,116.5 L589.9,116.5 L590.7,116.5 L591.2,116.5 L591.7,116.5 L592.2,116.5 L592.7,116.6 L593.2,116.6 L593.7,116.6 L594.2,116.6 L594.7,116.6 L595.2,116.7 L595.7,116.7 L596.2,116.7 L596.7,116.8 L597.2,116.8 L597.7,116.8 L598.2,116.9 L598.7,116.9 L599.2,116.9 L599.7,117.0 L600.2,117.0 L600.7,117.1 L601.2,117.1 L601.7,117.1 L602.2,117.2 L602.7,117.2 L603.2,117.3 L603.7,117.3 L604.2,117.4 L604.7,117.5 L605.2,117.5 L605.7,117.6 L606.2,117.6 L606.7,117.7 L607.2,117.8 L607.7,117.9 L608.2,117.9 L608.7,118.0 L609.2,118.1 L609.7,118.2 L610.2,118.2 L610.7,118.3 L611.2,118.4 L611.7,118.5 L612.2,118.6 L612.7,118.7 L613.2,118.8 L613.7,118.9 L614.2,119.0 L614.7,119.1 L615.2,119.1 L615.7,119.2 L616.2,119.3 L616.7,119.4 L617.2,119.5 L617.7,119.6 L618.2,119.7 L618.7,119.8 L619.2,120.0 L619.7,120.1 L620.2,120.2 L620.7,120.3 L621.2,120.4 L621.7,120.5 L622.2,120.6 L622.7,120.7 L623.2,120.8 L623.7,121.0 L624.2,121.1 L624.7,121.2 L625.2,121.3 L625.7,121.5 L626.2,121.6 L626.7,121.8 L627.2,121.9 L627.7,122.1 L628.2,122.3 L628.7,122.5 L629.2,122.6 L629.7,122.8 L630.2,123.0 L630.7,123.2 L631.2,123.5 L631.7,123.7 L632.2,123.9 L632.7,124.2 L633.2,124.5 L633.7,124.7 L634.2,125.0 L634.7,125.3 L635.2,125.7 L635.7,126.0 L636.0,126.2 L636.3,126.4 L636.6,126.7 L636.9,126.9 L637.2,127.1 L637.5,127.4 L637.8,127.6 L638.1,127.9 L638.4,128.1 L638.7,128.4 L639.0,128.7 L639.3,129.0 L639.6,129.4 L639.9,129.7 L640.2,130.1 L640.5,130.5 L640.8,131.0 L641.1,131.5 L641.4,131.9 L641.7,132.4 L642.0,133.0 L642.3,133.5 L642.6,134.0 L642.9,134.6 L643.2,135.2 L643.5,135.7 L643.8,136.3 L644.1,136.9 L644.4,137.5 L644.7,138.2 L645.0,138.9 L645.3,139.7 L645.6,140.5 L645.9,141.2 L646.2,142.0 L646.5,142.8 L646.8,143.6 L647.1,144.4 L647.4,145.1 L647.7,145.8 L648.0,146.5 L648.3,147.1 L648.6,147.7 L648.9,148.2 L649.2,148.7 L649.5,149.2 L649.8,149.7 L650.1,150.3 L650.4,151.0 L650.7,151.7 L651.0,152.6 L651.3,153.7 L651.6,154.9 L651.9,156.3 L652.2,157.8 L652.5,159.4 L652.8,161.1 L653.1,162.9 L653.4,164.8 L653.7,166.7 L654.0,168.7 L654.3,170.7 L654.6,172.9 L654.9,175.2 L655.2,177.8 L655.5,180.6 L655.8,183.7 L656.1,187.3 L656.4,191.9 L656.7,197.4 L657.0,203.3 L657.3,209.2 L657.6,214.6 L657.9,219.8 L658.2,225.1 L658.5,230.5 L658.8,236.1 L659.1,242.0 L659.4,248.1 L659.7,254.3 L660.0,260.5 L660.3,266.9 L660.6,273.3 L660.9,279.8 L661.2,280.0 L661.5,280.0 L661.8,280.0 L662.1,280.0 L662.4,280.0 L662.7,280.0 L663.0,280.0 L663.3,280.0 L663.6,280.0 L663.9,280.0 L664.2,280.0 L664.5,280.0 L664.8,280.0 L665.1,280.0 L665.4,280.0 L665.7,280.0" fill="none" stroke="#66c2a5" stroke-width="1.45" stroke-dasharray="5 2.2"/>
<path d="M585.9,111.5 L587.9,111.5 L589.9,111.5 L590.7,111.4 L591.2,111.4 L591.7,111.4 L592.2,111.4 L592.7,111.3 L593.2,111.3 L593.7,111.3 L594.2,111.2 L594.7,111.2 L595.2,111.1 L595.7,111.1 L596.2,111.0 L596.7,111.0 L597.2,110.9 L597.7,110.9 L598.2,110.8 L598.7,110.8 L599.2,110.7 L599.7,110.7 L600.2,110.6 L600.7,110.6 L601.2,110.5 L601.7,110.4 L602.2,110.4 L602.7,110.3 L603.2,110.2 L603.7,110.1 L604.2,110.0 L604.7,109.9 L605.2,109.9 L605.7,109.8 L606.2,109.7 L606.7,109.6 L607.2,109.4 L607.7,109.3 L608.2,109.2 L608.7,109.1 L609.2,109.0 L609.7,108.9 L610.2,108.8 L610.7,108.6 L611.2,108.5 L611.7,108.4 L612.2,108.3 L612.7,108.1 L613.2,108.0 L613.7,107.9 L614.2,107.8 L614.7,107.6 L615.2,107.5 L615.7,107.4 L616.2,107.2 L616.7,107.1 L617.2,107.0 L617.7,106.8 L618.2,106.7 L618.7,106.5 L619.2,106.4 L619.7,106.2 L620.2,106.1 L620.7,105.9 L621.2,105.7 L621.7,105.6 L622.2,105.4 L622.7,105.2 L623.2,105.0 L623.7,104.8 L624.2,104.6 L624.7,104.4 L625.2,104.1 L625.7,103.9 L626.2,103.7 L626.7,103.4 L627.2,103.2 L627.7,102.9 L628.2,102.7 L628.7,102.4 L629.2,102.2 L629.7,101.9 L630.2,101.7 L630.7,101.4 L631.2,101.1 L631.7,100.8 L632.2,100.6 L632.7,100.3 L633.2,100.0 L633.7,99.7 L634.2,99.4 L634.7,99.0 L635.2,98.7 L635.7,98.4 L636.0,98.1 L636.3,97.9 L636.6,97.7 L636.9,97.5 L637.2,97.3 L637.5,97.0 L637.8,96.8 L638.1,96.5 L638.4,96.3 L638.7,96.0 L639.0,95.8 L639.3,95.5 L639.6,95.2 L639.9,95.0 L640.2,94.7 L640.5,94.4 L640.8,94.1 L641.1,93.8 L641.4,93.5 L641.7,93.1 L642.0,92.8 L642.3,92.4 L642.6,92.0 L642.9,91.6 L643.2,91.1 L643.5,90.7 L643.8,90.3 L644.1,89.8 L644.4,89.3 L644.7,88.8" fill="none" stroke="#fc8d62" stroke-opacity="0.8" stroke-width="1"/>
<path d="M585.9,114.3 L587.9,114.3 L589.9,114.2 L590.7,114.2 L591.2,114.1 L591.7,114.1 L592.2,114.1 L592.7,114.0 L593.2,114.0 L593.7,113.9 L594.2,113.8 L594.7,113.8 L595.2,113.7 L595.7,113.7 L596.2,113.6 L596.7,113.5 L597.2,113.5 L597.7,113.4 L598.2,113.4 L598.7,113.3 L599.2,113.3 L599.7,113.3 L600.2,113.2 L600.7,113.2 L601.2,113.2 L601.7,113.2 L602.2,113.1 L602.7,113.1 L603.2,113.1 L603.7,113.0 L604.2,113.0 L604.7,113.0 L605.2,113.0 L605.7,112.9 L606.2,112.9 L606.7,112.8 L607.2,112.8 L607.7,112.8 L608.2,112.7 L608.7,112.7 L609.2,112.7 L609.7,112.6 L610.2,112.6 L610.7,112.5 L611.2,112.5 L611.7,112.5 L612.2,112.4 L612.7,112.4 L613.2,112.3 L613.7,112.3 L614.2,112.2 L614.7,112.2 L615.2,112.2 L615.7,112.1 L616.2,112.1 L616.7,112.0 L617.2,112.0 L617.7,111.9 L618.2,111.9 L618.7,111.8 L619.2,111.8 L619.7,111.7 L620.2,111.7 L620.7,111.6 L621.2,111.6 L621.7,111.5 L622.2,111.4 L622.7,111.4 L623.2,111.3 L623.7,111.2 L624.2,111.1 L624.7,111.0 L625.2,111.0 L625.7,110.9 L626.2,110.8 L626.7,110.7 L627.2,110.6 L627.7,110.5 L628.2,110.4 L628.7,110.3 L629.2,110.3 L629.7,110.2 L630.2,110.1 L630.7,110.0 L631.2,109.9 L631.7,109.9 L632.2,109.8 L632.7,109.8 L633.2,109.7 L633.7,109.6 L634.2,109.6 L634.7,109.5 L635.2,109.5 L635.7,109.5 L636.0,109.4 L636.3,109.4 L636.6,109.4 L636.9,109.4 L637.2,109.3 L637.5,109.3 L637.8,109.3 L638.1,109.3 L638.4,109.2 L638.7,109.2 L639.0,109.2 L639.3,109.1 L639.6,109.1 L639.9,109.1 L640.2,109.1 L640.5,109.0 L640.8,109.0 L641.1,109.0 L641.4,108.9 L641.7,108.9 L642.0,108.9 L642.3,108.9 L642.6,108.9 L642.9,108.8 L643.2,108.8 L643.5,108.8 L643.8,108.8 L644.1,108.8 L644.4,108.8 L644.7,108.7" fill="none" stroke="#fc8d62" stroke-opacity="0.8" stroke-width="1"/>
<path d="M395.9,113.2 L397.9,113.2 L399.9,113.2 L401.9,113.2 L403.9,113.2 L405.9,113.2 L407.9,113.2 L409.9,113.2 L411.9,113.2 L413.9,113.2 L415.9,113.2 L417.9,113.2 L419.9,113.2 L421.9,113.2 L423.9,113.2 L425.9,113.2 L427.9,113.2 L429.9,113.2 L431.9,113.2 L433.9,113.2 L435.9,113.2 L437.9,113.2 L439.9,113.2 L441.9,113.2 L443.9,113.2 L445.9,113.2 L447.9,113.2 L449.9,113.2 L451.9,113.2 L453.9,113.2 L455.9,113.2 L457.9,113.2 L459.9,113.2 L461.9,113.2 L463.9,113.2 L465.9,113.2 L467.9,113.2 L469.9,113.2 L471.9,113.2 L473.9,113.2 L475.9,113.2 L477.9,113.2 L479.9,113.2 L481.9,113.2 L483.9,113.2 L485.9,113.2 L487.9,113.2 L489.9,113.2 L491.9,113.2 L493.9,113.2 L495.9,113.2 L497.9,113.2 L499.9,113.2 L501.9,113.2 L503.9,113.2 L505.9,113.2 L507.9,113.2 L509.9,113.2 L511.9,113.2 L513.9,113.2 L515.9,113.2 L517.9,113.2 L519.9,113.2 L521.9,113.2 L523.9,113.2 L525.9,113.2 L527.9,113.2 L529.9,113.2 L531.9,113.2 L533.9,113.2 L535.9,113.2 L537.9,113.2 L539.9,113.2 L541.9,113.2 L543.9,113.2 L545.9,113.2 L547.9,113.2 L549.9,113.2 L551.9,113.2 L553.9,113.2 L555.9,113.2 L557.9,113.2 L559.9,113.1 L561.9,113.1 L563.9,113.1 L565.9,113.0 L567.9,113.0 L569.9,113.0 L571.9,112.9 L573.9,112.9 L575.9,112.8 L577.9,112.8 L579.9,112.7 L581.9,112.7 L583.9,112.6 L585.9,112.5 L587.9,112.5 L589.9,112.4 L590.7,112.4 L591.2,112.4 L591.7,112.3 L592.2,112.3 L592.7,112.3 L593.2,112.3 L593.7,112.3 L594.2,112.2 L594.7,112.2 L595.2,112.2 L595.7,112.2 L596.2,112.2 L596.7,112.1 L597.2,112.1 L597.7,112.1 L598.2,112.1 L598.7,112.1 L599.2,112.0 L599.7,112.0 L600.2,112.0 L600.7,112.0 L601.2,111.9 L601.7,111.9 L602.2,111.9 L602.7,111.8 L603.2,111.8 L603.7,111.8 L604.2,111.7 L604.7,111.7 L605.2,111.7 L605.7,111.6 L606.2,111.6 L606.7,111.5 L607.2,111.5 L607.7,111.4 L608.2,111.3 L608.7,111.3 L609.2,111.2 L609.7,111.2 L610.2,111.1 L610.7,111.0 L611.2,111.0 L611.7,110.9 L612.2,110.8 L612.7,110.8 L613.2,110.7 L613.7,110.6 L614.2,110.5 L614.7,110.4 L615.2,110.4 L615.7,110.3 L616.2,110.2 L616.7,110.1 L617.2,110.0 L617.7,109.9 L618.2,109.8 L618.7,109.7 L619.2,109.7 L619.7,109.6 L620.2,109.5 L620.7,109.4 L621.2,109.2 L621.7,109.1 L622.2,109.0 L622.7,108.8 L623.2,108.6 L623.7,108.5 L624.2,108.3 L624.7,108.1 L625.2,107.9 L625.7,107.7 L626.2,107.5 L626.7,107.3 L627.2,107.1 L627.7,106.9 L628.2,106.7 L628.7,106.5 L629.2,106.3 L629.7,106.1 L630.2,105.9 L630.7,105.7 L631.2,105.5 L631.7,105.4 L632.2,105.2 L632.7,105.0 L633.2,104.8 L633.7,104.6 L634.2,104.5 L634.7,104.3 L635.2,104.1 L635.7,103.9 L636.0,103.8 L636.3,103.7 L636.6,103.6 L636.9,103.5 L637.2,103.3 L637.5,103.2 L637.8,103.1 L638.1,103.0 L638.4,102.8 L638.7,102.7 L639.0,102.6 L639.3,102.4 L639.6,102.3 L639.9,102.2 L640.2,102.0 L640.5,101.9 L640.8,101.7 L641.1,101.5 L641.4,101.4 L641.7,101.2 L642.0,101.0 L642.3,100.8 L642.6,100.7 L642.9,100.5 L643.2,100.3 L643.5,100.1 L643.8,99.9 L644.1,99.6 L644.4,99.4 L644.7,99.1 L645.0,98.8 L645.3,98.4 L645.6,98.0 L645.9,97.6 L646.2,97.2 L646.5,96.8 L646.8,96.4 L647.1,95.9 L647.4,95.5 L647.7,95.0 L648.0,94.6 L648.3,94.1 L648.6,93.7 L648.9,93.3 L649.2,92.9 L649.5,92.5 L649.8,92.2 L650.1,91.9 L650.4,91.6 L650.7,91.3 L651.0,90.9 L651.3,90.6 L651.6,90.3 L651.9,89.9 L652.2,89.6 L652.5,89.3 L652.8,88.9 L653.1,88.6 L653.4,88.4 L653.7,88.1 L654.0,87.8 L654.3,87.6 L654.6,87.4 L654.9,87.3 L655.2,87.1 L655.5,87.1 L655.8,87.0 L656.1,87.0 L656.4,87.0 L656.7,87.1 L657.0,87.2 L657.3,87.4 L657.6,87.6 L657.9,87.8 L658.2,88.1 L658.5,88.3 L658.8,88.6 L659.1,89.0 L659.4,89.3 L659.7,89.6 L660.0,90.0 L660.3,90.4 L660.6,91.0 L660.9,91.7 L661.2,92.5 L661.5,93.3 L661.8,94.2 L662.1,95.2 L662.4,96.1 L662.7,97.1 L663.0,98.0 L663.3,98.9 L663.6,99.7 L663.9,100.5 L664.2,101.4 L664.5,102.3 L664.8,103.5 L665.1,104.9 L665.4,106.7 L665.7,110.0" fill="none" stroke="#fc8d62" stroke-width="1.7"/>
<path d="M395.9,106.4 L397.9,106.5 L399.9,106.6 L401.9,106.7 L403.9,106.8 L405.9,106.9 L407.9,107.0 L409.9,107.1 L411.9,107.2 L413.9,107.3 L415.9,107.4 L417.9,107.5 L419.9,107.6 L421.9,107.7 L423.9,107.8 L425.9,107.8 L427.9,107.9 L429.9,108.0 L431.9,108.1 L433.9,108.1 L435.9,108.2 L437.9,108.3 L439.9,108.4 L441.9,108.5 L443.9,108.5 L445.9,108.6 L447.9,108.7 L449.9,108.8 L451.9,108.8 L453.9,108.9 L455.9,109.0 L457.9,109.0 L459.9,109.1 L461.9,109.1 L463.9,109.2 L465.9,109.2 L467.9,109.2 L469.9,109.3 L471.9,109.3 L473.9,109.3 L475.9,109.3 L477.9,109.4 L479.9,109.4 L481.9,109.4 L483.9,109.4 L485.9,109.4 L487.9,109.4 L489.9,109.4 L491.9,109.4 L493.9,109.5 L495.9,109.5 L497.9,109.5 L499.9,109.5 L501.9,109.5 L503.9,109.5 L505.9,109.5 L507.9,109.5 L509.9,109.5 L511.9,109.5 L513.9,109.5 L515.9,109.5 L517.9,109.5 L519.9,109.5 L521.9,109.5 L523.9,109.5 L525.9,109.5 L527.9,109.5 L529.9,109.5 L531.9,109.5 L533.9,109.5 L535.9,109.5 L537.9,109.5 L539.9,109.5 L541.9,109.5 L543.9,109.5 L545.9,109.5 L547.9,109.5 L549.9,109.5 L551.9,109.5 L553.9,109.6 L555.9,109.6 L557.9,109.6 L559.9,109.7 L561.9,109.8 L563.9,109.8 L565.9,109.9 L567.9,110.0 L569.9,110.0 L571.9,110.1 L573.9,110.2 L575.9,110.2 L577.9,110.3 L579.9,110.4 L581.9,110.4 L583.9,110.4 L585.9,110.5 L587.9,110.5 L589.9,110.5 L590.7,110.5 L591.2,110.5 L591.7,110.4 L592.2,110.4 L592.7,110.4 L593.2,110.3 L593.7,110.3 L594.2,110.2 L594.7,110.2 L595.2,110.1 L595.7,110.0 L596.2,109.9 L596.7,109.9 L597.2,109.8 L597.7,109.7 L598.2,109.6 L598.7,109.5 L599.2,109.4 L599.7,109.4 L600.2,109.3 L600.7,109.2 L601.2,109.1 L601.7,109.0 L602.2,108.9 L602.7,108.7 L603.2,108.6 L603.7,108.5 L604.2,108.3 L604.7,108.2 L605.2,108.1 L605.7,107.9 L606.2,107.8 L606.7,107.6 L607.2,107.4 L607.7,107.3 L608.2,107.1 L608.7,106.9 L609.2,106.8 L609.7,106.6 L610.2,106.4 L610.7,106.2 L611.2,106.1 L611.7,105.9 L612.2,105.7 L612.7,105.5 L613.2,105.3 L613.7,105.2 L614.2,105.0 L614.7,104.8 L615.2,104.6 L615.7,104.4 L616.2,104.3 L616.7,104.1 L617.2,103.9 L617.7,103.7 L618.2,103.5 L618.7,103.3 L619.2,103.1 L619.7,102.9 L620.2,102.7 L620.7,102.5 L621.2,102.3 L621.7,102.0 L622.2,101.8 L622.7,101.6 L623.2,101.3 L623.7,101.1 L624.2,100.9 L624.7,100.6 L625.2,100.3 L625.7,100.1 L626.2,99.8 L626.7,99.5 L627.2,99.3 L627.7,99.0 L628.2,98.7 L628.7,98.4 L629.2,98.1 L629.7,97.7 L630.2,97.4 L630.7,97.1 L631.2,96.7 L631.7,96.3 L632.2,95.9 L632.7,95.5 L633.2,95.1 L633.7,94.7 L634.2,94.2 L634.7,93.8 L635.2,93.3 L635.7,92.8 L636.0,92.5 L636.3,92.2 L636.6,91.8 L636.9,91.5 L637.2,91.2 L637.5,90.8 L637.8,90.5 L638.1,90.1 L638.4,89.7 L638.7,89.4 L639.0,89.0 L639.3,88.6 L639.6,88.2 L639.9,87.8 L640.2,87.4 L640.5,86.9 L640.8,86.5 L641.1,86.0 L641.4,85.6 L641.7,85.0 L642.0,84.5 L642.3,83.9 L642.6,83.3 L642.9,82.7 L643.2,82.0 L643.5,81.3 L643.8,80.6 L644.1,79.9 L644.4,79.2 L644.7,78.4 L645.0,77.6 L645.3,76.9 L645.6,76.1 L645.9,75.2 L646.2,74.4 L646.5,73.6 L646.8,72.8 L647.1,71.9 L647.4,71.1 L647.7,70.3 L648.0,69.4 L648.3,68.5 L648.6,67.6 L648.9,66.6 L649.2,65.5 L649.5,64.3 L649.8,63.0 L650.1,61.5 L650.4,59.4 L650.7,57.0 L651.0,54.3 L651.3,51.7 L651.6,49.2 L651.9,46.8 L652.2,44.4 L652.5,41.9 L652.8,39.5 L653.1,37.1 L653.4,34.8 L653.7,32.5 L654.0,30.4 L654.3,28.4 L654.6,26.4 L654.9,24.4 L655.2,22.2 L655.5,19.8 L655.8,17.0 L656.1,13.7 L656.4,9.6 L656.7,5.0 L657.0,0.0 L657.3,-5.1 L657.6,-10.3 L657.9,-15.6 L658.2,-21.0 L658.5,-26.6 L658.8,-32.2 L659.1,-38.0 L659.4,-40.0 L659.7,-40.0 L660.0,-40.0 L660.3,-40.0 L660.6,-40.0 L660.9,-40.0 L661.2,-40.0 L661.5,-40.0 L661.8,-40.0 L662.1,-40.0 L662.4,-40.0 L662.7,-40.0 L663.0,-40.0 L663.3,-40.0 L663.6,-40.0 L663.9,-40.0 L664.2,-40.0 L664.5,-40.0 L664.8,-40.0 L665.1,-40.0 L665.4,-40.0 L665.7,-40.0" fill="none" stroke="#fc8d62" stroke-width="1.45" stroke-dasharray="5 2.2"/>
<path d="M395.9,119.5 L397.9,119.4 L399.9,119.3 L401.9,119.2 L403.9,119.2 L405.9,119.1 L407.9,119.0 L409.9,118.9 L411.9,118.9 L413.9,118.8 L415.9,118.7 L417.9,118.6 L419.9,118.6 L421.9,118.5 L423.9,118.4 L425.9,118.3 L427.9,118.3 L429.9,118.2 L431.9,118.1 L433.9,118.1 L435.9,118.0 L437.9,117.9 L439.9,117.8 L441.9,117.7 L443.9,117.6 L445.9,117.6 L447.9,117.5 L449.9,117.4 L451.9,117.3 L453.9,117.2 L455.9,117.2 L457.9,117.1 L459.9,117.0 L461.9,117.0 L463.9,116.9 L465.9,116.9 L467.9,116.8 L469.9,116.8 L471.9,116.8 L473.9,116.8 L475.9,116.8 L477.9,116.8 L479.9,116.8 L481.9,116.8 L483.9,116.7 L485.9,116.7 L487.9,116.7 L489.9,116.7 L491.9,116.7 L493.9,116.7 L495.9,116.7 L497.9,116.7 L499.9,116.7 L501.9,116.7 L503.9,116.7 L505.9,116.7 L507.9,116.7 L509.9,116.7 L511.9,116.7 L513.9,116.7 L515.9,116.7 L517.9,116.7 L519.9,116.7 L521.9,116.7 L523.9,116.7 L525.9,116.7 L527.9,116.7 L529.9,116.7 L531.9,116.7 L533.9,116.7 L535.9,116.6 L537.9,116.6 L539.9,116.6 L541.9,116.6 L543.9,116.6 L545.9,116.6 L547.9,116.6 L549.9,116.6 L551.9,116.6 L553.9,116.6 L555.9,116.6 L557.9,116.5 L559.9,116.5 L561.9,116.5 L563.9,116.5 L565.9,116.5 L567.9,116.5 L569.9,116.4 L571.9,116.4 L573.9,116.4 L575.9,116.3 L577.9,116.3 L579.9,116.3 L581.9,116.2 L583.9,116.2 L585.9,116.1 L587.9,116.1 L589.9,116.0 L590.7,116.0 L591.2,115.9 L591.7,115.9 L592.2,115.8 L592.7,115.7 L593.2,115.6 L593.7,115.5 L594.2,115.4 L594.7,115.3 L595.2,115.2 L595.7,115.1 L596.2,115.0 L596.7,114.9 L597.2,114.8 L597.7,114.8 L598.2,114.7 L598.7,114.6 L599.2,114.6 L599.7,114.5 L600.2,114.5 L600.7,114.5 L601.2,114.4 L601.7,114.4 L602.2,114.4 L602.7,114.4 L603.2,114.3 L603.7,114.3 L604.2,114.3 L604.7,114.3 L605.2,114.2 L605.7,114.2 L606.2,114.2 L606.7,114.2 L607.2,114.2 L607.7,114.1 L608.2,114.1 L608.7,114.1 L609.2,114.1 L609.7,114.1 L610.2,114.1 L610.7,114.0 L611.2,114.0 L611.7,114.0 L612.2,114.0 L612.7,114.0 L613.2,114.0 L613.7,114.0 L614.2,114.0 L614.7,114.0 L615.2,113.9 L615.7,113.9 L616.2,113.9 L616.7,113.9 L617.2,113.9 L617.7,113.9 L618.2,113.9 L618.7,113.9 L619.2,113.9 L619.7,113.9 L620.2,113.9 L620.7,113.9 L621.2,113.9 L621.7,113.9 L622.2,113.9 L622.7,113.9 L623.2,113.9 L623.7,114.0 L624.2,114.0 L624.7,114.0 L625.2,114.0 L625.7,114.0 L626.2,114.0 L626.7,114.1 L627.2,114.1 L627.7,114.1 L628.2,114.2 L628.7,114.2 L629.2,114.2 L629.7,114.2 L630.2,114.3 L630.7,114.3 L631.2,114.3 L631.7,114.4 L632.2,114.4 L632.7,114.5 L633.2,114.6 L633.7,114.6 L634.2,114.7 L634.7,114.8 L635.2,114.9 L635.7,115.0 L636.0,115.0 L636.3,115.1 L636.6,115.2 L636.9,115.2 L637.2,115.3 L637.5,115.4 L637.8,115.5 L638.1,115.5 L638.4,115.6 L638.7,115.7 L639.0,115.8 L639.3,115.8 L639.6,115.9 L639.9,116.0 L640.2,116.1 L640.5,116.2 L640.8,116.3 L641.1,116.4 L641.4,116.5 L641.7,116.6 L642.0,116.8 L642.3,116.9 L642.6,117.0 L642.9,117.2 L643.2,117.4 L643.5,117.5 L643.8,117.7 L644.1,117.9 L644.4,118.1 L644.7,118.4 L645.0,118.6 L645.3,118.8 L645.6,119.1 L645.9,119.3 L646.2,119.6 L646.5,119.9 L646.8,120.2 L647.1,120.5 L647.4,120.9 L647.7,121.3 L648.0,121.8 L648.3,122.3 L648.6,122.9 L648.9,123.5 L649.2,124.2 L649.5,124.9 L649.8,125.6 L650.1,126.3 L650.4,127.1 L650.7,127.8 L651.0,128.6 L651.3,129.4 L651.6,130.3 L651.9,131.2 L652.2,132.1 L652.5,133.1 L652.8,134.2 L653.1,135.3 L653.4,136.4 L653.7,137.6 L654.0,138.8 L654.3,140.1 L654.6,141.5 L654.9,143.1 L655.2,144.7 L655.5,146.3 L655.8,147.9 L656.1,149.5 L656.4,151.0 L656.7,152.4 L657.0,154.1 L657.3,156.3 L657.6,159.8 L657.9,164.9 L658.2,171.2 L658.5,177.9 L658.8,184.7 L659.1,191.1 L659.4,197.3 L659.7,203.9 L660.0,211.0 L660.3,219.0 L660.6,227.8 L660.9,236.9 L661.2,246.2 L661.5,255.5 L661.8,265.0 L662.1,274.5 L662.4,280.0 L662.7,280.0 L663.0,280.0 L663.3,280.0 L663.6,280.0 L663.9,280.0 L664.2,280.0 L664.5,280.0 L664.8,280.0 L665.1,280.0 L665.4,280.0 L665.7,280.0" fill="none" stroke="#fc8d62" stroke-width="1.45" stroke-dasharray="5 2.2"/>
<path d="M395.9,114.0 L397.9,114.0 L399.9,114.0 L401.9,113.9 L403.9,113.9 L405.9,113.9 L407.9,113.9 L409.9,113.9 L411.9,113.8 L413.9,113.8 L415.9,113.8 L417.9,113.8 L419.9,113.8 L421.9,113.8 L423.9,113.7 L425.9,113.7 L427.9,113.7 L429.9,113.7 L431.9,113.7 L433.9,113.7 L435.9,113.6 L437.9,113.6 L439.9,113.6 L441.9,113.6 L443.9,113.6 L445.9,113.6 L447.9,113.6 L449.9,113.6 L451.9,113.5 L453.9,113.5 L455.9,113.5 L457.9,113.5 L459.9,113.5 L461.9,113.5 L463.9,113.5 L465.9,113.5 L467.9,113.5 L469.9,113.5 L471.9,113.5 L473.9,113.5 L475.9,113.5 L477.9,113.5 L479.9,113.5 L481.9,113.5 L483.9,113.5 L485.9,113.5 L487.9,113.5 L489.9,113.5 L491.9,113.5 L493.9,113.5 L495.9,113.5 L497.9,113.5 L499.9,113.5 L501.9,113.5 L503.9,113.5 L505.9,113.5 L507.9,113.5 L509.9,113.5 L511.9,113.5 L513.9,113.5 L515.9,113.5 L517.9,113.5 L519.9,113.5 L521.9,113.5 L523.9,113.5 L525.9,113.5 L527.9,113.5 L529.9,113.5 L531.9,113.5 L533.9,113.5 L535.9,113.5 L537.9,113.5 L539.9,113.5 L541.9,113.5 L543.9,113.5 L545.9,113.5 L547.9,113.5 L549.9,113.5 L551.9,113.5 L553.9,113.5 L555.9,113.6 L557.9,113.6 L559.9,113.7 L561.9,113.7 L563.9,113.8 L565.9,113.9 L567.9,114.0 L569.9,114.0 L571.9,114.1 L573.9,114.2 L575.9,114.3 L577.9,114.4 L579.9,114.5 L581.9,114.6 L583.9,114.7 L585.9,114.8 L587.9,114.9 L589.9,115.0 L590.7,115.0 L591.2,115.0 L591.7,115.0 L592.2,115.0 L592.7,115.1 L593.2,115.1 L593.7,115.1 L594.2,115.1 L594.7,115.1 L595.2,115.2 L595.7,115.2 L596.2,115.2 L596.7,115.2 L597.2,115.2 L597.7,115.2 L598.2,115.2 L598.7,115.3 L599.2,115.3 L599.7,115.3 L600.2,115.3 L600.7,115.3 L601.2,115.3 L601.7,115.3 L602.2,115.4 L602.7,115.4 L603.2,115.4 L603.7,115.4 L604.2,115.4 L604.7,115.4 L605.2,115.4 L605.7,115.5 L606.2,115.5 L606.7,115.5 L607.2,115.5 L607.7,115.5 L608.2,115.5 L608.7,115.5 L609.2,115.6 L609.7,115.6 L610.2,115.6 L610.7,115.6 L611.2,115.6 L611.7,115.6 L612.2,115.6 L612.7,115.7 L613.2,115.7 L613.7,115.7 L614.2,115.7 L614.7,115.7 L615.2,115.7 L615.7,115.7 L616.2,115.8 L616.7,115.8 L617.2,115.8 L617.7,115.8 L618.2,115.8 L618.7,115.8 L619.2,115.8 L619.7,115.9 L620.2,115.9 L620.7,115.9 L621.2,115.9 L621.7,115.9 L622.2,115.9 L622.7,115.9 L623.2,115.9 L623.7,116.0 L624.2,116.0 L624.7,116.0 L625.2,116.0 L625.7,116.0 L626.2,116.0 L626.7,116.0 L627.2,116.0 L627.7,116.1 L628.2,116.1 L628.7,116.1 L629.2,116.1 L629.7,116.1 L630.2,116.1 L630.7,116.1 L631.2,116.1 L631.7,116.1 L632.2,116.1 L632.7,116.2 L633.2,116.2 L633.7,116.2 L634.2,116.2 L634.7,116.2 L635.2,116.2 L635.7,116.2 L636.0,116.2 L636.3,116.2 L636.6,116.2 L636.9,116.2 L637.2,116.2 L637.5,116.2 L637.8,116.2 L638.1,116.2 L638.4,116.2 L638.7,116.2 L639.0,116.3 L639.3,116.3 L639.6,116.3 L639.9,116.3 L640.2,116.3 L640.5,116.3 L640.8,116.3 L641.1,116.3 L641.4,116.3 L641.7,116.3 L642.0,116.3 L642.3,116.3 L642.6,116.3 L642.9,116.3 L643.2,116.3 L643.5,116.3 L643.8,116.3 L644.1,116.3 L644.4,116.3 L644.7,116.3 L645.0,116.3 L645.3,116.3 L645.6,116.3 L645.9,116.3 L646.2,116.3 L646.5,116.3 L646.8,116.3 L647.1,116.3 L647.4,116.3 L647.7,116.2 L648.0,116.1 L648.3,115.9 L648.6,115.8 L648.9,115.6 L649.2,115.4 L649.5,115.1 L649.8,114.9 L650.1,114.7 L650.4,114.5 L650.7,114.2 L651.0,114.0 L651.3,113.8 L651.6,113.5 L651.9,113.2 L652.2,112.9 L652.5,112.6 L652.8,112.3 L653.1,112.0 L653.4,111.7 L653.7,111.4 L654.0,111.1 L654.3,110.8 L654.6,110.5 L654.9,110.3 L655.2,110.1 L655.5,109.8 L655.8,109.6 L656.1,109.4 L656.4,109.2 L656.7,109.0 L657.0,108.8 L657.3,108.5 L657.6,108.3 L657.9,108.1 L658.2,108.0 L658.5,107.8 L658.8,107.6 L659.1,107.5 L659.4,107.3 L659.7,107.2 L660.0,107.1 L660.3,107.1 L660.6,107.0 L660.9,107.0 L661.2,107.0 L661.5,107.0 L661.8,107.1 L662.1,107.2 L662.4,107.4 L662.7,107.5 L663.0,107.7 L663.3,107.8 L663.6,108.0 L663.9,108.2 L664.2,108.5 L664.5,108.7 L664.8,108.9 L665.1,109.1 L665.4,109.3 L665.7,109.5" fill="none" stroke="#8da0cb" stroke-width="1.7"/>
<path d="M395.9,103.8 L397.9,104.0 L399.9,104.2 L401.9,104.4 L403.9,104.5 L405.9,104.7 L407.9,104.9 L409.9,105.0 L411.9,105.2 L413.9,105.4 L415.9,105.5 L417.9,105.7 L419.9,105.8 L421.9,106.0 L423.9,106.1 L425.9,106.2 L427.9,106.4 L429.9,106.5 L431.9,106.6 L433.9,106.8 L435.9,106.9 L437.9,107.0 L439.9,107.2 L441.9,107.3 L443.9,107.4 L445.9,107.6 L447.9,107.7 L449.9,107.8 L451.9,108.0 L453.9,108.1 L455.9,108.2 L457.9,108.3 L459.9,108.4 L461.9,108.5 L463.9,108.6 L465.9,108.6 L467.9,108.7 L469.9,108.7 L471.9,108.7 L473.9,108.7 L475.9,108.7 L477.9,108.7 L479.9,108.7 L481.9,108.7 L483.9,108.7 L485.9,108.7 L487.9,108.7 L489.9,108.7 L491.9,108.7 L493.9,108.7 L495.9,108.7 L497.9,108.7 L499.9,108.7 L501.9,108.7 L503.9,108.7 L505.9,108.7 L507.9,108.7 L509.9,108.8 L511.9,108.8 L513.9,108.8 L515.9,108.8 L517.9,108.8 L519.9,108.8 L521.9,108.8 L523.9,108.8 L525.9,108.8 L527.9,108.8 L529.9,108.8 L531.9,108.8 L533.9,108.8 L535.9,108.8 L537.9,108.8 L539.9,108.8 L541.9,108.8 L543.9,108.8 L545.9,108.8 L547.9,108.8 L549.9,108.8 L551.9,108.8 L553.9,108.9 L555.9,108.9 L557.9,109.0 L559.9,109.1 L561.9,109.2 L563.9,109.3 L565.9,109.4 L567.9,109.5 L569.9,109.6 L571.9,109.7 L573.9,109.8 L575.9,109.8 L577.9,109.9 L579.9,110.0 L581.9,110.1 L583.9,110.1 L585.9,110.2 L587.9,110.2 L589.9,110.2 L590.7,110.2 L591.2,110.2 L591.7,110.2 L592.2,110.2 L592.7,110.2 L593.2,110.2 L593.7,110.2 L594.2,110.1 L594.7,110.1 L595.2,110.1 L595.7,110.1 L596.2,110.1 L596.7,110.0 L597.2,110.0 L597.7,110.0 L598.2,110.0 L598.7,110.0 L599.2,109.9 L599.7,109.9 L600.2,109.9 L600.7,109.8 L601.2,109.8 L601.7,109.8 L602.2,109.7 L602.7,109.7 L603.2,109.7 L603.7,109.6 L604.2,109.6 L604.7,109.6 L605.2,109.5 L605.7,109.5 L606.2,109.5 L606.7,109.4 L607.2,109.4 L607.7,109.3 L608.2,109.3 L608.7,109.3 L609.2,109.2 L609.7,109.2 L610.2,109.1 L610.7,109.1 L611.2,109.1 L611.7,109.0 L612.2,109.0 L612.7,108.9 L613.2,108.9 L613.7,108.9 L614.2,108.8 L614.7,108.8 L615.2,108.7 L615.7,108.7 L616.2,108.6 L616.7,108.6 L617.2,108.5 L617.7,108.5 L618.2,108.4 L618.7,108.4 L619.2,108.3 L619.7,108.3 L620.2,108.2 L620.7,108.1 L621.2,108.1 L621.7,108.0 L622.2,107.9 L622.7,107.9 L623.2,107.8 L623.7,107.7 L624.2,107.6 L624.7,107.6 L625.2,107.5 L625.7,107.4 L626.2,107.3 L626.7,107.2 L627.2,107.1 L627.7,107.0 L628.2,106.9 L628.7,106.8 L629.2,106.7 L629.7,106.6 L630.2,106.5 L630.7,106.3 L631.2,106.2 L631.7,106.0 L632.2,105.8 L632.7,105.6 L633.2,105.4 L633.7,105.2 L634.2,104.9 L634.7,104.7 L635.2,104.4 L635.7,104.1 L636.0,103.9 L636.3,103.7 L636.6,103.5 L636.9,103.3 L637.2,103.1 L637.5,102.9 L637.8,102.7 L638.1,102.5 L638.4,102.3 L638.7,102.0 L639.0,101.8 L639.3,101.6 L639.6,101.3 L639.9,101.1 L640.2,100.8 L640.5,100.5 L640.8,100.2 L641.1,99.9 L641.4,99.5 L641.7,99.1 L642.0,98.7 L642.3,98.3 L642.6,97.9 L642.9,97.4 L643.2,96.9 L643.5,96.4 L643.8,95.9 L644.1,95.4 L644.4,94.9 L644.7,94.4 L645.0,93.8 L645.3,93.3 L645.6,92.7 L645.9,92.2 L646.2,91.6 L646.5,91.1 L646.8,90.6 L647.1,90.0 L647.4,89.5 L647.7,88.9 L648.0,88.3 L648.3,87.7 L648.6,87.1 L648.9,86.4 L649.2,85.7 L649.5,85.0 L649.8,84.2 L650.1,83.3 L650.4,82.4 L650.7,81.4 L651.0,80.4 L651.3,79.2 L651.6,77.6 L651.9,75.8 L652.2,73.9 L652.5,71.7 L652.8,69.5 L653.1,67.1 L653.4,64.8 L653.7,62.4 L654.0,59.7 L654.3,56.9 L654.6,53.9 L654.9,50.9 L655.2,47.9 L655.5,45.0 L655.8,42.2 L656.1,39.5 L656.4,36.9 L656.7,34.3 L657.0,31.7 L657.3,29.0 L657.6,26.1 L657.9,23.0 L658.2,19.7 L658.5,16.0 L658.8,11.9 L659.1,7.2 L659.4,1.9 L659.7,-3.8 L660.0,-10.0 L660.3,-16.6 L660.6,-23.6 L660.9,-30.9 L661.2,-38.6 L661.5,-40.0 L661.8,-40.0 L662.1,-40.0 L662.4,-40.0 L662.7,-40.0 L663.0,-40.0 L663.3,-40.0 L663.6,-40.0 L663.9,-40.0 L664.2,-40.0 L664.5,-40.0 L664.8,-40.0 L665.1,-40.0 L665.4,-40.0 L665.7,-40.0" fill="none" stroke="#8da0cb" stroke-width="1.45" stroke-dasharray="5 2.2"/>
<path d="M395.9,124.3 L397.9,124.1 L399.9,123.9 L401.9,123.6 L403.9,123.4 L405.9,123.2 L407.9,123.0 L409.9,122.8 L411.9,122.6 L413.9,122.3 L415.9,122.1 L417.9,121.9 L419.9,121.7 L421.9,121.5 L423.9,121.4 L425.9,121.2 L427.9,121.0 L429.9,120.8 L431.9,120.6 L433.9,120.4 L435.9,120.3 L437.9,120.1 L439.9,119.9 L441.9,119.7 L443.9,119.5 L445.9,119.3 L447.9,119.1 L449.9,118.9 L451.9,118.8 L453.9,118.6 L455.9,118.4 L457.9,118.3 L459.9,118.2 L461.9,118.0 L463.9,117.9 L465.9,117.8 L467.9,117.8 L469.9,117.7 L471.9,117.7 L473.9,117.7 L475.9,117.7 L477.9,117.7 L479.9,117.6 L481.9,117.6 L483.9,117.6 L485.9,117.6 L487.9,117.6 L489.9,117.6 L491.9,117.6 L493.9,117.6 L495.9,117.6 L497.9,117.6 L499.9,117.6 L501.9,117.6 L503.9,117.6 L505.9,117.5 L507.9,117.5 L509.9,117.5 L511.9,117.5 L513.9,117.5 L515.9,117.5 L517.9,117.5 L519.9,117.5 L521.9,117.5 L523.9,117.5 L525.9,117.5 L527.9,117.5 L529.9,117.5 L531.9,117.5 L533.9,117.5 L535.9,117.5 L537.9,117.5 L539.9,117.4 L541.9,117.4 L543.9,117.4 L545.9,117.4 L547.9,117.4 L549.9,117.4 L551.9,117.4 L553.9,117.3 L555.9,117.3 L557.9,117.2 L559.9,117.2 L561.9,117.1 L563.9,117.1 L565.9,117.0 L567.9,116.9 L569.9,116.9 L571.9,116.8 L573.9,116.8 L575.9,116.7 L577.9,116.7 L579.9,116.6 L581.9,116.6 L583.9,116.5 L585.9,116.5 L587.9,116.5 L589.9,116.5 L590.7,116.5 L591.2,116.5 L591.7,116.5 L592.2,116.6 L592.7,116.6 L593.2,116.6 L593.7,116.7 L594.2,116.7 L594.7,116.7 L595.2,116.8 L595.7,116.8 L596.2,116.9 L596.7,116.9 L597.2,117.0 L597.7,117.0 L598.2,117.1 L598.7,117.2 L599.2,117.2 L599.7,117.3 L600.2,117.3 L600.7,117.4 L601.2,117.4 L601.7,117.5 L602.2,117.6 L602.7,117.6 L603.2,117.7 L603.7,117.8 L604.2,117.9 L604.7,118.0 L605.2,118.1 L605.7,118.1 L606.2,118.2 L606.7,118.3 L607.2,118.4 L607.7,118.5 L608.2,118.6 L608.7,118.7 L609.2,118.9 L609.7,119.0 L610.2,119.1 L610.7,119.2 L611.2,119.3 L611.7,119.4 L612.2,119.5 L612.7,119.7 L613.2,119.8 L613.7,119.9 L614.2,120.0 L614.7,120.1 L615.2,120.3 L615.7,120.4 L616.2,120.5 L616.7,120.6 L617.2,120.8 L617.7,120.9 L618.2,121.0 L618.7,121.2 L619.2,121.3 L619.7,121.4 L620.2,121.5 L620.7,121.7 L621.2,121.8 L621.7,121.9 L622.2,122.1 L622.7,122.2 L623.2,122.3 L623.7,122.5 L624.2,122.6 L624.7,122.8 L625.2,122.9 L625.7,123.1 L626.2,123.2 L626.7,123.4 L627.2,123.6 L627.7,123.7 L628.2,123.9 L628.7,124.1 L629.2,124.3 L629.7,124.5 L630.2,124.8 L630.7,125.0 L631.2,125.2 L631.7,125.5 L632.2,125.7 L632.7,126.0 L633.2,126.3 L633.7,126.6 L634.2,126.9 L634.7,127.2 L635.2,127.6 L635.7,128.0 L636.0,128.2 L636.3,128.4 L636.6,128.6 L636.9,128.9 L637.2,129.1 L637.5,129.4 L637.8,129.7 L638.1,129.9 L638.4,130.2 L638.7,130.5 L639.0,130.8 L639.3,131.1 L639.6,131.5 L639.9,131.9 L640.2,132.3 L640.5,132.7 L640.8,133.2 L641.1,133.7 L641.4,134.2 L641.7,134.7 L642.0,135.2 L642.3,135.7 L642.6,136.3 L642.9,136.9 L643.2,137.4 L643.5,138.0 L643.8,138.6 L644.1,139.2 L644.4,139.9 L644.7,140.6 L645.0,141.3 L645.3,142.1 L645.6,142.9 L645.9,143.7 L646.2,144.5 L646.5,145.3 L646.8,146.1 L647.1,146.9 L647.4,147.6 L647.7,148.3 L648.0,149.0 L648.3,149.6 L648.6,150.1 L648.9,150.6 L649.2,151.1 L649.5,151.6 L649.8,152.1 L650.1,152.7 L650.4,153.3 L650.7,154.0 L651.0,154.9 L651.3,156.0 L651.6,157.2 L651.9,158.6 L652.2,160.1 L652.5,161.8 L652.8,163.5 L653.1,165.4 L653.4,167.3 L653.7,169.3 L654.0,171.3 L654.3,173.4 L654.6,175.7 L654.9,178.2 L655.2,180.9 L655.5,183.7 L655.8,186.8 L656.1,190.1 L656.4,193.9 L656.7,198.2 L657.0,202.8 L657.3,207.7 L657.6,212.7 L657.9,218.0 L658.2,223.7 L658.5,229.7 L658.8,235.8 L659.1,242.1 L659.4,248.4 L659.7,254.8 L660.0,261.3 L660.3,267.8 L660.6,274.4 L660.9,280.0 L661.2,280.0 L661.5,280.0 L661.8,280.0 L662.1,280.0 L662.4,280.0 L662.7,280.0 L663.0,280.0 L663.3,280.0 L663.6,280.0 L663.9,280.0 L664.2,280.0 L664.5,280.0 L664.8,280.0 L665.1,280.0 L665.4,280.0 L665.7,280.0" fill="none" stroke="#8da0cb" stroke-width="1.45" stroke-dasharray="5 2.2"/>
</g></g>
<path d="M395.9,16.1 V211.5 H678.9" stroke="#111" stroke-width="0.9" fill="none"/>
<path d="M395.9,211.5 h-3.3 M395.9,178.9 h-3.3 M395.9,146.4 h-3.3 M395.9,113.8 h-3.3 M395.9,81.2 h-3.3 M395.9,48.7 h-3.3 M395.9,16.1 h-3.3 M415.7,211.5 v3.3 M481.2,211.5 v3.3 M546.7,211.5 v3.3 M612.2,211.5 v3.3 M677.7,211.5 v3.3" stroke="#111" stroke-width="0.85" fill="none"/>
<path d="M396.0,211.5 v2 M401.2,211.5 v2 M405.6,211.5 v2 M409.4,211.5 v2 M412.7,211.5 v2 M435.4,211.5 v2 M447.0,211.5 v2 M455.1,211.5 v2 M461.5,211.5 v2 M466.7,211.5 v2 M471.1,211.5 v2 M474.9,211.5 v2 M478.2,211.5 v2 M500.9,211.5 v2 M512.5,211.5 v2 M520.6,211.5 v2 M527.0,211.5 v2 M532.2,211.5 v2 M536.6,211.5 v2 M540.4,211.5 v2 M543.7,211.5 v2 M566.4,211.5 v2 M578.0,211.5 v2 M586.1,211.5 v2 M592.5,211.5 v2 M597.7,211.5 v2 M602.1,211.5 v2 M605.9,211.5 v2 M609.2,211.5 v2 M631.9,211.5 v2 M643.5,211.5 v2 M651.6,211.5 v2 M658.0,211.5 v2 M663.2,211.5 v2 M667.6,211.5 v2 M671.4,211.5 v2 M674.7,211.5 v2" stroke="#111" stroke-width="0.7" fill="none"/>
<text class="t" x="389.7" y="215.1" text-anchor="end">0.85</text>
<text class="t" x="389.7" y="182.5" text-anchor="end">0.90</text>
<text class="t" x="389.7" y="150.0" text-anchor="end">0.95</text>
<text class="t" x="389.7" y="117.4" text-anchor="end">1.00</text>
<text class="t" x="389.7" y="84.8" text-anchor="end">1.05</text>
<text class="t" x="389.7" y="52.3" text-anchor="end">1.10</text>
<text class="t" x="389.7" y="19.7" text-anchor="end">1.15</text>
<text class="t" x="402.8" y="226.8">10<tspan class="s" dy="-4.9">−4</tspan></text>
<text class="t" x="468.3" y="226.8">10<tspan class="s" dy="-4.9">−3</tspan></text>
<text class="t" x="533.8" y="226.8">10<tspan class="s" dy="-4.9">−2</tspan></text>
<text class="t" x="599.3" y="226.8">10<tspan class="s" dy="-4.9">−1</tspan></text>
<text class="t" x="667.0" y="226.8">10<tspan class="s" dy="-4.9">0</tspan></text>
<text class="t" x="538.0" y="240.2" text-anchor="middle">x</text>
<text class="t" transform="translate(360.7,113.8) rotate(-90)" text-anchor="middle">Ratio to NNPDF4.0</text>
<text class="ttl" x="537.1" y="9.2" text-anchor="middle">g at 100 GeV</text>
<rect x="401.4" y="155.4" width="255.4" height="50.7" rx="2" ry="2" fill="#fff" fill-opacity="0.8" stroke="#cccccc" stroke-opacity="0.8" stroke-width="0.9"/>
<rect x="405.4" y="160.0" width="21.3" height="7.4" fill="#66c2a5" fill-opacity="0.5" stroke="#66c2a5" stroke-width="1.1" stroke-dasharray="2.7 1.1"/>
<path d="M410.6,167.7 L418,160.3" stroke="#333" stroke-opacity="0.75" stroke-width="1" fill="none"/>
<text class="t" x="435.15" y="167.20">NNPDF4.0 (68 c.l.+1σ)</text>
<rect x="405.4" y="175.9" width="21.3" height="7.4" fill="#fc8d62" fill-opacity="0.5" stroke="#fc8d62" stroke-width="1.1" stroke-dasharray="2.7 1.1"/>
<path d="M419.5,176.5 L425,182" stroke="#333" stroke-opacity="0.75" stroke-width="1" fill="none"/>
<text class="t" x="435.15" y="183.15">NNPDF4.0 (no Z pT) (68 c.l.+1σ)</text>
<rect x="405.4" y="191.9" width="21.3" height="7.4" fill="#8da0cb" fill-opacity="0.5" stroke="#8da0cb" stroke-width="1.1" stroke-dasharray="2.7 1.1"/>
<path d="M407.5,194.9 H424.3" stroke="#333" stroke-opacity="0.75" stroke-width="1" fill="none"/>
<text class="t" x="435.15" y="199.10">NNPDF4.0 (no direct photon) (68 c.l.+1σ)</text>
</svg></body></html>
